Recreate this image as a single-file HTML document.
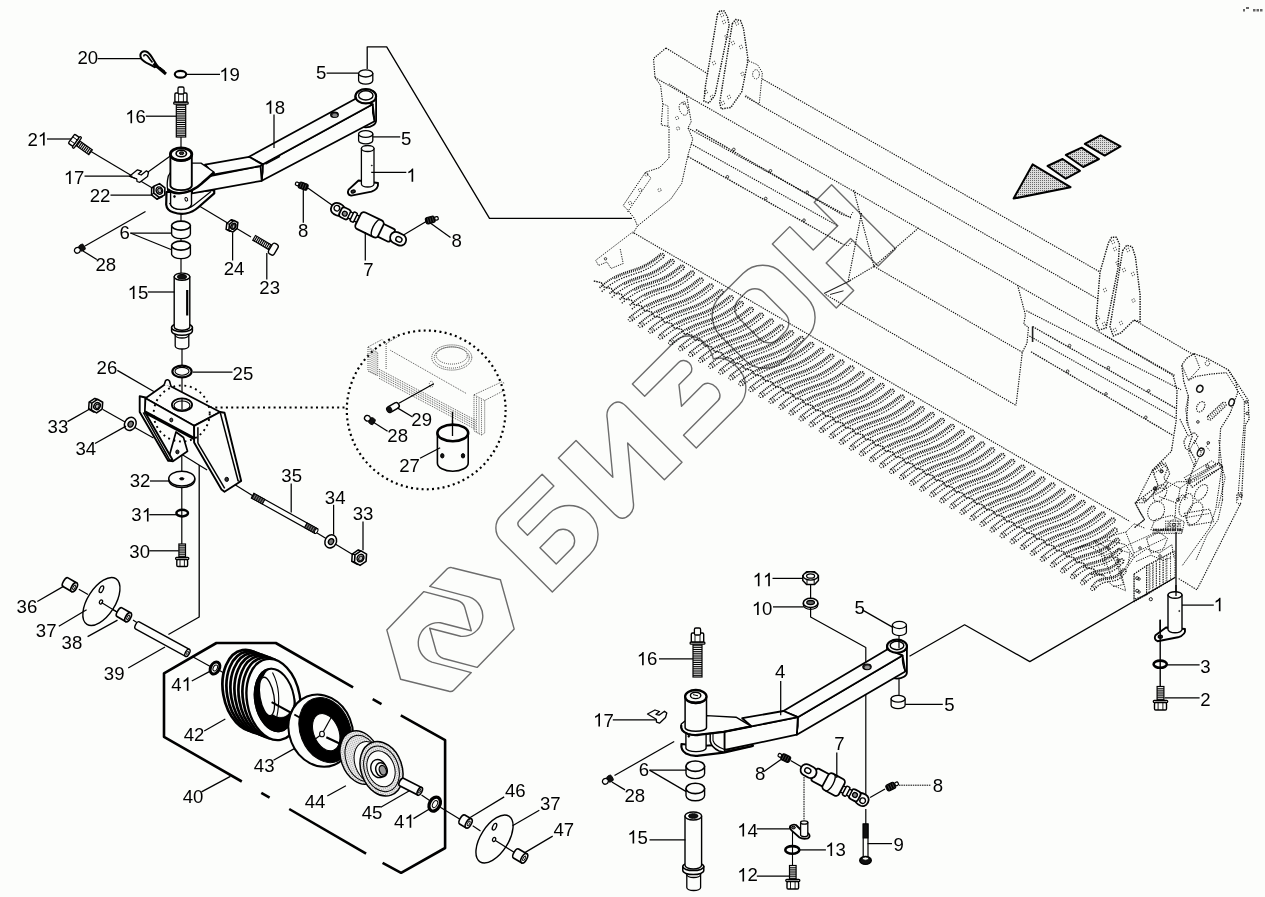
<!DOCTYPE html>
<html><head><meta charset="utf-8"><title>Parts diagram</title>
<style>html,body{margin:0;padding:0;background:#fcfdfb;}
svg{display:block;will-change:transform;}
text{font-family:"Liberation Sans",sans-serif;fill:#000;}</style></head>
<body><svg width="1265" height="897" viewBox="0 0 1265 897">
<rect width="1265" height="897" fill="#fcfdfb"/>
<g id="watermark"><path transform="rotate(-45) translate(-28.0 718.7)" d="M18,0 L76,0 L76,16.6 L27.5,16.6 Q22.5,16.6 22.5,21.6 L22.5,32.8 L53,32.8 A28.4,28.8 0 0 1 81.4,61.6 A28.4,28.8 0 0 1 53,90.4 L0,90.4 L0,18 A18,18 0 0 1 18,0 Z M22.5,50.4 L44,50.4 A11.2,11.5 0 0 1 44,73.4 L22.5,73.4 Z" fill="none" stroke="#6c6c6c" stroke-width="1.4" stroke-linejoin="round"/>
<path transform="rotate(-45) translate(71.0 718.7)" d="M0,0 L24.9,0 L24.9,52.1 L62.3,6.8 Q67,0 74,0 Q84.4,0 84.4,11 L84.4,90.4 L59.5,90.4 L59.5,38.4 L22.1,83.7 Q17.5,90.4 10.5,90.4 Q0,90.4 0,79.5 Z" fill="none" stroke="#6c6c6c" stroke-width="1.4" stroke-linejoin="round"/>
<path transform="rotate(-45) translate(175.6 718.7)" d="M0,0 L60,0 A20,21 0 0 1 80,21 C80,30 78,35 75,39.5 C82,43 86,50 86,62 A26,28.4 0 0 1 60,90.4 L0,90.4 L0,72.3 L49,72.3 A8,10.9 0 0 0 49,50.5 L19,50.5 L32.4,33.5 L48,33.5 A7,8 0 0 0 48,17.4 L0,17.4 Z" fill="none" stroke="#6c6c6c" stroke-width="1.4" stroke-linejoin="round"/>
<path transform="rotate(-45) translate(272.0 718.7)" d="M28,0 L60,0 A28,28 0 0 1 88,28 L88,62.4 A28,28 0 0 1 60,90.4 L28,90.4 A28,28 0 0 1 0,62.4 L0,28 A28,28 0 0 1 28,0 Z M38.5,15.5 L48.4,15.5 A13,13 0 0 1 61.4,28.5 L61.4,58.1 A13,13 0 0 1 48.4,71.1 L38.5,71.1 A13,13 0 0 1 25.5,58.1 L25.5,28.5 A13,13 0 0 1 38.5,15.5 Z" fill="none" stroke="#6c6c6c" stroke-width="1.4" stroke-linejoin="round"/>
<path transform="rotate(-45) translate(373.6 718.7)" d="M0,0 L24.6,0 L24.6,33.2 L59.2,33.2 L59.2,0 L83.8,0 L83.8,90.4 L59.2,90.4 L59.2,51.5 L24.6,51.5 L24.6,90.4 L0,90.4 Z" fill="none" stroke="#6c6c6c" stroke-width="1.4" stroke-linejoin="round"/>
<path d="M429.7,586.4 L447.3,568.8 Q449.2,566.9 452,567.7 L500.4,579.8 L514.2,629.1 L477.1,667.4 L443.5,658.5 Q437.8,656.6 436.3,651.8 L429.7,628.2 L460.6,636.3 A20.3,20.3 0 0 0 469.1,596.9 Z" fill="none" stroke="#6c6c6c" stroke-width="1.4" stroke-linejoin="round"/>
<path d="M429.7,586.4 L447.3,568.8 Q449.2,566.9 452,567.7 L500.4,579.8 L514.2,629.1 L477.1,667.4 L443.5,658.5 Q437.8,656.6 436.3,651.8 L429.7,628.2 L460.6,636.3 A20.3,20.3 0 0 0 469.1,596.9 Z" transform="rotate(180 450.5 629.5)" fill="none" stroke="#6c6c6c" stroke-width="1.4" stroke-linejoin="round"/></g>
<g id="machine"><path d="M762.4,79.0 L1100.0,272.0" fill="none" stroke="#111" stroke-width="1.15" stroke-linejoin="round" stroke-dasharray="1.3 1.1"/>
<path d="M745.0,96.4 L1099.0,299.6" fill="none" stroke="#111" stroke-width="1.15" stroke-linejoin="round" stroke-dasharray="1.3 1.1"/>
<path d="M1134.0,320.0 L1194.0,355.0" fill="none" stroke="#111" stroke-width="1.15" stroke-linejoin="round" stroke-dasharray="1.3 1.1"/>
<path d="M666.0,48.0 L708.6,74.3" fill="none" stroke="#111" stroke-width="1.15" stroke-linejoin="round" stroke-dasharray="1.3 1.1"/>
<path d="M655.0,77.5 L1175.0,375.5" fill="none" stroke="#111" stroke-width="1.15" stroke-linejoin="round" stroke-dasharray="1.3 1.1"/>
<path d="M666.0,48.0 L653.5,58.5 L655.0,77.5" fill="none" stroke="#111" stroke-width="1.15" stroke-linejoin="round" stroke-dasharray="1.3 1.1"/>
<path d="M634.0,233.0 L1130.0,521.5" fill="none" stroke="#111" stroke-width="1.15" stroke-linejoin="round" stroke-dasharray="1.3 1.1"/>
<path d="M655.0,77.5 L660.6,85.4 L662.8,104.3 L661.2,125.0 L669.0,126.5 L669.0,158.0 L659.6,167.6 L645.4,172.3 L623.2,205.5 L628.0,210.3 L634.3,218.2 L637.5,226.0 L632.7,234.0" fill="none" stroke="#111" stroke-width="1.0" stroke-linejoin="round" stroke-dasharray="1.4 1.1"/>
<path d="M669.0,83.8 L686.5,94.9 L691.2,121.7 L688.0,128.0 L692.8,139.0 L688.0,155.0 L681.7,183.4 L670.7,199.2 L637.5,226.0" fill="none" stroke="#111" stroke-width="1.0" stroke-linejoin="round" stroke-dasharray="1.4 1.1"/>
<path d="M663.0,104.0 L668.0,106.0 L668.0,126.0" fill="none" stroke="#111" stroke-width="0.8" stroke-linejoin="round" stroke-dasharray="1.3 1.1"/>
<ellipse cx="646.5" cy="174.5" rx="1.6" ry="1.6" fill="none" stroke="#111" stroke-width="0.8" stroke-dasharray="1.3 1.1"/>
<ellipse cx="640.0" cy="190.0" rx="1.6" ry="1.6" fill="none" stroke="#111" stroke-width="0.8" stroke-dasharray="1.3 1.1"/>
<ellipse cx="630.0" cy="203.0" rx="1.6" ry="1.6" fill="none" stroke="#111" stroke-width="0.8" stroke-dasharray="1.3 1.1"/>
<ellipse cx="659.5" cy="190.0" rx="1.6" ry="1.6" fill="none" stroke="#111" stroke-width="0.8" stroke-dasharray="1.3 1.1"/>
<ellipse cx="678.0" cy="128.5" rx="1.6" ry="1.6" fill="none" stroke="#111" stroke-width="0.8" stroke-dasharray="1.3 1.1"/>
<ellipse cx="684.0" cy="103.0" rx="1.6" ry="1.6" fill="none" stroke="#111" stroke-width="0.8" stroke-dasharray="1.3 1.1"/>
<ellipse cx="677.0" cy="118.0" rx="1.6" ry="1.6" fill="none" stroke="#111" stroke-width="0.8" stroke-dasharray="1.3 1.1"/>
<ellipse cx="683.5" cy="109.0" rx="4.0" ry="6.5" fill="none" stroke="#111" stroke-width="0.9" transform="rotate(-20 683.5 109.0)" stroke-dasharray="1.3 1.1"/>
<path d="M645.4,172.3 L651.0,178.0 L627.5,212.0" fill="none" stroke="#111" stroke-width="0.9" stroke-linejoin="round" stroke-dasharray="1.3 1.1"/>
<path d="M688.0,128.0 L851.0,218.0" fill="none" stroke="#111" stroke-width="1.15" stroke-linejoin="round" stroke-dasharray="1.3 1.1"/>
<path d="M696.0,129.6 L843.0,215.0" fill="none" stroke="#111" stroke-width="1.3" stroke-linejoin="round" stroke-dasharray="1.5 1"/>
<path d="M691.0,143.9 L838.0,226.0" fill="none" stroke="#111" stroke-width="1.15" stroke-linejoin="round" stroke-dasharray="1.3 1.1"/>
<path d="M688.0,156.5 L841.4,243.5" fill="none" stroke="#111" stroke-width="1.3" stroke-linejoin="round" stroke-dasharray="1.5 1"/>
<path d="M843.0,215.0 L850.0,217.0 L853.0,212.0" fill="none" stroke="#111" stroke-width="0.9" stroke-linejoin="round" stroke-dasharray="1.3 1.1"/>
<path d="M841.4,243.5 L848.0,246.0 L852.0,241.0" fill="none" stroke="#111" stroke-width="0.9" stroke-linejoin="round" stroke-dasharray="1.3 1.1"/>
<ellipse cx="733.8" cy="149.4" rx="1.3" ry="1.3" fill="none" stroke="#111" stroke-width="0.8" />
<ellipse cx="727.4" cy="176.8" rx="1.3" ry="1.3" fill="none" stroke="#111" stroke-width="0.8" />
<ellipse cx="770.5" cy="170.8" rx="1.3" ry="1.3" fill="none" stroke="#111" stroke-width="0.8" />
<ellipse cx="765.7" cy="198.5" rx="1.3" ry="1.3" fill="none" stroke="#111" stroke-width="0.8" />
<ellipse cx="807.2" cy="192.2" rx="1.3" ry="1.3" fill="none" stroke="#111" stroke-width="0.8" />
<ellipse cx="804.0" cy="220.2" rx="1.3" ry="1.3" fill="none" stroke="#111" stroke-width="0.8" />
<path d="M717.5,14.2 L719.7,11.0 L724.4,11.0 L727.6,17.4 L729.2,25.3 L715.0,95.0 L709.0,103.0 L703.9,101.2 L705.5,85.4 Z" fill="none" stroke="#111" stroke-width="1.4" stroke-linejoin="round" stroke-dasharray="1.4 1.1"/>
<path d="M732.3,23.7 L735.5,19.5 L740.5,20.5 L743.5,28.5 L748.1,60.0 L741.8,91.7 L730.8,107.5 L721.3,109.0 L719.7,102.8 Z" fill="none" stroke="#111" stroke-width="1.4" stroke-linejoin="round" stroke-dasharray="1.4 1.1"/>
<path d="M746.6,60.0 L757.6,64.8 L762.4,72.7 L759.2,104.3 L745.0,94.9" fill="none" stroke="#111" stroke-width="0.9" stroke-linejoin="round" stroke-dasharray="1.3 1.1"/>
<ellipse cx="756.0" cy="74.3" rx="3.4" ry="4.6" fill="none" stroke="#111" stroke-width="0.9" stroke-dasharray="1.3 1.1"/>
<ellipse cx="722.0" cy="15.0" rx="1.6" ry="1.8" fill="none" stroke="#111" stroke-width="0.8" stroke-dasharray="1.3 1.1"/>
<ellipse cx="724.0" cy="22.0" rx="1.6" ry="1.8" fill="none" stroke="#111" stroke-width="0.8" stroke-dasharray="1.3 1.1"/>
<ellipse cx="737.0" cy="23.5" rx="1.6" ry="1.8" fill="none" stroke="#111" stroke-width="0.8" stroke-dasharray="1.3 1.1"/>
<ellipse cx="726.5" cy="36.5" rx="1.6" ry="1.8" fill="none" stroke="#111" stroke-width="0.8" stroke-dasharray="1.3 1.1"/>
<ellipse cx="733.0" cy="43.0" rx="1.6" ry="1.8" fill="none" stroke="#111" stroke-width="0.8" stroke-dasharray="1.3 1.1"/>
<ellipse cx="741.0" cy="47.0" rx="1.6" ry="1.8" fill="none" stroke="#111" stroke-width="0.8" stroke-dasharray="1.3 1.1"/>
<ellipse cx="714.0" cy="63.0" rx="1.6" ry="1.8" fill="none" stroke="#111" stroke-width="0.8" stroke-dasharray="1.3 1.1"/>
<ellipse cx="742.5" cy="74.0" rx="1.6" ry="1.8" fill="none" stroke="#111" stroke-width="0.8" stroke-dasharray="1.3 1.1"/>
<ellipse cx="706.0" cy="92.0" rx="1.6" ry="1.8" fill="none" stroke="#111" stroke-width="0.8" stroke-dasharray="1.3 1.1"/>
<ellipse cx="712.0" cy="97.0" rx="1.6" ry="1.8" fill="none" stroke="#111" stroke-width="0.8" stroke-dasharray="1.3 1.1"/>
<ellipse cx="723.0" cy="103.0" rx="1.6" ry="1.8" fill="none" stroke="#111" stroke-width="0.8" stroke-dasharray="1.3 1.1"/>
<ellipse cx="729.0" cy="97.0" rx="1.6" ry="1.8" fill="none" stroke="#111" stroke-width="0.8" stroke-dasharray="1.3 1.1"/>
<path d="M853.7,190.0 L874.0,266.4 L847.4,282.0" fill="none" stroke="#111" stroke-width="1.15" stroke-linejoin="round" stroke-dasharray="1.3 1.1"/>
<path d="M861.5,213.0 L848.2,281.0" fill="none" stroke="#111" stroke-width="1.15" stroke-linejoin="round" stroke-dasharray="1.3 1.1"/>
<line x1="824.0" y1="293.6" x2="850.5" y2="280.5" stroke="#222" stroke-width="1.1" />
<line x1="830.0" y1="294.5" x2="843.5" y2="290.8" stroke="#222" stroke-width="1" />
<path d="M874.0,266.4 L919.2,227.4" fill="none" stroke="#111" stroke-width="1.15" stroke-linejoin="round" stroke-dasharray="1.3 1.1"/>
<path d="M874.0,266.4 L1022.3,352.3" fill="none" stroke="#111" stroke-width="1.15" stroke-linejoin="round" stroke-dasharray="1.3 1.1"/>
<path d="M825.6,294.5 L1016.0,405.4" fill="none" stroke="#111" stroke-width="1.15" stroke-linejoin="round" stroke-dasharray="1.3 1.1"/>
<path d="M1017.6,285.2 L1025.4,314.8 L1023.8,324.0 L1028.5,327.3 L1027.0,343.0 L1022.3,352.3 L1016.0,405.4" fill="none" stroke="#111" stroke-width="1.15" stroke-linejoin="round" stroke-dasharray="1.3 1.1"/>
<line x1="1032.6" y1="326.5" x2="1032.6" y2="342.0" stroke="#222" stroke-width="1.6" />
<path d="M1026.3,310.7 L1181.0,389.7" fill="none" stroke="#111" stroke-width="1.15" stroke-linejoin="round" stroke-dasharray="1.3 1.1"/>
<path d="M1032.6,326.5 L1176.5,408.7" fill="none" stroke="#111" stroke-width="1.3" stroke-linejoin="round" stroke-dasharray="1.5 1"/>
<path d="M1029.4,336.0 L1175.0,418.0" fill="none" stroke="#111" stroke-width="1.15" stroke-linejoin="round" stroke-dasharray="1.3 1.1"/>
<path d="M1031.0,351.8 L1173.3,435.6" fill="none" stroke="#111" stroke-width="1.3" stroke-linejoin="round" stroke-dasharray="1.5 1"/>
<ellipse cx="1069.6" cy="345.6" rx="1.3" ry="1.3" fill="none" stroke="#111" stroke-width="0.8" />
<ellipse cx="1067.6" cy="371.2" rx="1.3" ry="1.3" fill="none" stroke="#111" stroke-width="0.8" />
<ellipse cx="1108.4" cy="367.7" rx="1.3" ry="1.3" fill="none" stroke="#111" stroke-width="0.8" />
<ellipse cx="1106.0" cy="393.9" rx="1.3" ry="1.3" fill="none" stroke="#111" stroke-width="0.8" />
<ellipse cx="1148.7" cy="390.8" rx="1.3" ry="1.3" fill="none" stroke="#111" stroke-width="0.8" />
<ellipse cx="1145.8" cy="417.3" rx="1.3" ry="1.3" fill="none" stroke="#111" stroke-width="0.8" />
<path d="M1108.5,242.7 L1111.6,237.3 L1116.4,237.3 L1119.5,244.3 L1118.0,268.0 L1106.0,328.0 L1099.0,330.0 L1096.0,322.0 L1100.0,272.0 Z" fill="none" stroke="#111" stroke-width="1.4" stroke-linejoin="round" stroke-dasharray="1.4 1.1"/>
<path d="M1122.7,250.6 L1126.8,245.2 L1132.2,246.8 L1135.4,257.0 L1140.1,294.9 L1140.1,321.7 L1133.8,320.2 L1121.0,332.8 L1113.2,336.0 L1110.0,326.5 Z" fill="none" stroke="#111" stroke-width="1.4" stroke-linejoin="round" stroke-dasharray="1.4 1.1"/>
<ellipse cx="1113.0" cy="242.0" rx="1.6" ry="1.8" fill="none" stroke="#111" stroke-width="0.8" stroke-dasharray="1.3 1.1"/>
<ellipse cx="1115.0" cy="249.0" rx="1.6" ry="1.8" fill="none" stroke="#111" stroke-width="0.8" stroke-dasharray="1.3 1.1"/>
<ellipse cx="1128.0" cy="250.0" rx="1.6" ry="1.8" fill="none" stroke="#111" stroke-width="0.8" stroke-dasharray="1.3 1.1"/>
<ellipse cx="1117.5" cy="263.0" rx="1.6" ry="1.8" fill="none" stroke="#111" stroke-width="0.8" stroke-dasharray="1.3 1.1"/>
<ellipse cx="1124.0" cy="270.0" rx="1.6" ry="1.8" fill="none" stroke="#111" stroke-width="0.8" stroke-dasharray="1.3 1.1"/>
<ellipse cx="1133.0" cy="274.0" rx="1.6" ry="1.8" fill="none" stroke="#111" stroke-width="0.8" stroke-dasharray="1.3 1.1"/>
<ellipse cx="1105.0" cy="290.0" rx="1.6" ry="1.8" fill="none" stroke="#111" stroke-width="0.8" stroke-dasharray="1.3 1.1"/>
<ellipse cx="1133.5" cy="300.5" rx="1.6" ry="1.8" fill="none" stroke="#111" stroke-width="0.8" stroke-dasharray="1.3 1.1"/>
<ellipse cx="1098.0" cy="318.0" rx="1.6" ry="1.8" fill="none" stroke="#111" stroke-width="0.8" stroke-dasharray="1.3 1.1"/>
<ellipse cx="1104.0" cy="324.0" rx="1.6" ry="1.8" fill="none" stroke="#111" stroke-width="0.8" stroke-dasharray="1.3 1.1"/>
<ellipse cx="1115.0" cy="330.0" rx="1.6" ry="1.8" fill="none" stroke="#111" stroke-width="0.8" stroke-dasharray="1.3 1.1"/>
<ellipse cx="1121.0" cy="323.0" rx="1.6" ry="1.8" fill="none" stroke="#111" stroke-width="0.8" stroke-dasharray="1.3 1.1"/>
<path d="M1194.1,353.7 L1186.5,358.4 L1181.8,365.1 L1183.7,381.2 L1188.4,396.4 L1186.5,421.0 L1192.2,436.2 L1188.4,447.5 L1196.0,460.8 L1188.4,481.7 L1184.6,500.0" fill="none" stroke="#111" stroke-width="1.25" stroke-linejoin="round" stroke-dasharray="1.4 1.1"/>
<path d="M1194.1,353.7 L1207.4,358.4 L1228.2,369.8" fill="none" stroke="#111" stroke-width="1.25" stroke-linejoin="round" stroke-dasharray="1.4 1.1"/>
<path d="M1173.2,375.5 L1177.0,390.7 L1176.1,421.0 L1171.4,451.3 L1152.4,470.3 L1158.1,485.5 L1139.1,500.0" fill="none" stroke="#111" stroke-width="1.25" stroke-linejoin="round" stroke-dasharray="1.4 1.1"/>
<path d="M1105.0,335.7 L1173.2,375.5" fill="none" stroke="#111" stroke-width="1.15" stroke-linejoin="round" stroke-dasharray="1.3 1.1"/>
<path d="M1228.2,369.8 L1235.8,381.2 L1237.7,392.6 L1230.1,413.4 L1220.6,428.6 L1218.7,462.7 L1222.5,466.5 L1222.5,500.0" fill="none" stroke="#111" stroke-width="1.2" stroke-linejoin="round" stroke-dasharray="1.3 1.1"/>
<path d="M1228.2,369.8 L1248.1,400.1 L1249.1,419.1 L1245.3,424.8 L1241.5,500.0" fill="none" stroke="#111" stroke-width="1.2" stroke-linejoin="round" stroke-dasharray="1.3 1.1"/>
<path d="M1226.3,372.7 L1244.3,401.1 L1244.3,421.0 L1237.7,500.0" fill="none" stroke="#111" stroke-width="1.0" stroke-linejoin="round" stroke-dasharray="1.3 1.1"/>
<path d="M1188.4,380.2 L1196.0,376.4 L1211.2,374.0 L1226.3,372.7" fill="none" stroke="#111" stroke-width="1.2" stroke-linejoin="round" stroke-dasharray="1.3 1.1"/>
<path d="M1181.8,365.1 L1188.4,380.2" fill="none" stroke="#111" stroke-width="1.0" stroke-linejoin="round" stroke-dasharray="1.3 1.1"/>
<path d="M1194.1,353.7 L1199.8,367.9 L1188.4,380.2" fill="none" stroke="#111" stroke-width="1.0" stroke-linejoin="round" stroke-dasharray="1.3 1.1"/>
<path d="M1188.4,481.7 L1218.7,462.7 L1222.5,466.5 L1192.2,487.3 Z" fill="none" stroke="#111" stroke-width="1.2" stroke-linejoin="round" stroke-dasharray="1.3 1.1"/>
<path d="M1194.1,479.8 L1216.8,465.5" fill="none" stroke="#111" stroke-width="0.9" stroke-linejoin="round" stroke-dasharray="1.3 1.1"/>
<path d="M1196.0,483.6 L1218.7,469.3" fill="none" stroke="#111" stroke-width="0.9" stroke-linejoin="round" stroke-dasharray="1.3 1.1"/>
<path d="M1186.5,436.2 L1183.7,441.8 L1185.6,448.5 L1191.3,452.3" fill="none" stroke="#111" stroke-width="1.2" stroke-linejoin="round" stroke-dasharray="1.3 1.1"/>
<path d="M1179.9,419.1 L1188.4,436.2 L1194.1,432.4 L1197.9,436.2 L1194.1,443.7" fill="none" stroke="#111" stroke-width="1.1" stroke-linejoin="round" stroke-dasharray="1.3 1.1"/>
<path d="M1152.4,470.3 L1161.9,462.7 L1167.6,468.4 L1163.8,477.9 L1167.6,483.6 L1161.9,491.1 L1154.3,494.9" fill="none" stroke="#111" stroke-width="1.1" stroke-linejoin="round" stroke-dasharray="1.3 1.1"/>
<path d="M1161.9,491.1 L1177.0,481.7 L1188.4,481.7" fill="none" stroke="#111" stroke-width="1.0" stroke-linejoin="round" stroke-dasharray="1.3 1.1"/>
<path d="M1188.4,396.4 L1185.6,409.6 L1188.4,424.8" fill="none" stroke="#111" stroke-width="0.9" stroke-linejoin="round" stroke-dasharray="1.3 1.1"/>
<ellipse cx="1199.8" cy="388.8" rx="3.0" ry="3.6" fill="none" stroke="#111" stroke-width="1.6" transform="rotate(30 1199.8 388.8)" />
<ellipse cx="1200.7" cy="406.8" rx="3.6" ry="5.6" fill="none" stroke="#111" stroke-width="1.1" transform="rotate(30 1200.7 406.8)" stroke-dasharray="1.3 1.1"/>
<ellipse cx="1231.6" cy="402.4" rx="2.6" ry="3.6" fill="none" stroke="#111" stroke-width="1.4" transform="rotate(20 1231.6 402.4)" />
<ellipse cx="1200.7" cy="452.3" rx="3.0" ry="4.5" fill="none" stroke="#111" stroke-width="1.4" transform="rotate(30 1200.7 452.3)" />
<ellipse cx="1207.4" cy="363.2" rx="2.2" ry="2.6" fill="none" stroke="#111" stroke-width="1" stroke-dasharray="1.3 1.1"/>
<rect x="1204.8" y="408.7" width="24" height="4.8" rx="2.4" fill="none" stroke="#111" stroke-width="1.1" stroke-dasharray="1.3 1.1" transform="rotate(-43 1216.8 411.1)"/>
<line x1="1208.3" y1="416.3" x2="1210.9" y2="418.9" stroke="#111" stroke-width="0.7" />
<line x1="1210.1" y1="414.7" x2="1212.7" y2="417.3" stroke="#111" stroke-width="0.7" />
<line x1="1211.8" y1="413.0" x2="1214.4" y2="415.6" stroke="#111" stroke-width="0.7" />
<line x1="1213.5" y1="411.4" x2="1216.1" y2="414.0" stroke="#111" stroke-width="0.7" />
<line x1="1215.2" y1="409.8" x2="1217.8" y2="412.4" stroke="#111" stroke-width="0.7" />
<line x1="1216.9" y1="408.1" x2="1219.5" y2="410.7" stroke="#111" stroke-width="0.7" />
<line x1="1218.6" y1="406.5" x2="1221.2" y2="409.1" stroke="#111" stroke-width="0.7" />
<line x1="1220.3" y1="404.9" x2="1222.9" y2="407.5" stroke="#111" stroke-width="0.7" />
<line x1="1222.0" y1="403.2" x2="1224.6" y2="405.8" stroke="#111" stroke-width="0.7" />
<ellipse cx="1197.9" cy="421.9" rx="1.3" ry="1.3" fill="none" stroke="#111" stroke-width="0.9" />
<ellipse cx="1208.3" cy="442.8" rx="1.3" ry="1.3" fill="none" stroke="#111" stroke-width="0.9" />
<ellipse cx="1161.9" cy="471.2" rx="1.3" ry="1.3" fill="none" stroke="#111" stroke-width="0.9" />
<ellipse cx="1155.2" cy="489.2" rx="1.3" ry="1.3" fill="none" stroke="#111" stroke-width="0.9" />
<ellipse cx="1246.2" cy="402.0" rx="1.3" ry="1.3" fill="none" stroke="#111" stroke-width="0.9" />
<ellipse cx="1247.2" cy="413.4" rx="1.3" ry="1.3" fill="none" stroke="#111" stroke-width="0.9" />
<path d="M1240.9,502.8 L1196.9,589.8 L1178.0,578.2" fill="none" stroke="#111" stroke-width="1.1" stroke-linejoin="round" stroke-dasharray="1.4 1.1"/>
<path d="M1222.5,500.0 L1218.0,520.0 L1207.0,535.0 L1196.0,560.0" fill="none" stroke="#111" stroke-width="1.0" stroke-linejoin="round" stroke-dasharray="1.3 1.1"/>
<path d="M1139.0,500.0 L1135.1,502.8 L1144.5,519.6 L1134.0,528.0" fill="none" stroke="#111" stroke-width="1.1" stroke-linejoin="round" stroke-dasharray="1.4 1.1"/>
<ellipse cx="1160.0" cy="493.0" rx="6.0" ry="9.0" fill="none" stroke="#111" stroke-width="1.0" transform="rotate(30 1160.0 493.0)" stroke-dasharray="1.3 1.1"/>
<ellipse cx="1186.0" cy="505.0" rx="6.0" ry="12.0" fill="none" stroke="#111" stroke-width="1.0" transform="rotate(20 1186.0 505.0)" stroke-dasharray="1.3 1.1"/>
<ellipse cx="1174.0" cy="523.8" rx="5.0" ry="4.0" fill="none" stroke="#111" stroke-width="0.9" stroke-dasharray="1.3 1.1"/>
<line x1="1153.0" y1="530.0" x2="1182.0" y2="530.0" stroke="#111" stroke-width="0.8" stroke-dasharray="1.3 1.1"/>
<line x1="1153.0" y1="530.0" x2="1182.0" y2="530.0" stroke="#111" stroke-width="0.8" stroke-dasharray="1.3 1.1"/>
<line x1="1153.0" y1="530.0" x2="1182.0" y2="530.0" stroke="#111" stroke-width="0.8" stroke-dasharray="1.3 1.1"/>
<line x1="1153.0" y1="530.0" x2="1182.0" y2="530.0" stroke="#111" stroke-width="0.8" stroke-dasharray="1.3 1.1"/>
<line x1="1153.0" y1="530.0" x2="1182.0" y2="530.0" stroke="#111" stroke-width="0.8" stroke-dasharray="1.3 1.1"/>
<line x1="1153.0" y1="530.0" x2="1182.0" y2="530.0" stroke="#111" stroke-width="0.8" stroke-dasharray="1.3 1.1"/>
<line x1="1153.0" y1="530.0" x2="1182.0" y2="530.0" stroke="#111" stroke-width="0.8" stroke-dasharray="1.3 1.1"/>
<line x1="1153.0" y1="530.0" x2="1182.0" y2="530.0" stroke="#111" stroke-width="0.8" stroke-dasharray="1.3 1.1"/>
<rect x="1153" y="529" width="29" height="4.5" fill="none" stroke="#111" stroke-width="0.8" stroke-dasharray="1.3 1.1"/>
<line x1="1154.0" y1="529.0" x2="1154.0" y2="533.5" stroke="#666" stroke-width="0.5" />
<line x1="1156.1" y1="529.0" x2="1156.1" y2="533.5" stroke="#666" stroke-width="0.5" />
<line x1="1158.2" y1="529.0" x2="1158.2" y2="533.5" stroke="#666" stroke-width="0.5" />
<line x1="1160.3" y1="529.0" x2="1160.3" y2="533.5" stroke="#666" stroke-width="0.5" />
<line x1="1162.4" y1="529.0" x2="1162.4" y2="533.5" stroke="#666" stroke-width="0.5" />
<line x1="1164.5" y1="529.0" x2="1164.5" y2="533.5" stroke="#666" stroke-width="0.5" />
<line x1="1166.6" y1="529.0" x2="1166.6" y2="533.5" stroke="#666" stroke-width="0.5" />
<line x1="1168.7" y1="529.0" x2="1168.7" y2="533.5" stroke="#666" stroke-width="0.5" />
<line x1="1170.8" y1="529.0" x2="1170.8" y2="533.5" stroke="#666" stroke-width="0.5" />
<line x1="1172.9" y1="529.0" x2="1172.9" y2="533.5" stroke="#666" stroke-width="0.5" />
<line x1="1175.0" y1="529.0" x2="1175.0" y2="533.5" stroke="#666" stroke-width="0.5" />
<line x1="1177.1" y1="529.0" x2="1177.1" y2="533.5" stroke="#666" stroke-width="0.5" />
<line x1="1179.2" y1="529.0" x2="1179.2" y2="533.5" stroke="#666" stroke-width="0.5" />
<line x1="1181.3" y1="529.0" x2="1181.3" y2="533.5" stroke="#666" stroke-width="0.5" />
<path d="M1075.4,549.0 L1094.3,540.5 L1125.7,532.0 L1134.0,553.0 L1121.5,574.0 L1125.7,590.8 L1111.0,584.5 L1104.7,576.0 L1090.0,574.0" fill="none" stroke="#111" stroke-width="0.9" stroke-linejoin="round" stroke-dasharray="1.3 1.1"/>
<path d="M1094.3,540.5 L1104.0,556.0 L1112.0,580.0" fill="none" stroke="#111" stroke-width="0.9" stroke-linejoin="round" stroke-dasharray="1.3 1.1"/>
<path d="M1104.0,556.0 L1128.0,545.0" fill="none" stroke="#111" stroke-width="0.9" stroke-linejoin="round" stroke-dasharray="1.3 1.1"/>
<path d="M1134.0,574.0 L1146.6,565.7 L1146.6,595.0 L1134.0,602.0 Z" fill="none" stroke="#111" stroke-width="0.9" stroke-linejoin="round" stroke-dasharray="1.3 1.1"/>
<path d="M1146.6,565.7 L1175.0,551.0 L1175.0,578.0" fill="none" stroke="#111" stroke-width="0.9" stroke-linejoin="round" stroke-dasharray="1.3 1.1"/>
<path d="M1128.0,545.0 L1170.0,526.0" fill="none" stroke="#111" stroke-width="0.9" stroke-linejoin="round" stroke-dasharray="1.3 1.1"/>
<path d="M1134.0,553.0 L1166.0,538.0" fill="none" stroke="#111" stroke-width="0.9" stroke-linejoin="round" stroke-dasharray="1.3 1.1"/>
<line x1="1150.0" y1="566.0" x2="1150.0" y2="590.0" stroke="#111" stroke-width="0.7" stroke-dasharray="1.3 1.1"/>
<line x1="1153.2" y1="564.5" x2="1153.2" y2="588.5" stroke="#111" stroke-width="0.7" stroke-dasharray="1.3 1.1"/>
<line x1="1156.4" y1="563.0" x2="1156.4" y2="587.0" stroke="#111" stroke-width="0.7" stroke-dasharray="1.3 1.1"/>
<line x1="1159.6" y1="561.5" x2="1159.6" y2="585.5" stroke="#111" stroke-width="0.7" stroke-dasharray="1.3 1.1"/>
<line x1="1162.8" y1="560.0" x2="1162.8" y2="584.0" stroke="#111" stroke-width="0.7" stroke-dasharray="1.3 1.1"/>
<line x1="1166.0" y1="558.5" x2="1166.0" y2="582.5" stroke="#111" stroke-width="0.7" stroke-dasharray="1.3 1.1"/>
<ellipse cx="1150.8" cy="599.2" rx="1.6" ry="1.6" fill="none" stroke="#111" stroke-width="0.9" />
<ellipse cx="1139.0" cy="579.0" rx="1.3" ry="1.3" fill="none" stroke="#111" stroke-width="0.8" />
<ellipse cx="1139.0" cy="592.0" rx="1.3" ry="1.3" fill="none" stroke="#111" stroke-width="0.8" />
<ellipse cx="1118.0" cy="560.0" rx="1.3" ry="1.3" fill="none" stroke="#111" stroke-width="0.8" />
<ellipse cx="1108.0" cy="548.0" rx="1.3" ry="1.3" fill="none" stroke="#111" stroke-width="0.8" />
<ellipse cx="1140.0" cy="548.0" rx="1.3" ry="1.3" fill="none" stroke="#111" stroke-width="0.8" />
<ellipse cx="1160.0" cy="556.0" rx="1.3" ry="1.3" fill="none" stroke="#111" stroke-width="0.8" />
<path d="M1218.9,440.0 L1222.0,467.2 L1215.8,509.1 L1209.5,528.0 L1182.2,565.7" fill="none" stroke="#111" stroke-width="1.0" stroke-linejoin="round" stroke-dasharray="1.3 1.1"/>
<path d="M1184.3,477.7 L1211.6,460.9 L1222.0,467.2 L1188.5,484.0 Z" fill="none" stroke="#111" stroke-width="1.0" stroke-linejoin="round" stroke-dasharray="1.3 1.1"/>
<path d="M1186.4,479.8 L1215.8,464.1" fill="none" stroke="#111" stroke-width="0.9" stroke-linejoin="round" stroke-dasharray="1.3 1.1"/>
<path d="M1184.3,513.3 L1209.5,509.1 L1213.7,521.7 L1188.5,525.9 Z" fill="none" stroke="#111" stroke-width="1.0" stroke-linejoin="round" stroke-dasharray="1.3 1.1"/>
<path d="M1186.4,517.5 L1210.5,513.3" fill="none" stroke="#111" stroke-width="0.9" stroke-linejoin="round" stroke-dasharray="1.3 1.1"/>
<path d="M1136.2,502.8 L1151.9,471.4 L1165.5,463.0 L1169.7,473.5 L1165.5,481.9 L1155.0,492.4 L1144.5,502.8 L1135.1,502.8 L1139.3,511.2 L1144.5,519.6 L1134.1,528.0" fill="none" stroke="#111" stroke-width="1.1" stroke-linejoin="round" stroke-dasharray="1.3 1.1"/>
<path d="M1154.0,473.5 L1164.4,466.2" fill="none" stroke="#111" stroke-width="0.9" stroke-linejoin="round" stroke-dasharray="1.3 1.1"/>
<path d="M1146.6,500.7 L1157.1,488.2 L1165.5,488.2" fill="none" stroke="#111" stroke-width="0.9" stroke-linejoin="round" stroke-dasharray="1.3 1.1"/>
<path d="M1159.2,496.6 L1176.0,502.8 L1182.2,494.5 L1188.5,498.7" fill="none" stroke="#111" stroke-width="1.0" stroke-linejoin="round" stroke-dasharray="1.3 1.1"/>
<path d="M1167.6,481.9 L1180.1,488.2 L1188.5,481.9" fill="none" stroke="#111" stroke-width="1.0" stroke-linejoin="round" stroke-dasharray="1.3 1.1"/>
<path d="M1176.0,502.8 L1174.9,519.6" fill="none" stroke="#111" stroke-width="1.0" stroke-linejoin="round" stroke-dasharray="1.3 1.1"/>
<path d="M1180.1,488.2 L1178.0,500.7" fill="none" stroke="#111" stroke-width="1.0" stroke-linejoin="round" stroke-dasharray="1.3 1.1"/>
<path d="M1150.8,530.1 L1155.0,519.6 L1171.8,515.4 L1184.3,521.7 L1182.2,532.2" fill="none" stroke="#111" stroke-width="1.0" stroke-linejoin="round" stroke-dasharray="1.3 1.1"/>
<path d="M1165.5,520.6 L1165.5,529.0" fill="none" stroke="#111" stroke-width="0.7" stroke-linejoin="round" stroke-dasharray="1.3 1.1"/>
<path d="M1167.2,520.6 L1167.2,529.0" fill="none" stroke="#111" stroke-width="0.7" stroke-linejoin="round" stroke-dasharray="1.3 1.1"/>
<path d="M1168.8,520.6 L1168.8,529.0" fill="none" stroke="#111" stroke-width="0.7" stroke-linejoin="round" stroke-dasharray="1.3 1.1"/>
<path d="M1170.5,520.6 L1170.5,529.0" fill="none" stroke="#111" stroke-width="0.7" stroke-linejoin="round" stroke-dasharray="1.3 1.1"/>
<path d="M1172.2,520.6 L1172.2,529.0" fill="none" stroke="#111" stroke-width="0.7" stroke-linejoin="round" stroke-dasharray="1.3 1.1"/>
<path d="M1173.9,520.6 L1173.9,529.0" fill="none" stroke="#111" stroke-width="0.7" stroke-linejoin="round" stroke-dasharray="1.3 1.1"/>
<path d="M1175.5,520.6 L1175.5,529.0" fill="none" stroke="#111" stroke-width="0.7" stroke-linejoin="round" stroke-dasharray="1.3 1.1"/>
<path d="M1177.2,520.6 L1177.2,529.0" fill="none" stroke="#111" stroke-width="0.7" stroke-linejoin="round" stroke-dasharray="1.3 1.1"/>
<path d="M1178.9,520.6 L1178.9,529.0" fill="none" stroke="#111" stroke-width="0.7" stroke-linejoin="round" stroke-dasharray="1.3 1.1"/>
<path d="M1180.6,520.6 L1180.6,529.0" fill="none" stroke="#111" stroke-width="0.7" stroke-linejoin="round" stroke-dasharray="1.3 1.1"/>
<path d="M1146.6,538.4 L1159.2,532.2 L1167.6,538.4 L1163.4,548.9 L1150.8,553.1 L1146.6,538.4" fill="none" stroke="#111" stroke-width="1.0" stroke-linejoin="round" stroke-dasharray="1.3 1.1"/>
<path d="M1134.1,557.3 L1146.6,548.9 L1159.2,553.1 L1171.8,544.7 L1173.9,557.3" fill="none" stroke="#111" stroke-width="1.0" stroke-linejoin="round" stroke-dasharray="1.3 1.1"/>
<path d="M1136.2,561.5 L1150.8,555.2 L1163.4,560.4 L1171.8,557.3" fill="none" stroke="#111" stroke-width="1.0" stroke-linejoin="round" stroke-dasharray="1.3 1.1"/>
<path d="M1125.7,532.2 L1134.1,523.8 L1144.5,528.0" fill="none" stroke="#111" stroke-width="1.0" stroke-linejoin="round" stroke-dasharray="1.3 1.1"/>
<path d="M1094.3,540.5 L1108.9,548.9 L1117.3,565.7 L1123.6,584.5 L1113.1,586.6" fill="none" stroke="#111" stroke-width="1.0" stroke-linejoin="round" stroke-dasharray="1.3 1.1"/>
<path d="M1098.4,544.7 L1108.9,540.5 L1125.7,544.7 L1134.1,557.3 L1125.7,569.9" fill="none" stroke="#111" stroke-width="1.0" stroke-linejoin="round" stroke-dasharray="1.3 1.1"/>
<path d="M1117.3,548.9 L1129.9,553.1 L1127.8,565.7" fill="none" stroke="#111" stroke-width="0.9" stroke-linejoin="round" stroke-dasharray="1.3 1.1"/>
<path d="M1104.7,557.3 L1117.3,557.3 L1121.5,574.1" fill="none" stroke="#111" stroke-width="0.9" stroke-linejoin="round" stroke-dasharray="1.3 1.1"/>
<path d="M1075.4,548.9 L1088.0,544.7 L1100.5,553.1 L1104.7,565.7" fill="none" stroke="#111" stroke-width="1.0" stroke-linejoin="round" stroke-dasharray="1.3 1.1"/>
<path d="M1134.1,574.1 L1146.6,565.7 L1146.6,595.0 L1134.1,599.2 Z" fill="none" stroke="#111" stroke-width="1.1" stroke-linejoin="round" stroke-dasharray="1.3 1.1"/>
<path d="M1146.6,565.7 L1173.9,551.0" fill="none" stroke="#111" stroke-width="1.0" stroke-linejoin="round" stroke-dasharray="1.3 1.1"/>
<path d="M1146.6,595.0 L1173.9,578.2" fill="none" stroke="#111" stroke-width="1.0" stroke-linejoin="round" stroke-dasharray="1.3 1.1"/>
<path d="M1149.1,564.8 L1149.1,594.0" fill="none" stroke="#111" stroke-width="0.8" stroke-linejoin="round" stroke-dasharray="1.3 1.1"/>
<path d="M1152.7,563.0 L1152.7,591.7" fill="none" stroke="#111" stroke-width="0.8" stroke-linejoin="round" stroke-dasharray="1.3 1.1"/>
<path d="M1156.3,561.1 L1156.3,589.4" fill="none" stroke="#111" stroke-width="0.8" stroke-linejoin="round" stroke-dasharray="1.3 1.1"/>
<path d="M1159.8,559.2 L1159.8,587.0" fill="none" stroke="#111" stroke-width="0.8" stroke-linejoin="round" stroke-dasharray="1.3 1.1"/>
<path d="M1163.4,557.3 L1163.4,584.7" fill="none" stroke="#111" stroke-width="0.8" stroke-linejoin="round" stroke-dasharray="1.3 1.1"/>
<path d="M1166.9,555.4 L1166.9,582.4" fill="none" stroke="#111" stroke-width="0.8" stroke-linejoin="round" stroke-dasharray="1.3 1.1"/>
<path d="M1170.5,553.5 L1170.5,580.1" fill="none" stroke="#111" stroke-width="0.8" stroke-linejoin="round" stroke-dasharray="1.3 1.1"/>
<path d="M1194.8,440.0 L1188.5,452.6 L1194.8,467.2 L1201.1,452.6 L1194.8,440.0" fill="none" stroke="#111" stroke-width="0.9" stroke-linejoin="round" stroke-dasharray="1.3 1.1"/>
<path d="M1209.5,442.1 L1206.3,446.3 L1209.5,450.5" fill="none" stroke="#111" stroke-width="0.9" stroke-linejoin="round" stroke-dasharray="1.3 1.1"/>
<path d="M1240.9,492.4 L1236.7,494.5 L1236.7,502.8 L1240.9,504.9" fill="none" stroke="#111" stroke-width="0.9" stroke-linejoin="round" stroke-dasharray="1.3 1.1"/>
<path d="M1222.0,467.2 L1225.2,477.7 L1217.8,509.1" fill="none" stroke="#111" stroke-width="0.9" stroke-linejoin="round" stroke-dasharray="1.3 1.1"/>
<ellipse cx="1161.3" cy="471.4" rx="1.5" ry="1.5" fill="none" stroke="#111" stroke-width="0.9" />
<ellipse cx="1155.0" cy="488.2" rx="1.5" ry="1.5" fill="none" stroke="#111" stroke-width="0.9" />
<ellipse cx="1144.5" cy="499.7" rx="1.5" ry="1.5" fill="none" stroke="#111" stroke-width="0.9" />
<ellipse cx="1201.1" cy="449.4" rx="1.5" ry="1.5" fill="none" stroke="#111" stroke-width="0.9" />
<ellipse cx="1240.9" cy="495.5" rx="1.5" ry="1.5" fill="none" stroke="#111" stroke-width="0.9" />
<ellipse cx="1137.2" cy="578.2" rx="1.5" ry="1.5" fill="none" stroke="#111" stroke-width="0.9" />
<ellipse cx="1137.2" cy="590.8" rx="1.5" ry="1.5" fill="none" stroke="#111" stroke-width="0.9" />
<ellipse cx="1178.0" cy="499.7" rx="1.5" ry="1.5" fill="none" stroke="#111" stroke-width="0.9" />
<ellipse cx="1173.9" cy="524.8" rx="1.5" ry="1.5" fill="none" stroke="#111" stroke-width="0.9" />
<ellipse cx="1207.4" cy="466.2" rx="1.5" ry="1.5" fill="none" stroke="#111" stroke-width="0.9" />
<ellipse cx="1189.6" cy="480.8" rx="1.5" ry="1.5" fill="none" stroke="#111" stroke-width="0.9" />
<ellipse cx="1156.1" cy="511.2" rx="8.0" ry="10.0" fill="none" stroke="#111" stroke-width="1.0" transform="rotate(25 1156.1 511.2)" stroke-dasharray="1.3 1.1"/>
<ellipse cx="1194.8" cy="513.3" rx="7.0" ry="12.0" fill="none" stroke="#111" stroke-width="1.0" transform="rotate(25 1194.8 513.3)" stroke-dasharray="1.3 1.1"/>
<ellipse cx="1201.1" cy="492.4" rx="5.0" ry="9.0" fill="none" stroke="#111" stroke-width="1.0" transform="rotate(35 1201.1 492.4)" stroke-dasharray="1.3 1.1"/>
<path d="M632.7,232.0 L595.7,260.3 L598.5,265.5 L607.0,262.0 L611.0,268.5 L623.2,263.5 L620.0,248.0" fill="none" stroke="#111" stroke-width="0.9" stroke-linejoin="round" stroke-dasharray="1.3 1.1"/>
<ellipse cx="605.5" cy="258.8" rx="1.2" ry="1.2" fill="none" stroke="#111" stroke-width="0.8" />
<path d="M593.8,281.0 L601.3,282.6 L603.8,286.9 L611.3,288.5 L613.9,292.7 L621.4,294.3 L623.9,298.6 L631.4,300.2 L634.0,304.4 L641.5,306.0 L644.0,310.2 L651.5,311.9 L654.1,316.1 L661.6,317.7 L664.1,321.9 L671.6,323.6 L674.2,327.8 L681.7,329.4 L684.2,333.6 L691.8,335.2 L694.3,339.5 L701.8,341.1 L704.3,345.4 L711.8,347.0 L714.4,351.2 L721.9,352.8 L724.4,357.1 L731.9,358.7 L734.5,362.9 L742.0,364.5 L744.5,368.8 L752.0,370.4 L754.6,374.6 L762.1,376.2 L764.6,380.4 L772.1,382.1 L774.7,386.3 L782.2,387.9 L784.8,392.1 L792.2,393.8 L794.8,398.0 L802.3,399.6 L804.8,403.9 L812.3,405.5 L814.9,409.7 L822.4,411.3 L824.9,415.5 L832.4,417.1 L835.0,421.4 L842.5,423.0 L845.0,427.2 L852.5,428.9 L855.1,433.1 L862.6,434.7 L865.1,438.9 L872.6,440.6 L875.2,444.8 L882.7,446.4 L885.2,450.6 L892.8,452.2 L895.3,456.5 L902.8,458.1 L905.3,462.4 L912.8,464.0 L915.4,468.2 L922.9,469.8 L925.5,474.0 L933.0,475.6 L935.5,479.9 L943.0,481.5 L945.5,485.8 L953.0,487.4 L955.6,491.6 L963.1,493.2 L965.6,497.4 L973.1,499.1 L975.7,503.3 L983.2,504.9 L985.8,509.1 L993.2,510.8 L995.8,515.0 L1003.3,516.6 L1005.8,520.9 L1013.3,522.5 L1015.9,526.7 L1023.4,528.3 L1026.0,532.5 L1033.5,534.1 L1036.0,538.4 L1043.5,540.0 L1046.0,544.2 L1053.5,545.9 L1056.1,550.1 L1063.6,551.7 L1066.2,556.0 L1073.7,557.6 L1076.2,561.8 L1083.7,563.4 L1086.2,567.6 L1093.8,569.2 L1096.3,573.5 L1103.8,575.1" fill="none" stroke="#111" stroke-width="1.35" stroke-linejoin="round" stroke-dasharray="1.6 0.9"/>
<g transform="translate(600.6 289.7) rotate(-29.0)"><path d="M0.0,-2.2 L4.4,-3.0 L8.8,-3.8 L13.1,-4.2 L17.5,-4.4 L21.9,-4.2 L26.2,-3.8 L30.6,-3.0 L35.0,-2.2 L39.4,-1.4 L43.8,-0.6 L48.1,-0.2 L52.5,0.0 L56.9,-0.2 L61.2,-0.6 L65.6,-1.4 L70.0,-2.2 A2.2,2.2 0 0 1 70.0,2.2" fill="none" stroke="#111" stroke-width="1.7" stroke-dasharray="1.1 0.9"/><path d="M17.5,-2.9 L21.9,-2.7 L26.2,-2.3 L30.6,-1.5 L35.0,-0.7 L39.4,0.1 L43.8,0.9 L48.1,1.3 L52.5,1.5 L56.9,1.3 L61.2,0.9 L65.6,0.1 L70.0,-0.7" fill="none" stroke="#111" stroke-width="1.5" stroke-dasharray="0.9 1.1"/><path d="M0.0,2.2 L4.4,1.4 L8.8,0.6 L13.1,0.2 L17.5,0.0 L21.9,0.2 L26.2,0.6 L30.6,1.4 L35.0,2.2 L39.4,3.0 L43.8,3.8 L48.1,4.2 L52.5,4.4 L56.9,4.2 L61.2,3.8 L65.6,3.0 L70.0,2.2" fill="none" stroke="#111" stroke-width="1.3" stroke-dasharray="1.3 1.3"/></g>
<g transform="translate(610.6 295.6) rotate(-29.0)"><path d="M0.0,-2.2 L4.4,-3.0 L8.8,-3.8 L13.1,-4.2 L17.5,-4.4 L21.9,-4.2 L26.2,-3.8 L30.6,-3.0 L35.0,-2.2 L39.4,-1.4 L43.8,-0.6 L48.1,-0.2 L52.5,0.0 L56.9,-0.2 L61.2,-0.6 L65.6,-1.4 L70.0,-2.2 A2.2,2.2 0 0 1 70.0,2.2" fill="none" stroke="#111" stroke-width="1.7" stroke-dasharray="1.1 0.9"/><path d="M17.5,-2.9 L21.9,-2.7 L26.2,-2.3 L30.6,-1.5 L35.0,-0.7 L39.4,0.1 L43.8,0.9 L48.1,1.3 L52.5,1.5 L56.9,1.3 L61.2,0.9 L65.6,0.1 L70.0,-0.7" fill="none" stroke="#111" stroke-width="1.5" stroke-dasharray="0.9 1.1"/><path d="M0.0,2.2 L4.4,1.4 L8.8,0.6 L13.1,0.2 L17.5,0.0 L21.9,0.2 L26.2,0.6 L30.6,1.4 L35.0,2.2 L39.4,3.0 L43.8,3.8 L48.1,4.2 L52.5,4.4 L56.9,4.2 L61.2,3.8 L65.6,3.0 L70.0,2.2" fill="none" stroke="#111" stroke-width="1.3" stroke-dasharray="1.3 1.3"/></g>
<g transform="translate(620.7 301.4) rotate(-29.0)"><path d="M0.0,-2.2 L4.4,-3.0 L8.8,-3.8 L13.1,-4.2 L17.5,-4.4 L21.9,-4.2 L26.2,-3.8 L30.6,-3.0 L35.0,-2.2 L39.4,-1.4 L43.8,-0.6 L48.1,-0.2 L52.5,0.0 L56.9,-0.2 L61.2,-0.6 L65.6,-1.4 L70.0,-2.2 A2.2,2.2 0 0 1 70.0,2.2" fill="none" stroke="#111" stroke-width="1.7" stroke-dasharray="1.1 0.9"/><path d="M17.5,-2.9 L21.9,-2.7 L26.2,-2.3 L30.6,-1.5 L35.0,-0.7 L39.4,0.1 L43.8,0.9 L48.1,1.3 L52.5,1.5 L56.9,1.3 L61.2,0.9 L65.6,0.1 L70.0,-0.7" fill="none" stroke="#111" stroke-width="1.5" stroke-dasharray="0.9 1.1"/><path d="M0.0,2.2 L4.4,1.4 L8.8,0.6 L13.1,0.2 L17.5,0.0 L21.9,0.2 L26.2,0.6 L30.6,1.4 L35.0,2.2 L39.4,3.0 L43.8,3.8 L48.1,4.2 L52.5,4.4 L56.9,4.2 L61.2,3.8 L65.6,3.0 L70.0,2.2" fill="none" stroke="#111" stroke-width="1.3" stroke-dasharray="1.3 1.3"/></g>
<g transform="translate(630.8 307.2) rotate(-29.0)"><path d="M0.0,-2.2 L4.4,-3.0 L8.8,-3.8 L13.1,-4.2 L17.5,-4.4 L21.9,-4.2 L26.2,-3.8 L30.6,-3.0 L35.0,-2.2 L39.4,-1.4 L43.8,-0.6 L48.1,-0.2 L52.5,0.0 L56.9,-0.2 L61.2,-0.6 L65.6,-1.4 L70.0,-2.2 A2.2,2.2 0 0 1 70.0,2.2" fill="none" stroke="#111" stroke-width="1.7" stroke-dasharray="1.1 0.9"/><path d="M17.5,-2.9 L21.9,-2.7 L26.2,-2.3 L30.6,-1.5 L35.0,-0.7 L39.4,0.1 L43.8,0.9 L48.1,1.3 L52.5,1.5 L56.9,1.3 L61.2,0.9 L65.6,0.1 L70.0,-0.7" fill="none" stroke="#111" stroke-width="1.5" stroke-dasharray="0.9 1.1"/><path d="M0.0,2.2 L4.4,1.4 L8.8,0.6 L13.1,0.2 L17.5,0.0 L21.9,0.2 L26.2,0.6 L30.6,1.4 L35.0,2.2 L39.4,3.0 L43.8,3.8 L48.1,4.2 L52.5,4.4 L56.9,4.2 L61.2,3.8 L65.6,3.0 L70.0,2.2" fill="none" stroke="#111" stroke-width="1.3" stroke-dasharray="1.3 1.3"/></g>
<g transform="translate(630.8 319.1) rotate(-29.0)"><path d="M0.0,-2.2 L5.0,-3.0 L10.0,-3.8 L15.0,-4.2 L20.0,-4.4 L25.0,-4.2 L30.0,-3.8 L35.0,-3.0 L40.0,-2.2 L45.0,-1.4 L50.0,-0.6 L55.0,-0.2 L60.0,0.0 L65.0,-0.2 L70.0,-0.6 L75.0,-1.4 L80.0,-2.2 A2.2,2.2 0 0 1 80.0,2.2" fill="none" stroke="#111" stroke-width="1.7" stroke-dasharray="1.1 0.9"/><path d="M20.0,-2.9 L25.0,-2.7 L30.0,-2.3 L35.0,-1.5 L40.0,-0.7 L45.0,0.1 L50.0,0.9 L55.0,1.3 L60.0,1.5 L65.0,1.3 L70.0,0.9 L75.0,0.1 L80.0,-0.7" fill="none" stroke="#111" stroke-width="1.5" stroke-dasharray="0.9 1.1"/><path d="M0.0,2.2 L5.0,1.4 L10.0,0.6 L15.0,0.2 L20.0,0.0 L25.0,0.2 L30.0,0.6 L35.0,1.4 L40.0,2.2 L45.0,3.0 L50.0,3.8 L55.0,4.2 L60.0,4.4 L65.0,4.2 L70.0,3.8 L75.0,3.0 L80.0,2.2" fill="none" stroke="#111" stroke-width="1.3" stroke-dasharray="1.3 1.3"/><path d="M0,-2.2 A2.6,2.2 0 0 0 0,2.2" fill="none" stroke="#111" stroke-width="1.1" stroke-dasharray="1.2 1.2"/><ellipse cx="1.8" cy="0" rx="1.5" ry="1.1" fill="none" stroke="#111" stroke-width="0.9" stroke-dasharray="1 1"/></g>
<g transform="translate(640.8 325.0) rotate(-29.0)"><path d="M0.0,-2.2 L5.0,-3.0 L10.0,-3.8 L15.0,-4.2 L20.0,-4.4 L25.0,-4.2 L30.0,-3.8 L35.0,-3.0 L40.0,-2.2 L45.0,-1.4 L50.0,-0.6 L55.0,-0.2 L60.0,0.0 L65.0,-0.2 L70.0,-0.6 L75.0,-1.4 L80.0,-2.2 A2.2,2.2 0 0 1 80.0,2.2" fill="none" stroke="#111" stroke-width="1.7" stroke-dasharray="1.1 0.9"/><path d="M20.0,-2.9 L25.0,-2.7 L30.0,-2.3 L35.0,-1.5 L40.0,-0.7 L45.0,0.1 L50.0,0.9 L55.0,1.3 L60.0,1.5 L65.0,1.3 L70.0,0.9 L75.0,0.1 L80.0,-0.7" fill="none" stroke="#111" stroke-width="1.5" stroke-dasharray="0.9 1.1"/><path d="M0.0,2.2 L5.0,1.4 L10.0,0.6 L15.0,0.2 L20.0,0.0 L25.0,0.2 L30.0,0.6 L35.0,1.4 L40.0,2.2 L45.0,3.0 L50.0,3.8 L55.0,4.2 L60.0,4.4 L65.0,4.2 L70.0,3.8 L75.0,3.0 L80.0,2.2" fill="none" stroke="#111" stroke-width="1.3" stroke-dasharray="1.3 1.3"/><path d="M0,-2.2 A2.6,2.2 0 0 0 0,2.2" fill="none" stroke="#111" stroke-width="1.1" stroke-dasharray="1.2 1.2"/><ellipse cx="1.8" cy="0" rx="1.5" ry="1.1" fill="none" stroke="#111" stroke-width="0.9" stroke-dasharray="1 1"/></g>
<g transform="translate(650.9 330.8) rotate(-29.0)"><path d="M0.0,-2.2 L5.0,-3.0 L10.0,-3.8 L15.0,-4.2 L20.0,-4.4 L25.0,-4.2 L30.0,-3.8 L35.0,-3.0 L40.0,-2.2 L45.0,-1.4 L50.0,-0.6 L55.0,-0.2 L60.0,0.0 L65.0,-0.2 L70.0,-0.6 L75.0,-1.4 L80.0,-2.2 A2.2,2.2 0 0 1 80.0,2.2" fill="none" stroke="#111" stroke-width="1.7" stroke-dasharray="1.1 0.9"/><path d="M20.0,-2.9 L25.0,-2.7 L30.0,-2.3 L35.0,-1.5 L40.0,-0.7 L45.0,0.1 L50.0,0.9 L55.0,1.3 L60.0,1.5 L65.0,1.3 L70.0,0.9 L75.0,0.1 L80.0,-0.7" fill="none" stroke="#111" stroke-width="1.5" stroke-dasharray="0.9 1.1"/><path d="M0.0,2.2 L5.0,1.4 L10.0,0.6 L15.0,0.2 L20.0,0.0 L25.0,0.2 L30.0,0.6 L35.0,1.4 L40.0,2.2 L45.0,3.0 L50.0,3.8 L55.0,4.2 L60.0,4.4 L65.0,4.2 L70.0,3.8 L75.0,3.0 L80.0,2.2" fill="none" stroke="#111" stroke-width="1.3" stroke-dasharray="1.3 1.3"/><path d="M0,-2.2 A2.6,2.2 0 0 0 0,2.2" fill="none" stroke="#111" stroke-width="1.1" stroke-dasharray="1.2 1.2"/><ellipse cx="1.8" cy="0" rx="1.5" ry="1.1" fill="none" stroke="#111" stroke-width="0.9" stroke-dasharray="1 1"/></g>
<g transform="translate(660.9 336.7) rotate(-29.0)"><path d="M0.0,-2.2 L5.0,-3.0 L10.0,-3.8 L15.0,-4.2 L20.0,-4.4 L25.0,-4.2 L30.0,-3.8 L35.0,-3.0 L40.0,-2.2 L45.0,-1.4 L50.0,-0.6 L55.0,-0.2 L60.0,0.0 L65.0,-0.2 L70.0,-0.6 L75.0,-1.4 L80.0,-2.2 A2.2,2.2 0 0 1 80.0,2.2" fill="none" stroke="#111" stroke-width="1.7" stroke-dasharray="1.1 0.9"/><path d="M20.0,-2.9 L25.0,-2.7 L30.0,-2.3 L35.0,-1.5 L40.0,-0.7 L45.0,0.1 L50.0,0.9 L55.0,1.3 L60.0,1.5 L65.0,1.3 L70.0,0.9 L75.0,0.1 L80.0,-0.7" fill="none" stroke="#111" stroke-width="1.5" stroke-dasharray="0.9 1.1"/><path d="M0.0,2.2 L5.0,1.4 L10.0,0.6 L15.0,0.2 L20.0,0.0 L25.0,0.2 L30.0,0.6 L35.0,1.4 L40.0,2.2 L45.0,3.0 L50.0,3.8 L55.0,4.2 L60.0,4.4 L65.0,4.2 L70.0,3.8 L75.0,3.0 L80.0,2.2" fill="none" stroke="#111" stroke-width="1.3" stroke-dasharray="1.3 1.3"/><path d="M0,-2.2 A2.6,2.2 0 0 0 0,2.2" fill="none" stroke="#111" stroke-width="1.1" stroke-dasharray="1.2 1.2"/><ellipse cx="1.8" cy="0" rx="1.5" ry="1.1" fill="none" stroke="#111" stroke-width="0.9" stroke-dasharray="1 1"/></g>
<g transform="translate(671.0 342.5) rotate(-29.0)"><path d="M0.0,-2.2 L5.0,-3.0 L10.0,-3.8 L15.0,-4.2 L20.0,-4.4 L25.0,-4.2 L30.0,-3.8 L35.0,-3.0 L40.0,-2.2 L45.0,-1.4 L50.0,-0.6 L55.0,-0.2 L60.0,0.0 L65.0,-0.2 L70.0,-0.6 L75.0,-1.4 L80.0,-2.2 A2.2,2.2 0 0 1 80.0,2.2" fill="none" stroke="#111" stroke-width="1.7" stroke-dasharray="1.1 0.9"/><path d="M20.0,-2.9 L25.0,-2.7 L30.0,-2.3 L35.0,-1.5 L40.0,-0.7 L45.0,0.1 L50.0,0.9 L55.0,1.3 L60.0,1.5 L65.0,1.3 L70.0,0.9 L75.0,0.1 L80.0,-0.7" fill="none" stroke="#111" stroke-width="1.5" stroke-dasharray="0.9 1.1"/><path d="M0.0,2.2 L5.0,1.4 L10.0,0.6 L15.0,0.2 L20.0,0.0 L25.0,0.2 L30.0,0.6 L35.0,1.4 L40.0,2.2 L45.0,3.0 L50.0,3.8 L55.0,4.2 L60.0,4.4 L65.0,4.2 L70.0,3.8 L75.0,3.0 L80.0,2.2" fill="none" stroke="#111" stroke-width="1.3" stroke-dasharray="1.3 1.3"/><path d="M0,-2.2 A2.6,2.2 0 0 0 0,2.2" fill="none" stroke="#111" stroke-width="1.1" stroke-dasharray="1.2 1.2"/><ellipse cx="1.8" cy="0" rx="1.5" ry="1.1" fill="none" stroke="#111" stroke-width="0.9" stroke-dasharray="1 1"/></g>
<g transform="translate(681.0 348.4) rotate(-29.0)"><path d="M0.0,-2.2 L5.0,-3.0 L10.0,-3.8 L15.0,-4.2 L20.0,-4.4 L25.0,-4.2 L30.0,-3.8 L35.0,-3.0 L40.0,-2.2 L45.0,-1.4 L50.0,-0.6 L55.0,-0.2 L60.0,0.0 L65.0,-0.2 L70.0,-0.6 L75.0,-1.4 L80.0,-2.2 A2.2,2.2 0 0 1 80.0,2.2" fill="none" stroke="#111" stroke-width="1.7" stroke-dasharray="1.1 0.9"/><path d="M20.0,-2.9 L25.0,-2.7 L30.0,-2.3 L35.0,-1.5 L40.0,-0.7 L45.0,0.1 L50.0,0.9 L55.0,1.3 L60.0,1.5 L65.0,1.3 L70.0,0.9 L75.0,0.1 L80.0,-0.7" fill="none" stroke="#111" stroke-width="1.5" stroke-dasharray="0.9 1.1"/><path d="M0.0,2.2 L5.0,1.4 L10.0,0.6 L15.0,0.2 L20.0,0.0 L25.0,0.2 L30.0,0.6 L35.0,1.4 L40.0,2.2 L45.0,3.0 L50.0,3.8 L55.0,4.2 L60.0,4.4 L65.0,4.2 L70.0,3.8 L75.0,3.0 L80.0,2.2" fill="none" stroke="#111" stroke-width="1.3" stroke-dasharray="1.3 1.3"/><path d="M0,-2.2 A2.6,2.2 0 0 0 0,2.2" fill="none" stroke="#111" stroke-width="1.1" stroke-dasharray="1.2 1.2"/><ellipse cx="1.8" cy="0" rx="1.5" ry="1.1" fill="none" stroke="#111" stroke-width="0.9" stroke-dasharray="1 1"/></g>
<g transform="translate(691.1 354.2) rotate(-29.0)"><path d="M0.0,-2.2 L5.0,-3.0 L10.0,-3.8 L15.0,-4.2 L20.0,-4.4 L25.0,-4.2 L30.0,-3.8 L35.0,-3.0 L40.0,-2.2 L45.0,-1.4 L50.0,-0.6 L55.0,-0.2 L60.0,0.0 L65.0,-0.2 L70.0,-0.6 L75.0,-1.4 L80.0,-2.2 A2.2,2.2 0 0 1 80.0,2.2" fill="none" stroke="#111" stroke-width="1.7" stroke-dasharray="1.1 0.9"/><path d="M20.0,-2.9 L25.0,-2.7 L30.0,-2.3 L35.0,-1.5 L40.0,-0.7 L45.0,0.1 L50.0,0.9 L55.0,1.3 L60.0,1.5 L65.0,1.3 L70.0,0.9 L75.0,0.1 L80.0,-0.7" fill="none" stroke="#111" stroke-width="1.5" stroke-dasharray="0.9 1.1"/><path d="M0.0,2.2 L5.0,1.4 L10.0,0.6 L15.0,0.2 L20.0,0.0 L25.0,0.2 L30.0,0.6 L35.0,1.4 L40.0,2.2 L45.0,3.0 L50.0,3.8 L55.0,4.2 L60.0,4.4 L65.0,4.2 L70.0,3.8 L75.0,3.0 L80.0,2.2" fill="none" stroke="#111" stroke-width="1.3" stroke-dasharray="1.3 1.3"/><path d="M0,-2.2 A2.6,2.2 0 0 0 0,2.2" fill="none" stroke="#111" stroke-width="1.1" stroke-dasharray="1.2 1.2"/><ellipse cx="1.8" cy="0" rx="1.5" ry="1.1" fill="none" stroke="#111" stroke-width="0.9" stroke-dasharray="1 1"/></g>
<g transform="translate(701.1 360.1) rotate(-29.0)"><path d="M0.0,-2.2 L5.0,-3.0 L10.0,-3.8 L15.0,-4.2 L20.0,-4.4 L25.0,-4.2 L30.0,-3.8 L35.0,-3.0 L40.0,-2.2 L45.0,-1.4 L50.0,-0.6 L55.0,-0.2 L60.0,0.0 L65.0,-0.2 L70.0,-0.6 L75.0,-1.4 L80.0,-2.2 A2.2,2.2 0 0 1 80.0,2.2" fill="none" stroke="#111" stroke-width="1.7" stroke-dasharray="1.1 0.9"/><path d="M20.0,-2.9 L25.0,-2.7 L30.0,-2.3 L35.0,-1.5 L40.0,-0.7 L45.0,0.1 L50.0,0.9 L55.0,1.3 L60.0,1.5 L65.0,1.3 L70.0,0.9 L75.0,0.1 L80.0,-0.7" fill="none" stroke="#111" stroke-width="1.5" stroke-dasharray="0.9 1.1"/><path d="M0.0,2.2 L5.0,1.4 L10.0,0.6 L15.0,0.2 L20.0,0.0 L25.0,0.2 L30.0,0.6 L35.0,1.4 L40.0,2.2 L45.0,3.0 L50.0,3.8 L55.0,4.2 L60.0,4.4 L65.0,4.2 L70.0,3.8 L75.0,3.0 L80.0,2.2" fill="none" stroke="#111" stroke-width="1.3" stroke-dasharray="1.3 1.3"/><path d="M0,-2.2 A2.6,2.2 0 0 0 0,2.2" fill="none" stroke="#111" stroke-width="1.1" stroke-dasharray="1.2 1.2"/><ellipse cx="1.8" cy="0" rx="1.5" ry="1.1" fill="none" stroke="#111" stroke-width="0.9" stroke-dasharray="1 1"/></g>
<g transform="translate(711.2 365.9) rotate(-29.0)"><path d="M0.0,-2.2 L5.0,-3.0 L10.0,-3.8 L15.0,-4.2 L20.0,-4.4 L25.0,-4.2 L30.0,-3.8 L35.0,-3.0 L40.0,-2.2 L45.0,-1.4 L50.0,-0.6 L55.0,-0.2 L60.0,0.0 L65.0,-0.2 L70.0,-0.6 L75.0,-1.4 L80.0,-2.2 A2.2,2.2 0 0 1 80.0,2.2" fill="none" stroke="#111" stroke-width="1.7" stroke-dasharray="1.1 0.9"/><path d="M20.0,-2.9 L25.0,-2.7 L30.0,-2.3 L35.0,-1.5 L40.0,-0.7 L45.0,0.1 L50.0,0.9 L55.0,1.3 L60.0,1.5 L65.0,1.3 L70.0,0.9 L75.0,0.1 L80.0,-0.7" fill="none" stroke="#111" stroke-width="1.5" stroke-dasharray="0.9 1.1"/><path d="M0.0,2.2 L5.0,1.4 L10.0,0.6 L15.0,0.2 L20.0,0.0 L25.0,0.2 L30.0,0.6 L35.0,1.4 L40.0,2.2 L45.0,3.0 L50.0,3.8 L55.0,4.2 L60.0,4.4 L65.0,4.2 L70.0,3.8 L75.0,3.0 L80.0,2.2" fill="none" stroke="#111" stroke-width="1.3" stroke-dasharray="1.3 1.3"/><path d="M0,-2.2 A2.6,2.2 0 0 0 0,2.2" fill="none" stroke="#111" stroke-width="1.1" stroke-dasharray="1.2 1.2"/><ellipse cx="1.8" cy="0" rx="1.5" ry="1.1" fill="none" stroke="#111" stroke-width="0.9" stroke-dasharray="1 1"/></g>
<g transform="translate(721.2 371.8) rotate(-29.0)"><path d="M0.0,-2.2 L5.0,-3.0 L10.0,-3.8 L15.0,-4.2 L20.0,-4.4 L25.0,-4.2 L30.0,-3.8 L35.0,-3.0 L40.0,-2.2 L45.0,-1.4 L50.0,-0.6 L55.0,-0.2 L60.0,0.0 L65.0,-0.2 L70.0,-0.6 L75.0,-1.4 L80.0,-2.2 A2.2,2.2 0 0 1 80.0,2.2" fill="none" stroke="#111" stroke-width="1.7" stroke-dasharray="1.1 0.9"/><path d="M20.0,-2.9 L25.0,-2.7 L30.0,-2.3 L35.0,-1.5 L40.0,-0.7 L45.0,0.1 L50.0,0.9 L55.0,1.3 L60.0,1.5 L65.0,1.3 L70.0,0.9 L75.0,0.1 L80.0,-0.7" fill="none" stroke="#111" stroke-width="1.5" stroke-dasharray="0.9 1.1"/><path d="M0.0,2.2 L5.0,1.4 L10.0,0.6 L15.0,0.2 L20.0,0.0 L25.0,0.2 L30.0,0.6 L35.0,1.4 L40.0,2.2 L45.0,3.0 L50.0,3.8 L55.0,4.2 L60.0,4.4 L65.0,4.2 L70.0,3.8 L75.0,3.0 L80.0,2.2" fill="none" stroke="#111" stroke-width="1.3" stroke-dasharray="1.3 1.3"/><path d="M0,-2.2 A2.6,2.2 0 0 0 0,2.2" fill="none" stroke="#111" stroke-width="1.1" stroke-dasharray="1.2 1.2"/><ellipse cx="1.8" cy="0" rx="1.5" ry="1.1" fill="none" stroke="#111" stroke-width="0.9" stroke-dasharray="1 1"/></g>
<g transform="translate(731.3 377.6) rotate(-29.0)"><path d="M0.0,-2.2 L5.0,-3.0 L10.0,-3.8 L15.0,-4.2 L20.0,-4.4 L25.0,-4.2 L30.0,-3.8 L35.0,-3.0 L40.0,-2.2 L45.0,-1.4 L50.0,-0.6 L55.0,-0.2 L60.0,0.0 L65.0,-0.2 L70.0,-0.6 L75.0,-1.4 L80.0,-2.2 A2.2,2.2 0 0 1 80.0,2.2" fill="none" stroke="#111" stroke-width="1.7" stroke-dasharray="1.1 0.9"/><path d="M20.0,-2.9 L25.0,-2.7 L30.0,-2.3 L35.0,-1.5 L40.0,-0.7 L45.0,0.1 L50.0,0.9 L55.0,1.3 L60.0,1.5 L65.0,1.3 L70.0,0.9 L75.0,0.1 L80.0,-0.7" fill="none" stroke="#111" stroke-width="1.5" stroke-dasharray="0.9 1.1"/><path d="M0.0,2.2 L5.0,1.4 L10.0,0.6 L15.0,0.2 L20.0,0.0 L25.0,0.2 L30.0,0.6 L35.0,1.4 L40.0,2.2 L45.0,3.0 L50.0,3.8 L55.0,4.2 L60.0,4.4 L65.0,4.2 L70.0,3.8 L75.0,3.0 L80.0,2.2" fill="none" stroke="#111" stroke-width="1.3" stroke-dasharray="1.3 1.3"/><path d="M0,-2.2 A2.6,2.2 0 0 0 0,2.2" fill="none" stroke="#111" stroke-width="1.1" stroke-dasharray="1.2 1.2"/><ellipse cx="1.8" cy="0" rx="1.5" ry="1.1" fill="none" stroke="#111" stroke-width="0.9" stroke-dasharray="1 1"/></g>
<g transform="translate(741.3 383.5) rotate(-29.0)"><path d="M0.0,-2.2 L5.0,-3.0 L10.0,-3.8 L15.0,-4.2 L20.0,-4.4 L25.0,-4.2 L30.0,-3.8 L35.0,-3.0 L40.0,-2.2 L45.0,-1.4 L50.0,-0.6 L55.0,-0.2 L60.0,0.0 L65.0,-0.2 L70.0,-0.6 L75.0,-1.4 L80.0,-2.2 A2.2,2.2 0 0 1 80.0,2.2" fill="none" stroke="#111" stroke-width="1.7" stroke-dasharray="1.1 0.9"/><path d="M20.0,-2.9 L25.0,-2.7 L30.0,-2.3 L35.0,-1.5 L40.0,-0.7 L45.0,0.1 L50.0,0.9 L55.0,1.3 L60.0,1.5 L65.0,1.3 L70.0,0.9 L75.0,0.1 L80.0,-0.7" fill="none" stroke="#111" stroke-width="1.5" stroke-dasharray="0.9 1.1"/><path d="M0.0,2.2 L5.0,1.4 L10.0,0.6 L15.0,0.2 L20.0,0.0 L25.0,0.2 L30.0,0.6 L35.0,1.4 L40.0,2.2 L45.0,3.0 L50.0,3.8 L55.0,4.2 L60.0,4.4 L65.0,4.2 L70.0,3.8 L75.0,3.0 L80.0,2.2" fill="none" stroke="#111" stroke-width="1.3" stroke-dasharray="1.3 1.3"/><path d="M0,-2.2 A2.6,2.2 0 0 0 0,2.2" fill="none" stroke="#111" stroke-width="1.1" stroke-dasharray="1.2 1.2"/><ellipse cx="1.8" cy="0" rx="1.5" ry="1.1" fill="none" stroke="#111" stroke-width="0.9" stroke-dasharray="1 1"/></g>
<g transform="translate(751.4 389.3) rotate(-29.0)"><path d="M0.0,-2.2 L5.0,-3.0 L10.0,-3.8 L15.0,-4.2 L20.0,-4.4 L25.0,-4.2 L30.0,-3.8 L35.0,-3.0 L40.0,-2.2 L45.0,-1.4 L50.0,-0.6 L55.0,-0.2 L60.0,0.0 L65.0,-0.2 L70.0,-0.6 L75.0,-1.4 L80.0,-2.2 A2.2,2.2 0 0 1 80.0,2.2" fill="none" stroke="#111" stroke-width="1.7" stroke-dasharray="1.1 0.9"/><path d="M20.0,-2.9 L25.0,-2.7 L30.0,-2.3 L35.0,-1.5 L40.0,-0.7 L45.0,0.1 L50.0,0.9 L55.0,1.3 L60.0,1.5 L65.0,1.3 L70.0,0.9 L75.0,0.1 L80.0,-0.7" fill="none" stroke="#111" stroke-width="1.5" stroke-dasharray="0.9 1.1"/><path d="M0.0,2.2 L5.0,1.4 L10.0,0.6 L15.0,0.2 L20.0,0.0 L25.0,0.2 L30.0,0.6 L35.0,1.4 L40.0,2.2 L45.0,3.0 L50.0,3.8 L55.0,4.2 L60.0,4.4 L65.0,4.2 L70.0,3.8 L75.0,3.0 L80.0,2.2" fill="none" stroke="#111" stroke-width="1.3" stroke-dasharray="1.3 1.3"/><path d="M0,-2.2 A2.6,2.2 0 0 0 0,2.2" fill="none" stroke="#111" stroke-width="1.1" stroke-dasharray="1.2 1.2"/><ellipse cx="1.8" cy="0" rx="1.5" ry="1.1" fill="none" stroke="#111" stroke-width="0.9" stroke-dasharray="1 1"/></g>
<g transform="translate(761.4 395.2) rotate(-29.0)"><path d="M0.0,-2.2 L5.0,-3.0 L10.0,-3.8 L15.0,-4.2 L20.0,-4.4 L25.0,-4.2 L30.0,-3.8 L35.0,-3.0 L40.0,-2.2 L45.0,-1.4 L50.0,-0.6 L55.0,-0.2 L60.0,0.0 L65.0,-0.2 L70.0,-0.6 L75.0,-1.4 L80.0,-2.2 A2.2,2.2 0 0 1 80.0,2.2" fill="none" stroke="#111" stroke-width="1.7" stroke-dasharray="1.1 0.9"/><path d="M20.0,-2.9 L25.0,-2.7 L30.0,-2.3 L35.0,-1.5 L40.0,-0.7 L45.0,0.1 L50.0,0.9 L55.0,1.3 L60.0,1.5 L65.0,1.3 L70.0,0.9 L75.0,0.1 L80.0,-0.7" fill="none" stroke="#111" stroke-width="1.5" stroke-dasharray="0.9 1.1"/><path d="M0.0,2.2 L5.0,1.4 L10.0,0.6 L15.0,0.2 L20.0,0.0 L25.0,0.2 L30.0,0.6 L35.0,1.4 L40.0,2.2 L45.0,3.0 L50.0,3.8 L55.0,4.2 L60.0,4.4 L65.0,4.2 L70.0,3.8 L75.0,3.0 L80.0,2.2" fill="none" stroke="#111" stroke-width="1.3" stroke-dasharray="1.3 1.3"/><path d="M0,-2.2 A2.6,2.2 0 0 0 0,2.2" fill="none" stroke="#111" stroke-width="1.1" stroke-dasharray="1.2 1.2"/><ellipse cx="1.8" cy="0" rx="1.5" ry="1.1" fill="none" stroke="#111" stroke-width="0.9" stroke-dasharray="1 1"/></g>
<g transform="translate(771.5 401.0) rotate(-29.0)"><path d="M0.0,-2.2 L5.0,-3.0 L10.0,-3.8 L15.0,-4.2 L20.0,-4.4 L25.0,-4.2 L30.0,-3.8 L35.0,-3.0 L40.0,-2.2 L45.0,-1.4 L50.0,-0.6 L55.0,-0.2 L60.0,0.0 L65.0,-0.2 L70.0,-0.6 L75.0,-1.4 L80.0,-2.2 A2.2,2.2 0 0 1 80.0,2.2" fill="none" stroke="#111" stroke-width="1.7" stroke-dasharray="1.1 0.9"/><path d="M20.0,-2.9 L25.0,-2.7 L30.0,-2.3 L35.0,-1.5 L40.0,-0.7 L45.0,0.1 L50.0,0.9 L55.0,1.3 L60.0,1.5 L65.0,1.3 L70.0,0.9 L75.0,0.1 L80.0,-0.7" fill="none" stroke="#111" stroke-width="1.5" stroke-dasharray="0.9 1.1"/><path d="M0.0,2.2 L5.0,1.4 L10.0,0.6 L15.0,0.2 L20.0,0.0 L25.0,0.2 L30.0,0.6 L35.0,1.4 L40.0,2.2 L45.0,3.0 L50.0,3.8 L55.0,4.2 L60.0,4.4 L65.0,4.2 L70.0,3.8 L75.0,3.0 L80.0,2.2" fill="none" stroke="#111" stroke-width="1.3" stroke-dasharray="1.3 1.3"/><path d="M0,-2.2 A2.6,2.2 0 0 0 0,2.2" fill="none" stroke="#111" stroke-width="1.1" stroke-dasharray="1.2 1.2"/><ellipse cx="1.8" cy="0" rx="1.5" ry="1.1" fill="none" stroke="#111" stroke-width="0.9" stroke-dasharray="1 1"/></g>
<g transform="translate(781.5 406.9) rotate(-29.0)"><path d="M0.0,-2.2 L5.0,-3.0 L10.0,-3.8 L15.0,-4.2 L20.0,-4.4 L25.0,-4.2 L30.0,-3.8 L35.0,-3.0 L40.0,-2.2 L45.0,-1.4 L50.0,-0.6 L55.0,-0.2 L60.0,0.0 L65.0,-0.2 L70.0,-0.6 L75.0,-1.4 L80.0,-2.2 A2.2,2.2 0 0 1 80.0,2.2" fill="none" stroke="#111" stroke-width="1.7" stroke-dasharray="1.1 0.9"/><path d="M20.0,-2.9 L25.0,-2.7 L30.0,-2.3 L35.0,-1.5 L40.0,-0.7 L45.0,0.1 L50.0,0.9 L55.0,1.3 L60.0,1.5 L65.0,1.3 L70.0,0.9 L75.0,0.1 L80.0,-0.7" fill="none" stroke="#111" stroke-width="1.5" stroke-dasharray="0.9 1.1"/><path d="M0.0,2.2 L5.0,1.4 L10.0,0.6 L15.0,0.2 L20.0,0.0 L25.0,0.2 L30.0,0.6 L35.0,1.4 L40.0,2.2 L45.0,3.0 L50.0,3.8 L55.0,4.2 L60.0,4.4 L65.0,4.2 L70.0,3.8 L75.0,3.0 L80.0,2.2" fill="none" stroke="#111" stroke-width="1.3" stroke-dasharray="1.3 1.3"/><path d="M0,-2.2 A2.6,2.2 0 0 0 0,2.2" fill="none" stroke="#111" stroke-width="1.1" stroke-dasharray="1.2 1.2"/><ellipse cx="1.8" cy="0" rx="1.5" ry="1.1" fill="none" stroke="#111" stroke-width="0.9" stroke-dasharray="1 1"/></g>
<g transform="translate(791.6 412.7) rotate(-29.0)"><path d="M0.0,-2.2 L5.0,-3.0 L10.0,-3.8 L15.0,-4.2 L20.0,-4.4 L25.0,-4.2 L30.0,-3.8 L35.0,-3.0 L40.0,-2.2 L45.0,-1.4 L50.0,-0.6 L55.0,-0.2 L60.0,0.0 L65.0,-0.2 L70.0,-0.6 L75.0,-1.4 L80.0,-2.2 A2.2,2.2 0 0 1 80.0,2.2" fill="none" stroke="#111" stroke-width="1.7" stroke-dasharray="1.1 0.9"/><path d="M20.0,-2.9 L25.0,-2.7 L30.0,-2.3 L35.0,-1.5 L40.0,-0.7 L45.0,0.1 L50.0,0.9 L55.0,1.3 L60.0,1.5 L65.0,1.3 L70.0,0.9 L75.0,0.1 L80.0,-0.7" fill="none" stroke="#111" stroke-width="1.5" stroke-dasharray="0.9 1.1"/><path d="M0.0,2.2 L5.0,1.4 L10.0,0.6 L15.0,0.2 L20.0,0.0 L25.0,0.2 L30.0,0.6 L35.0,1.4 L40.0,2.2 L45.0,3.0 L50.0,3.8 L55.0,4.2 L60.0,4.4 L65.0,4.2 L70.0,3.8 L75.0,3.0 L80.0,2.2" fill="none" stroke="#111" stroke-width="1.3" stroke-dasharray="1.3 1.3"/><path d="M0,-2.2 A2.6,2.2 0 0 0 0,2.2" fill="none" stroke="#111" stroke-width="1.1" stroke-dasharray="1.2 1.2"/><ellipse cx="1.8" cy="0" rx="1.5" ry="1.1" fill="none" stroke="#111" stroke-width="0.9" stroke-dasharray="1 1"/></g>
<g transform="translate(801.6 418.6) rotate(-29.0)"><path d="M0.0,-2.2 L5.0,-3.0 L10.0,-3.8 L15.0,-4.2 L20.0,-4.4 L25.0,-4.2 L30.0,-3.8 L35.0,-3.0 L40.0,-2.2 L45.0,-1.4 L50.0,-0.6 L55.0,-0.2 L60.0,0.0 L65.0,-0.2 L70.0,-0.6 L75.0,-1.4 L80.0,-2.2 A2.2,2.2 0 0 1 80.0,2.2" fill="none" stroke="#111" stroke-width="1.7" stroke-dasharray="1.1 0.9"/><path d="M20.0,-2.9 L25.0,-2.7 L30.0,-2.3 L35.0,-1.5 L40.0,-0.7 L45.0,0.1 L50.0,0.9 L55.0,1.3 L60.0,1.5 L65.0,1.3 L70.0,0.9 L75.0,0.1 L80.0,-0.7" fill="none" stroke="#111" stroke-width="1.5" stroke-dasharray="0.9 1.1"/><path d="M0.0,2.2 L5.0,1.4 L10.0,0.6 L15.0,0.2 L20.0,0.0 L25.0,0.2 L30.0,0.6 L35.0,1.4 L40.0,2.2 L45.0,3.0 L50.0,3.8 L55.0,4.2 L60.0,4.4 L65.0,4.2 L70.0,3.8 L75.0,3.0 L80.0,2.2" fill="none" stroke="#111" stroke-width="1.3" stroke-dasharray="1.3 1.3"/><path d="M0,-2.2 A2.6,2.2 0 0 0 0,2.2" fill="none" stroke="#111" stroke-width="1.1" stroke-dasharray="1.2 1.2"/><ellipse cx="1.8" cy="0" rx="1.5" ry="1.1" fill="none" stroke="#111" stroke-width="0.9" stroke-dasharray="1 1"/></g>
<g transform="translate(811.7 424.4) rotate(-29.0)"><path d="M0.0,-2.2 L5.0,-3.0 L10.0,-3.8 L15.0,-4.2 L20.0,-4.4 L25.0,-4.2 L30.0,-3.8 L35.0,-3.0 L40.0,-2.2 L45.0,-1.4 L50.0,-0.6 L55.0,-0.2 L60.0,0.0 L65.0,-0.2 L70.0,-0.6 L75.0,-1.4 L80.0,-2.2 A2.2,2.2 0 0 1 80.0,2.2" fill="none" stroke="#111" stroke-width="1.7" stroke-dasharray="1.1 0.9"/><path d="M20.0,-2.9 L25.0,-2.7 L30.0,-2.3 L35.0,-1.5 L40.0,-0.7 L45.0,0.1 L50.0,0.9 L55.0,1.3 L60.0,1.5 L65.0,1.3 L70.0,0.9 L75.0,0.1 L80.0,-0.7" fill="none" stroke="#111" stroke-width="1.5" stroke-dasharray="0.9 1.1"/><path d="M0.0,2.2 L5.0,1.4 L10.0,0.6 L15.0,0.2 L20.0,0.0 L25.0,0.2 L30.0,0.6 L35.0,1.4 L40.0,2.2 L45.0,3.0 L50.0,3.8 L55.0,4.2 L60.0,4.4 L65.0,4.2 L70.0,3.8 L75.0,3.0 L80.0,2.2" fill="none" stroke="#111" stroke-width="1.3" stroke-dasharray="1.3 1.3"/><path d="M0,-2.2 A2.6,2.2 0 0 0 0,2.2" fill="none" stroke="#111" stroke-width="1.1" stroke-dasharray="1.2 1.2"/><ellipse cx="1.8" cy="0" rx="1.5" ry="1.1" fill="none" stroke="#111" stroke-width="0.9" stroke-dasharray="1 1"/></g>
<g transform="translate(821.8 430.2) rotate(-29.0)"><path d="M0.0,-2.2 L5.0,-3.0 L10.0,-3.8 L15.0,-4.2 L20.0,-4.4 L25.0,-4.2 L30.0,-3.8 L35.0,-3.0 L40.0,-2.2 L45.0,-1.4 L50.0,-0.6 L55.0,-0.2 L60.0,0.0 L65.0,-0.2 L70.0,-0.6 L75.0,-1.4 L80.0,-2.2 A2.2,2.2 0 0 1 80.0,2.2" fill="none" stroke="#111" stroke-width="1.7" stroke-dasharray="1.1 0.9"/><path d="M20.0,-2.9 L25.0,-2.7 L30.0,-2.3 L35.0,-1.5 L40.0,-0.7 L45.0,0.1 L50.0,0.9 L55.0,1.3 L60.0,1.5 L65.0,1.3 L70.0,0.9 L75.0,0.1 L80.0,-0.7" fill="none" stroke="#111" stroke-width="1.5" stroke-dasharray="0.9 1.1"/><path d="M0.0,2.2 L5.0,1.4 L10.0,0.6 L15.0,0.2 L20.0,0.0 L25.0,0.2 L30.0,0.6 L35.0,1.4 L40.0,2.2 L45.0,3.0 L50.0,3.8 L55.0,4.2 L60.0,4.4 L65.0,4.2 L70.0,3.8 L75.0,3.0 L80.0,2.2" fill="none" stroke="#111" stroke-width="1.3" stroke-dasharray="1.3 1.3"/><path d="M0,-2.2 A2.6,2.2 0 0 0 0,2.2" fill="none" stroke="#111" stroke-width="1.1" stroke-dasharray="1.2 1.2"/><ellipse cx="1.8" cy="0" rx="1.5" ry="1.1" fill="none" stroke="#111" stroke-width="0.9" stroke-dasharray="1 1"/></g>
<g transform="translate(831.8 436.1) rotate(-29.0)"><path d="M0.0,-2.2 L5.0,-3.0 L10.0,-3.8 L15.0,-4.2 L20.0,-4.4 L25.0,-4.2 L30.0,-3.8 L35.0,-3.0 L40.0,-2.2 L45.0,-1.4 L50.0,-0.6 L55.0,-0.2 L60.0,0.0 L65.0,-0.2 L70.0,-0.6 L75.0,-1.4 L80.0,-2.2 A2.2,2.2 0 0 1 80.0,2.2" fill="none" stroke="#111" stroke-width="1.7" stroke-dasharray="1.1 0.9"/><path d="M20.0,-2.9 L25.0,-2.7 L30.0,-2.3 L35.0,-1.5 L40.0,-0.7 L45.0,0.1 L50.0,0.9 L55.0,1.3 L60.0,1.5 L65.0,1.3 L70.0,0.9 L75.0,0.1 L80.0,-0.7" fill="none" stroke="#111" stroke-width="1.5" stroke-dasharray="0.9 1.1"/><path d="M0.0,2.2 L5.0,1.4 L10.0,0.6 L15.0,0.2 L20.0,0.0 L25.0,0.2 L30.0,0.6 L35.0,1.4 L40.0,2.2 L45.0,3.0 L50.0,3.8 L55.0,4.2 L60.0,4.4 L65.0,4.2 L70.0,3.8 L75.0,3.0 L80.0,2.2" fill="none" stroke="#111" stroke-width="1.3" stroke-dasharray="1.3 1.3"/><path d="M0,-2.2 A2.6,2.2 0 0 0 0,2.2" fill="none" stroke="#111" stroke-width="1.1" stroke-dasharray="1.2 1.2"/><ellipse cx="1.8" cy="0" rx="1.5" ry="1.1" fill="none" stroke="#111" stroke-width="0.9" stroke-dasharray="1 1"/></g>
<g transform="translate(841.8 442.0) rotate(-29.0)"><path d="M0.0,-2.2 L5.0,-3.0 L10.0,-3.8 L15.0,-4.2 L20.0,-4.4 L25.0,-4.2 L30.0,-3.8 L35.0,-3.0 L40.0,-2.2 L45.0,-1.4 L50.0,-0.6 L55.0,-0.2 L60.0,0.0 L65.0,-0.2 L70.0,-0.6 L75.0,-1.4 L80.0,-2.2 A2.2,2.2 0 0 1 80.0,2.2" fill="none" stroke="#111" stroke-width="1.7" stroke-dasharray="1.1 0.9"/><path d="M20.0,-2.9 L25.0,-2.7 L30.0,-2.3 L35.0,-1.5 L40.0,-0.7 L45.0,0.1 L50.0,0.9 L55.0,1.3 L60.0,1.5 L65.0,1.3 L70.0,0.9 L75.0,0.1 L80.0,-0.7" fill="none" stroke="#111" stroke-width="1.5" stroke-dasharray="0.9 1.1"/><path d="M0.0,2.2 L5.0,1.4 L10.0,0.6 L15.0,0.2 L20.0,0.0 L25.0,0.2 L30.0,0.6 L35.0,1.4 L40.0,2.2 L45.0,3.0 L50.0,3.8 L55.0,4.2 L60.0,4.4 L65.0,4.2 L70.0,3.8 L75.0,3.0 L80.0,2.2" fill="none" stroke="#111" stroke-width="1.3" stroke-dasharray="1.3 1.3"/><path d="M0,-2.2 A2.6,2.2 0 0 0 0,2.2" fill="none" stroke="#111" stroke-width="1.1" stroke-dasharray="1.2 1.2"/><ellipse cx="1.8" cy="0" rx="1.5" ry="1.1" fill="none" stroke="#111" stroke-width="0.9" stroke-dasharray="1 1"/></g>
<g transform="translate(851.9 447.8) rotate(-29.0)"><path d="M0.0,-2.2 L5.0,-3.0 L10.0,-3.8 L15.0,-4.2 L20.0,-4.4 L25.0,-4.2 L30.0,-3.8 L35.0,-3.0 L40.0,-2.2 L45.0,-1.4 L50.0,-0.6 L55.0,-0.2 L60.0,0.0 L65.0,-0.2 L70.0,-0.6 L75.0,-1.4 L80.0,-2.2 A2.2,2.2 0 0 1 80.0,2.2" fill="none" stroke="#111" stroke-width="1.7" stroke-dasharray="1.1 0.9"/><path d="M20.0,-2.9 L25.0,-2.7 L30.0,-2.3 L35.0,-1.5 L40.0,-0.7 L45.0,0.1 L50.0,0.9 L55.0,1.3 L60.0,1.5 L65.0,1.3 L70.0,0.9 L75.0,0.1 L80.0,-0.7" fill="none" stroke="#111" stroke-width="1.5" stroke-dasharray="0.9 1.1"/><path d="M0.0,2.2 L5.0,1.4 L10.0,0.6 L15.0,0.2 L20.0,0.0 L25.0,0.2 L30.0,0.6 L35.0,1.4 L40.0,2.2 L45.0,3.0 L50.0,3.8 L55.0,4.2 L60.0,4.4 L65.0,4.2 L70.0,3.8 L75.0,3.0 L80.0,2.2" fill="none" stroke="#111" stroke-width="1.3" stroke-dasharray="1.3 1.3"/><path d="M0,-2.2 A2.6,2.2 0 0 0 0,2.2" fill="none" stroke="#111" stroke-width="1.1" stroke-dasharray="1.2 1.2"/><ellipse cx="1.8" cy="0" rx="1.5" ry="1.1" fill="none" stroke="#111" stroke-width="0.9" stroke-dasharray="1 1"/></g>
<g transform="translate(861.9 453.6) rotate(-29.0)"><path d="M0.0,-2.2 L5.0,-3.0 L10.0,-3.8 L15.0,-4.2 L20.0,-4.4 L25.0,-4.2 L30.0,-3.8 L35.0,-3.0 L40.0,-2.2 L45.0,-1.4 L50.0,-0.6 L55.0,-0.2 L60.0,0.0 L65.0,-0.2 L70.0,-0.6 L75.0,-1.4 L80.0,-2.2 A2.2,2.2 0 0 1 80.0,2.2" fill="none" stroke="#111" stroke-width="1.7" stroke-dasharray="1.1 0.9"/><path d="M20.0,-2.9 L25.0,-2.7 L30.0,-2.3 L35.0,-1.5 L40.0,-0.7 L45.0,0.1 L50.0,0.9 L55.0,1.3 L60.0,1.5 L65.0,1.3 L70.0,0.9 L75.0,0.1 L80.0,-0.7" fill="none" stroke="#111" stroke-width="1.5" stroke-dasharray="0.9 1.1"/><path d="M0.0,2.2 L5.0,1.4 L10.0,0.6 L15.0,0.2 L20.0,0.0 L25.0,0.2 L30.0,0.6 L35.0,1.4 L40.0,2.2 L45.0,3.0 L50.0,3.8 L55.0,4.2 L60.0,4.4 L65.0,4.2 L70.0,3.8 L75.0,3.0 L80.0,2.2" fill="none" stroke="#111" stroke-width="1.3" stroke-dasharray="1.3 1.3"/><path d="M0,-2.2 A2.6,2.2 0 0 0 0,2.2" fill="none" stroke="#111" stroke-width="1.1" stroke-dasharray="1.2 1.2"/><ellipse cx="1.8" cy="0" rx="1.5" ry="1.1" fill="none" stroke="#111" stroke-width="0.9" stroke-dasharray="1 1"/></g>
<g transform="translate(872.0 459.5) rotate(-29.0)"><path d="M0.0,-2.2 L5.0,-3.0 L10.0,-3.8 L15.0,-4.2 L20.0,-4.4 L25.0,-4.2 L30.0,-3.8 L35.0,-3.0 L40.0,-2.2 L45.0,-1.4 L50.0,-0.6 L55.0,-0.2 L60.0,0.0 L65.0,-0.2 L70.0,-0.6 L75.0,-1.4 L80.0,-2.2 A2.2,2.2 0 0 1 80.0,2.2" fill="none" stroke="#111" stroke-width="1.7" stroke-dasharray="1.1 0.9"/><path d="M20.0,-2.9 L25.0,-2.7 L30.0,-2.3 L35.0,-1.5 L40.0,-0.7 L45.0,0.1 L50.0,0.9 L55.0,1.3 L60.0,1.5 L65.0,1.3 L70.0,0.9 L75.0,0.1 L80.0,-0.7" fill="none" stroke="#111" stroke-width="1.5" stroke-dasharray="0.9 1.1"/><path d="M0.0,2.2 L5.0,1.4 L10.0,0.6 L15.0,0.2 L20.0,0.0 L25.0,0.2 L30.0,0.6 L35.0,1.4 L40.0,2.2 L45.0,3.0 L50.0,3.8 L55.0,4.2 L60.0,4.4 L65.0,4.2 L70.0,3.8 L75.0,3.0 L80.0,2.2" fill="none" stroke="#111" stroke-width="1.3" stroke-dasharray="1.3 1.3"/><path d="M0,-2.2 A2.6,2.2 0 0 0 0,2.2" fill="none" stroke="#111" stroke-width="1.1" stroke-dasharray="1.2 1.2"/><ellipse cx="1.8" cy="0" rx="1.5" ry="1.1" fill="none" stroke="#111" stroke-width="0.9" stroke-dasharray="1 1"/></g>
<g transform="translate(882.0 465.4) rotate(-29.0)"><path d="M0.0,-2.2 L5.0,-3.0 L10.0,-3.8 L15.0,-4.2 L20.0,-4.4 L25.0,-4.2 L30.0,-3.8 L35.0,-3.0 L40.0,-2.2 L45.0,-1.4 L50.0,-0.6 L55.0,-0.2 L60.0,0.0 L65.0,-0.2 L70.0,-0.6 L75.0,-1.4 L80.0,-2.2 A2.2,2.2 0 0 1 80.0,2.2" fill="none" stroke="#111" stroke-width="1.7" stroke-dasharray="1.1 0.9"/><path d="M20.0,-2.9 L25.0,-2.7 L30.0,-2.3 L35.0,-1.5 L40.0,-0.7 L45.0,0.1 L50.0,0.9 L55.0,1.3 L60.0,1.5 L65.0,1.3 L70.0,0.9 L75.0,0.1 L80.0,-0.7" fill="none" stroke="#111" stroke-width="1.5" stroke-dasharray="0.9 1.1"/><path d="M0.0,2.2 L5.0,1.4 L10.0,0.6 L15.0,0.2 L20.0,0.0 L25.0,0.2 L30.0,0.6 L35.0,1.4 L40.0,2.2 L45.0,3.0 L50.0,3.8 L55.0,4.2 L60.0,4.4 L65.0,4.2 L70.0,3.8 L75.0,3.0 L80.0,2.2" fill="none" stroke="#111" stroke-width="1.3" stroke-dasharray="1.3 1.3"/><path d="M0,-2.2 A2.6,2.2 0 0 0 0,2.2" fill="none" stroke="#111" stroke-width="1.1" stroke-dasharray="1.2 1.2"/><ellipse cx="1.8" cy="0" rx="1.5" ry="1.1" fill="none" stroke="#111" stroke-width="0.9" stroke-dasharray="1 1"/></g>
<g transform="translate(892.1 471.2) rotate(-29.0)"><path d="M0.0,-2.2 L5.0,-3.0 L10.0,-3.8 L15.0,-4.2 L20.0,-4.4 L25.0,-4.2 L30.0,-3.8 L35.0,-3.0 L40.0,-2.2 L45.0,-1.4 L50.0,-0.6 L55.0,-0.2 L60.0,0.0 L65.0,-0.2 L70.0,-0.6 L75.0,-1.4 L80.0,-2.2 A2.2,2.2 0 0 1 80.0,2.2" fill="none" stroke="#111" stroke-width="1.7" stroke-dasharray="1.1 0.9"/><path d="M20.0,-2.9 L25.0,-2.7 L30.0,-2.3 L35.0,-1.5 L40.0,-0.7 L45.0,0.1 L50.0,0.9 L55.0,1.3 L60.0,1.5 L65.0,1.3 L70.0,0.9 L75.0,0.1 L80.0,-0.7" fill="none" stroke="#111" stroke-width="1.5" stroke-dasharray="0.9 1.1"/><path d="M0.0,2.2 L5.0,1.4 L10.0,0.6 L15.0,0.2 L20.0,0.0 L25.0,0.2 L30.0,0.6 L35.0,1.4 L40.0,2.2 L45.0,3.0 L50.0,3.8 L55.0,4.2 L60.0,4.4 L65.0,4.2 L70.0,3.8 L75.0,3.0 L80.0,2.2" fill="none" stroke="#111" stroke-width="1.3" stroke-dasharray="1.3 1.3"/><path d="M0,-2.2 A2.6,2.2 0 0 0 0,2.2" fill="none" stroke="#111" stroke-width="1.1" stroke-dasharray="1.2 1.2"/><ellipse cx="1.8" cy="0" rx="1.5" ry="1.1" fill="none" stroke="#111" stroke-width="0.9" stroke-dasharray="1 1"/></g>
<g transform="translate(902.1 477.1) rotate(-29.0)"><path d="M0.0,-2.2 L5.0,-3.0 L10.0,-3.8 L15.0,-4.2 L20.0,-4.4 L25.0,-4.2 L30.0,-3.8 L35.0,-3.0 L40.0,-2.2 L45.0,-1.4 L50.0,-0.6 L55.0,-0.2 L60.0,0.0 L65.0,-0.2 L70.0,-0.6 L75.0,-1.4 L80.0,-2.2 A2.2,2.2 0 0 1 80.0,2.2" fill="none" stroke="#111" stroke-width="1.7" stroke-dasharray="1.1 0.9"/><path d="M20.0,-2.9 L25.0,-2.7 L30.0,-2.3 L35.0,-1.5 L40.0,-0.7 L45.0,0.1 L50.0,0.9 L55.0,1.3 L60.0,1.5 L65.0,1.3 L70.0,0.9 L75.0,0.1 L80.0,-0.7" fill="none" stroke="#111" stroke-width="1.5" stroke-dasharray="0.9 1.1"/><path d="M0.0,2.2 L5.0,1.4 L10.0,0.6 L15.0,0.2 L20.0,0.0 L25.0,0.2 L30.0,0.6 L35.0,1.4 L40.0,2.2 L45.0,3.0 L50.0,3.8 L55.0,4.2 L60.0,4.4 L65.0,4.2 L70.0,3.8 L75.0,3.0 L80.0,2.2" fill="none" stroke="#111" stroke-width="1.3" stroke-dasharray="1.3 1.3"/><path d="M0,-2.2 A2.6,2.2 0 0 0 0,2.2" fill="none" stroke="#111" stroke-width="1.1" stroke-dasharray="1.2 1.2"/><ellipse cx="1.8" cy="0" rx="1.5" ry="1.1" fill="none" stroke="#111" stroke-width="0.9" stroke-dasharray="1 1"/></g>
<g transform="translate(912.2 482.9) rotate(-29.0)"><path d="M0.0,-2.2 L5.0,-3.0 L10.0,-3.8 L15.0,-4.2 L20.0,-4.4 L25.0,-4.2 L30.0,-3.8 L35.0,-3.0 L40.0,-2.2 L45.0,-1.4 L50.0,-0.6 L55.0,-0.2 L60.0,0.0 L65.0,-0.2 L70.0,-0.6 L75.0,-1.4 L80.0,-2.2 A2.2,2.2 0 0 1 80.0,2.2" fill="none" stroke="#111" stroke-width="1.7" stroke-dasharray="1.1 0.9"/><path d="M20.0,-2.9 L25.0,-2.7 L30.0,-2.3 L35.0,-1.5 L40.0,-0.7 L45.0,0.1 L50.0,0.9 L55.0,1.3 L60.0,1.5 L65.0,1.3 L70.0,0.9 L75.0,0.1 L80.0,-0.7" fill="none" stroke="#111" stroke-width="1.5" stroke-dasharray="0.9 1.1"/><path d="M0.0,2.2 L5.0,1.4 L10.0,0.6 L15.0,0.2 L20.0,0.0 L25.0,0.2 L30.0,0.6 L35.0,1.4 L40.0,2.2 L45.0,3.0 L50.0,3.8 L55.0,4.2 L60.0,4.4 L65.0,4.2 L70.0,3.8 L75.0,3.0 L80.0,2.2" fill="none" stroke="#111" stroke-width="1.3" stroke-dasharray="1.3 1.3"/><path d="M0,-2.2 A2.6,2.2 0 0 0 0,2.2" fill="none" stroke="#111" stroke-width="1.1" stroke-dasharray="1.2 1.2"/><ellipse cx="1.8" cy="0" rx="1.5" ry="1.1" fill="none" stroke="#111" stroke-width="0.9" stroke-dasharray="1 1"/></g>
<g transform="translate(922.2 488.8) rotate(-29.0)"><path d="M0.0,-2.2 L5.0,-3.0 L10.0,-3.8 L15.0,-4.2 L20.0,-4.4 L25.0,-4.2 L30.0,-3.8 L35.0,-3.0 L40.0,-2.2 L45.0,-1.4 L50.0,-0.6 L55.0,-0.2 L60.0,0.0 L65.0,-0.2 L70.0,-0.6 L75.0,-1.4 L80.0,-2.2 A2.2,2.2 0 0 1 80.0,2.2" fill="none" stroke="#111" stroke-width="1.7" stroke-dasharray="1.1 0.9"/><path d="M20.0,-2.9 L25.0,-2.7 L30.0,-2.3 L35.0,-1.5 L40.0,-0.7 L45.0,0.1 L50.0,0.9 L55.0,1.3 L60.0,1.5 L65.0,1.3 L70.0,0.9 L75.0,0.1 L80.0,-0.7" fill="none" stroke="#111" stroke-width="1.5" stroke-dasharray="0.9 1.1"/><path d="M0.0,2.2 L5.0,1.4 L10.0,0.6 L15.0,0.2 L20.0,0.0 L25.0,0.2 L30.0,0.6 L35.0,1.4 L40.0,2.2 L45.0,3.0 L50.0,3.8 L55.0,4.2 L60.0,4.4 L65.0,4.2 L70.0,3.8 L75.0,3.0 L80.0,2.2" fill="none" stroke="#111" stroke-width="1.3" stroke-dasharray="1.3 1.3"/><path d="M0,-2.2 A2.6,2.2 0 0 0 0,2.2" fill="none" stroke="#111" stroke-width="1.1" stroke-dasharray="1.2 1.2"/><ellipse cx="1.8" cy="0" rx="1.5" ry="1.1" fill="none" stroke="#111" stroke-width="0.9" stroke-dasharray="1 1"/></g>
<g transform="translate(932.3 494.6) rotate(-29.0)"><path d="M0.0,-2.2 L5.0,-3.0 L10.0,-3.8 L15.0,-4.2 L20.0,-4.4 L25.0,-4.2 L30.0,-3.8 L35.0,-3.0 L40.0,-2.2 L45.0,-1.4 L50.0,-0.6 L55.0,-0.2 L60.0,0.0 L65.0,-0.2 L70.0,-0.6 L75.0,-1.4 L80.0,-2.2 A2.2,2.2 0 0 1 80.0,2.2" fill="none" stroke="#111" stroke-width="1.7" stroke-dasharray="1.1 0.9"/><path d="M20.0,-2.9 L25.0,-2.7 L30.0,-2.3 L35.0,-1.5 L40.0,-0.7 L45.0,0.1 L50.0,0.9 L55.0,1.3 L60.0,1.5 L65.0,1.3 L70.0,0.9 L75.0,0.1 L80.0,-0.7" fill="none" stroke="#111" stroke-width="1.5" stroke-dasharray="0.9 1.1"/><path d="M0.0,2.2 L5.0,1.4 L10.0,0.6 L15.0,0.2 L20.0,0.0 L25.0,0.2 L30.0,0.6 L35.0,1.4 L40.0,2.2 L45.0,3.0 L50.0,3.8 L55.0,4.2 L60.0,4.4 L65.0,4.2 L70.0,3.8 L75.0,3.0 L80.0,2.2" fill="none" stroke="#111" stroke-width="1.3" stroke-dasharray="1.3 1.3"/><path d="M0,-2.2 A2.6,2.2 0 0 0 0,2.2" fill="none" stroke="#111" stroke-width="1.1" stroke-dasharray="1.2 1.2"/><ellipse cx="1.8" cy="0" rx="1.5" ry="1.1" fill="none" stroke="#111" stroke-width="0.9" stroke-dasharray="1 1"/></g>
<g transform="translate(942.3 500.5) rotate(-29.0)"><path d="M0.0,-2.2 L5.0,-3.0 L10.0,-3.8 L15.0,-4.2 L20.0,-4.4 L25.0,-4.2 L30.0,-3.8 L35.0,-3.0 L40.0,-2.2 L45.0,-1.4 L50.0,-0.6 L55.0,-0.2 L60.0,0.0 L65.0,-0.2 L70.0,-0.6 L75.0,-1.4 L80.0,-2.2 A2.2,2.2 0 0 1 80.0,2.2" fill="none" stroke="#111" stroke-width="1.7" stroke-dasharray="1.1 0.9"/><path d="M20.0,-2.9 L25.0,-2.7 L30.0,-2.3 L35.0,-1.5 L40.0,-0.7 L45.0,0.1 L50.0,0.9 L55.0,1.3 L60.0,1.5 L65.0,1.3 L70.0,0.9 L75.0,0.1 L80.0,-0.7" fill="none" stroke="#111" stroke-width="1.5" stroke-dasharray="0.9 1.1"/><path d="M0.0,2.2 L5.0,1.4 L10.0,0.6 L15.0,0.2 L20.0,0.0 L25.0,0.2 L30.0,0.6 L35.0,1.4 L40.0,2.2 L45.0,3.0 L50.0,3.8 L55.0,4.2 L60.0,4.4 L65.0,4.2 L70.0,3.8 L75.0,3.0 L80.0,2.2" fill="none" stroke="#111" stroke-width="1.3" stroke-dasharray="1.3 1.3"/><path d="M0,-2.2 A2.6,2.2 0 0 0 0,2.2" fill="none" stroke="#111" stroke-width="1.1" stroke-dasharray="1.2 1.2"/><ellipse cx="1.8" cy="0" rx="1.5" ry="1.1" fill="none" stroke="#111" stroke-width="0.9" stroke-dasharray="1 1"/></g>
<g transform="translate(952.4 506.3) rotate(-29.0)"><path d="M0.0,-2.2 L5.0,-3.0 L10.0,-3.8 L15.0,-4.2 L20.0,-4.4 L25.0,-4.2 L30.0,-3.8 L35.0,-3.0 L40.0,-2.2 L45.0,-1.4 L50.0,-0.6 L55.0,-0.2 L60.0,0.0 L65.0,-0.2 L70.0,-0.6 L75.0,-1.4 L80.0,-2.2 A2.2,2.2 0 0 1 80.0,2.2" fill="none" stroke="#111" stroke-width="1.7" stroke-dasharray="1.1 0.9"/><path d="M20.0,-2.9 L25.0,-2.7 L30.0,-2.3 L35.0,-1.5 L40.0,-0.7 L45.0,0.1 L50.0,0.9 L55.0,1.3 L60.0,1.5 L65.0,1.3 L70.0,0.9 L75.0,0.1 L80.0,-0.7" fill="none" stroke="#111" stroke-width="1.5" stroke-dasharray="0.9 1.1"/><path d="M0.0,2.2 L5.0,1.4 L10.0,0.6 L15.0,0.2 L20.0,0.0 L25.0,0.2 L30.0,0.6 L35.0,1.4 L40.0,2.2 L45.0,3.0 L50.0,3.8 L55.0,4.2 L60.0,4.4 L65.0,4.2 L70.0,3.8 L75.0,3.0 L80.0,2.2" fill="none" stroke="#111" stroke-width="1.3" stroke-dasharray="1.3 1.3"/><path d="M0,-2.2 A2.6,2.2 0 0 0 0,2.2" fill="none" stroke="#111" stroke-width="1.1" stroke-dasharray="1.2 1.2"/><ellipse cx="1.8" cy="0" rx="1.5" ry="1.1" fill="none" stroke="#111" stroke-width="0.9" stroke-dasharray="1 1"/></g>
<g transform="translate(962.5 512.1) rotate(-29.0)"><path d="M0.0,-2.2 L5.0,-3.0 L10.0,-3.8 L15.0,-4.2 L20.0,-4.4 L25.0,-4.2 L30.0,-3.8 L35.0,-3.0 L40.0,-2.2 L45.0,-1.4 L50.0,-0.6 L55.0,-0.2 L60.0,0.0 L65.0,-0.2 L70.0,-0.6 L75.0,-1.4 L80.0,-2.2 A2.2,2.2 0 0 1 80.0,2.2" fill="none" stroke="#111" stroke-width="1.7" stroke-dasharray="1.1 0.9"/><path d="M20.0,-2.9 L25.0,-2.7 L30.0,-2.3 L35.0,-1.5 L40.0,-0.7 L45.0,0.1 L50.0,0.9 L55.0,1.3 L60.0,1.5 L65.0,1.3 L70.0,0.9 L75.0,0.1 L80.0,-0.7" fill="none" stroke="#111" stroke-width="1.5" stroke-dasharray="0.9 1.1"/><path d="M0.0,2.2 L5.0,1.4 L10.0,0.6 L15.0,0.2 L20.0,0.0 L25.0,0.2 L30.0,0.6 L35.0,1.4 L40.0,2.2 L45.0,3.0 L50.0,3.8 L55.0,4.2 L60.0,4.4 L65.0,4.2 L70.0,3.8 L75.0,3.0 L80.0,2.2" fill="none" stroke="#111" stroke-width="1.3" stroke-dasharray="1.3 1.3"/><path d="M0,-2.2 A2.6,2.2 0 0 0 0,2.2" fill="none" stroke="#111" stroke-width="1.1" stroke-dasharray="1.2 1.2"/><ellipse cx="1.8" cy="0" rx="1.5" ry="1.1" fill="none" stroke="#111" stroke-width="0.9" stroke-dasharray="1 1"/></g>
<g transform="translate(972.5 518.0) rotate(-29.0)"><path d="M0.0,-2.2 L5.0,-3.0 L10.0,-3.8 L15.0,-4.2 L20.0,-4.4 L25.0,-4.2 L30.0,-3.8 L35.0,-3.0 L40.0,-2.2 L45.0,-1.4 L50.0,-0.6 L55.0,-0.2 L60.0,0.0 L65.0,-0.2 L70.0,-0.6 L75.0,-1.4 L80.0,-2.2 A2.2,2.2 0 0 1 80.0,2.2" fill="none" stroke="#111" stroke-width="1.7" stroke-dasharray="1.1 0.9"/><path d="M20.0,-2.9 L25.0,-2.7 L30.0,-2.3 L35.0,-1.5 L40.0,-0.7 L45.0,0.1 L50.0,0.9 L55.0,1.3 L60.0,1.5 L65.0,1.3 L70.0,0.9 L75.0,0.1 L80.0,-0.7" fill="none" stroke="#111" stroke-width="1.5" stroke-dasharray="0.9 1.1"/><path d="M0.0,2.2 L5.0,1.4 L10.0,0.6 L15.0,0.2 L20.0,0.0 L25.0,0.2 L30.0,0.6 L35.0,1.4 L40.0,2.2 L45.0,3.0 L50.0,3.8 L55.0,4.2 L60.0,4.4 L65.0,4.2 L70.0,3.8 L75.0,3.0 L80.0,2.2" fill="none" stroke="#111" stroke-width="1.3" stroke-dasharray="1.3 1.3"/><path d="M0,-2.2 A2.6,2.2 0 0 0 0,2.2" fill="none" stroke="#111" stroke-width="1.1" stroke-dasharray="1.2 1.2"/><ellipse cx="1.8" cy="0" rx="1.5" ry="1.1" fill="none" stroke="#111" stroke-width="0.9" stroke-dasharray="1 1"/></g>
<g transform="translate(982.5 523.9) rotate(-29.0)"><path d="M0.0,-2.2 L5.0,-3.0 L10.0,-3.8 L15.0,-4.2 L20.0,-4.4 L25.0,-4.2 L30.0,-3.8 L35.0,-3.0 L40.0,-2.2 L45.0,-1.4 L50.0,-0.6 L55.0,-0.2 L60.0,0.0 L65.0,-0.2 L70.0,-0.6 L75.0,-1.4 L80.0,-2.2 A2.2,2.2 0 0 1 80.0,2.2" fill="none" stroke="#111" stroke-width="1.7" stroke-dasharray="1.1 0.9"/><path d="M20.0,-2.9 L25.0,-2.7 L30.0,-2.3 L35.0,-1.5 L40.0,-0.7 L45.0,0.1 L50.0,0.9 L55.0,1.3 L60.0,1.5 L65.0,1.3 L70.0,0.9 L75.0,0.1 L80.0,-0.7" fill="none" stroke="#111" stroke-width="1.5" stroke-dasharray="0.9 1.1"/><path d="M0.0,2.2 L5.0,1.4 L10.0,0.6 L15.0,0.2 L20.0,0.0 L25.0,0.2 L30.0,0.6 L35.0,1.4 L40.0,2.2 L45.0,3.0 L50.0,3.8 L55.0,4.2 L60.0,4.4 L65.0,4.2 L70.0,3.8 L75.0,3.0 L80.0,2.2" fill="none" stroke="#111" stroke-width="1.3" stroke-dasharray="1.3 1.3"/><path d="M0,-2.2 A2.6,2.2 0 0 0 0,2.2" fill="none" stroke="#111" stroke-width="1.1" stroke-dasharray="1.2 1.2"/><ellipse cx="1.8" cy="0" rx="1.5" ry="1.1" fill="none" stroke="#111" stroke-width="0.9" stroke-dasharray="1 1"/></g>
<g transform="translate(992.6 529.7) rotate(-29.0)"><path d="M0.0,-2.2 L5.0,-3.0 L10.0,-3.8 L15.0,-4.2 L20.0,-4.4 L25.0,-4.2 L30.0,-3.8 L35.0,-3.0 L40.0,-2.2 L45.0,-1.4 L50.0,-0.6 L55.0,-0.2 L60.0,0.0 L65.0,-0.2 L70.0,-0.6 L75.0,-1.4 L80.0,-2.2 A2.2,2.2 0 0 1 80.0,2.2" fill="none" stroke="#111" stroke-width="1.7" stroke-dasharray="1.1 0.9"/><path d="M20.0,-2.9 L25.0,-2.7 L30.0,-2.3 L35.0,-1.5 L40.0,-0.7 L45.0,0.1 L50.0,0.9 L55.0,1.3 L60.0,1.5 L65.0,1.3 L70.0,0.9 L75.0,0.1 L80.0,-0.7" fill="none" stroke="#111" stroke-width="1.5" stroke-dasharray="0.9 1.1"/><path d="M0.0,2.2 L5.0,1.4 L10.0,0.6 L15.0,0.2 L20.0,0.0 L25.0,0.2 L30.0,0.6 L35.0,1.4 L40.0,2.2 L45.0,3.0 L50.0,3.8 L55.0,4.2 L60.0,4.4 L65.0,4.2 L70.0,3.8 L75.0,3.0 L80.0,2.2" fill="none" stroke="#111" stroke-width="1.3" stroke-dasharray="1.3 1.3"/><path d="M0,-2.2 A2.6,2.2 0 0 0 0,2.2" fill="none" stroke="#111" stroke-width="1.1" stroke-dasharray="1.2 1.2"/><ellipse cx="1.8" cy="0" rx="1.5" ry="1.1" fill="none" stroke="#111" stroke-width="0.9" stroke-dasharray="1 1"/></g>
<g transform="translate(1002.6 535.5) rotate(-29.0)"><path d="M0.0,-2.2 L5.0,-3.0 L10.0,-3.8 L15.0,-4.2 L20.0,-4.4 L25.0,-4.2 L30.0,-3.8 L35.0,-3.0 L40.0,-2.2 L45.0,-1.4 L50.0,-0.6 L55.0,-0.2 L60.0,0.0 L65.0,-0.2 L70.0,-0.6 L75.0,-1.4 L80.0,-2.2 A2.2,2.2 0 0 1 80.0,2.2" fill="none" stroke="#111" stroke-width="1.7" stroke-dasharray="1.1 0.9"/><path d="M20.0,-2.9 L25.0,-2.7 L30.0,-2.3 L35.0,-1.5 L40.0,-0.7 L45.0,0.1 L50.0,0.9 L55.0,1.3 L60.0,1.5 L65.0,1.3 L70.0,0.9 L75.0,0.1 L80.0,-0.7" fill="none" stroke="#111" stroke-width="1.5" stroke-dasharray="0.9 1.1"/><path d="M0.0,2.2 L5.0,1.4 L10.0,0.6 L15.0,0.2 L20.0,0.0 L25.0,0.2 L30.0,0.6 L35.0,1.4 L40.0,2.2 L45.0,3.0 L50.0,3.8 L55.0,4.2 L60.0,4.4 L65.0,4.2 L70.0,3.8 L75.0,3.0 L80.0,2.2" fill="none" stroke="#111" stroke-width="1.3" stroke-dasharray="1.3 1.3"/><path d="M0,-2.2 A2.6,2.2 0 0 0 0,2.2" fill="none" stroke="#111" stroke-width="1.1" stroke-dasharray="1.2 1.2"/><ellipse cx="1.8" cy="0" rx="1.5" ry="1.1" fill="none" stroke="#111" stroke-width="0.9" stroke-dasharray="1 1"/></g>
<g transform="translate(1012.7 541.4) rotate(-29.0)"><path d="M0.0,-2.2 L5.0,-3.0 L10.0,-3.8 L15.0,-4.2 L20.0,-4.4 L25.0,-4.2 L30.0,-3.8 L35.0,-3.0 L40.0,-2.2 L45.0,-1.4 L50.0,-0.6 L55.0,-0.2 L60.0,0.0 L65.0,-0.2 L70.0,-0.6 L75.0,-1.4 L80.0,-2.2 A2.2,2.2 0 0 1 80.0,2.2" fill="none" stroke="#111" stroke-width="1.7" stroke-dasharray="1.1 0.9"/><path d="M20.0,-2.9 L25.0,-2.7 L30.0,-2.3 L35.0,-1.5 L40.0,-0.7 L45.0,0.1 L50.0,0.9 L55.0,1.3 L60.0,1.5 L65.0,1.3 L70.0,0.9 L75.0,0.1 L80.0,-0.7" fill="none" stroke="#111" stroke-width="1.5" stroke-dasharray="0.9 1.1"/><path d="M0.0,2.2 L5.0,1.4 L10.0,0.6 L15.0,0.2 L20.0,0.0 L25.0,0.2 L30.0,0.6 L35.0,1.4 L40.0,2.2 L45.0,3.0 L50.0,3.8 L55.0,4.2 L60.0,4.4 L65.0,4.2 L70.0,3.8 L75.0,3.0 L80.0,2.2" fill="none" stroke="#111" stroke-width="1.3" stroke-dasharray="1.3 1.3"/><path d="M0,-2.2 A2.6,2.2 0 0 0 0,2.2" fill="none" stroke="#111" stroke-width="1.1" stroke-dasharray="1.2 1.2"/><ellipse cx="1.8" cy="0" rx="1.5" ry="1.1" fill="none" stroke="#111" stroke-width="0.9" stroke-dasharray="1 1"/></g>
<g transform="translate(1022.8 547.2) rotate(-29.0)"><path d="M0.0,-2.2 L5.0,-3.0 L10.0,-3.8 L15.0,-4.2 L20.0,-4.4 L25.0,-4.2 L30.0,-3.8 L35.0,-3.0 L40.0,-2.2 L45.0,-1.4 L50.0,-0.6 L55.0,-0.2 L60.0,0.0 L65.0,-0.2 L70.0,-0.6 L75.0,-1.4 L80.0,-2.2 A2.2,2.2 0 0 1 80.0,2.2" fill="none" stroke="#111" stroke-width="1.7" stroke-dasharray="1.1 0.9"/><path d="M20.0,-2.9 L25.0,-2.7 L30.0,-2.3 L35.0,-1.5 L40.0,-0.7 L45.0,0.1 L50.0,0.9 L55.0,1.3 L60.0,1.5 L65.0,1.3 L70.0,0.9 L75.0,0.1 L80.0,-0.7" fill="none" stroke="#111" stroke-width="1.5" stroke-dasharray="0.9 1.1"/><path d="M0.0,2.2 L5.0,1.4 L10.0,0.6 L15.0,0.2 L20.0,0.0 L25.0,0.2 L30.0,0.6 L35.0,1.4 L40.0,2.2 L45.0,3.0 L50.0,3.8 L55.0,4.2 L60.0,4.4 L65.0,4.2 L70.0,3.8 L75.0,3.0 L80.0,2.2" fill="none" stroke="#111" stroke-width="1.3" stroke-dasharray="1.3 1.3"/><path d="M0,-2.2 A2.6,2.2 0 0 0 0,2.2" fill="none" stroke="#111" stroke-width="1.1" stroke-dasharray="1.2 1.2"/><ellipse cx="1.8" cy="0" rx="1.5" ry="1.1" fill="none" stroke="#111" stroke-width="0.9" stroke-dasharray="1 1"/></g>
<g transform="translate(1032.8 553.1) rotate(-29.0)"><path d="M0.0,-2.2 L5.0,-3.0 L10.0,-3.8 L15.0,-4.2 L20.0,-4.4 L25.0,-4.2 L30.0,-3.8 L35.0,-3.0 L40.0,-2.2 L45.0,-1.4 L50.0,-0.6 L55.0,-0.2 L60.0,0.0 L65.0,-0.2 L70.0,-0.6 L75.0,-1.4 L80.0,-2.2 A2.2,2.2 0 0 1 80.0,2.2" fill="none" stroke="#111" stroke-width="1.7" stroke-dasharray="1.1 0.9"/><path d="M20.0,-2.9 L25.0,-2.7 L30.0,-2.3 L35.0,-1.5 L40.0,-0.7 L45.0,0.1 L50.0,0.9 L55.0,1.3 L60.0,1.5 L65.0,1.3 L70.0,0.9 L75.0,0.1 L80.0,-0.7" fill="none" stroke="#111" stroke-width="1.5" stroke-dasharray="0.9 1.1"/><path d="M0.0,2.2 L5.0,1.4 L10.0,0.6 L15.0,0.2 L20.0,0.0 L25.0,0.2 L30.0,0.6 L35.0,1.4 L40.0,2.2 L45.0,3.0 L50.0,3.8 L55.0,4.2 L60.0,4.4 L65.0,4.2 L70.0,3.8 L75.0,3.0 L80.0,2.2" fill="none" stroke="#111" stroke-width="1.3" stroke-dasharray="1.3 1.3"/><path d="M0,-2.2 A2.6,2.2 0 0 0 0,2.2" fill="none" stroke="#111" stroke-width="1.1" stroke-dasharray="1.2 1.2"/><ellipse cx="1.8" cy="0" rx="1.5" ry="1.1" fill="none" stroke="#111" stroke-width="0.9" stroke-dasharray="1 1"/></g>
<g transform="translate(1042.8 559.0) rotate(-29.0)"><path d="M0.0,-2.2 L5.0,-3.0 L10.0,-3.8 L15.0,-4.2 L20.0,-4.4 L25.0,-4.2 L30.0,-3.8 L35.0,-3.0 L40.0,-2.2 L45.0,-1.4 L50.0,-0.6 L55.0,-0.2 L60.0,0.0 L65.0,-0.2 L70.0,-0.6 L75.0,-1.4 L80.0,-2.2 A2.2,2.2 0 0 1 80.0,2.2" fill="none" stroke="#111" stroke-width="1.7" stroke-dasharray="1.1 0.9"/><path d="M20.0,-2.9 L25.0,-2.7 L30.0,-2.3 L35.0,-1.5 L40.0,-0.7 L45.0,0.1 L50.0,0.9 L55.0,1.3 L60.0,1.5 L65.0,1.3 L70.0,0.9 L75.0,0.1 L80.0,-0.7" fill="none" stroke="#111" stroke-width="1.5" stroke-dasharray="0.9 1.1"/><path d="M0.0,2.2 L5.0,1.4 L10.0,0.6 L15.0,0.2 L20.0,0.0 L25.0,0.2 L30.0,0.6 L35.0,1.4 L40.0,2.2 L45.0,3.0 L50.0,3.8 L55.0,4.2 L60.0,4.4 L65.0,4.2 L70.0,3.8 L75.0,3.0 L80.0,2.2" fill="none" stroke="#111" stroke-width="1.3" stroke-dasharray="1.3 1.3"/><path d="M0,-2.2 A2.6,2.2 0 0 0 0,2.2" fill="none" stroke="#111" stroke-width="1.1" stroke-dasharray="1.2 1.2"/><ellipse cx="1.8" cy="0" rx="1.5" ry="1.1" fill="none" stroke="#111" stroke-width="0.9" stroke-dasharray="1 1"/></g>
<g transform="translate(1052.9 564.8) rotate(-29.0)"><path d="M0.0,-2.2 L4.4,-3.0 L8.9,-3.8 L13.3,-4.2 L17.8,-4.4 L22.2,-4.2 L26.6,-3.8 L31.1,-3.0 L35.5,-2.2 L39.9,-1.4 L44.4,-0.6 L48.8,-0.2 L53.2,0.0 L57.7,-0.2 L62.1,-0.6 L66.6,-1.4 L71.0,-2.2 A2.2,2.2 0 0 1 71.0,2.2" fill="none" stroke="#111" stroke-width="1.7" stroke-dasharray="1.1 0.9"/><path d="M17.8,-2.9 L22.2,-2.7 L26.6,-2.3 L31.1,-1.5 L35.5,-0.7 L39.9,0.1 L44.4,0.9 L48.8,1.3 L53.2,1.5 L57.7,1.3 L62.1,0.9 L66.6,0.1 L71.0,-0.7" fill="none" stroke="#111" stroke-width="1.5" stroke-dasharray="0.9 1.1"/><path d="M0.0,2.2 L4.4,1.4 L8.9,0.6 L13.3,0.2 L17.8,0.0 L22.2,0.2 L26.6,0.6 L31.1,1.4 L35.5,2.2 L39.9,3.0 L44.4,3.8 L48.8,4.2 L53.2,4.4 L57.7,4.2 L62.1,3.8 L66.6,3.0 L71.0,2.2" fill="none" stroke="#111" stroke-width="1.3" stroke-dasharray="1.3 1.3"/><path d="M0,-2.2 A2.6,2.2 0 0 0 0,2.2" fill="none" stroke="#111" stroke-width="1.1" stroke-dasharray="1.2 1.2"/><ellipse cx="1.8" cy="0" rx="1.5" ry="1.1" fill="none" stroke="#111" stroke-width="0.9" stroke-dasharray="1 1"/></g>
<g transform="translate(1063.0 570.6) rotate(-29.0)"><path d="M0.0,-2.2 L3.9,-3.0 L7.8,-3.8 L11.6,-4.2 L15.5,-4.4 L19.4,-4.2 L23.2,-3.8 L27.1,-3.0 L31.0,-2.2 L34.9,-1.4 L38.8,-0.6 L42.6,-0.2 L46.5,0.0 L50.4,-0.2 L54.2,-0.6 L58.1,-1.4 L62.0,-2.2 A2.2,2.2 0 0 1 62.0,2.2" fill="none" stroke="#111" stroke-width="1.7" stroke-dasharray="1.1 0.9"/><path d="M15.5,-2.9 L19.4,-2.7 L23.2,-2.3 L27.1,-1.5 L31.0,-0.7 L34.9,0.1 L38.8,0.9 L42.6,1.3 L46.5,1.5 L50.4,1.3 L54.2,0.9 L58.1,0.1 L62.0,-0.7" fill="none" stroke="#111" stroke-width="1.5" stroke-dasharray="0.9 1.1"/><path d="M0.0,2.2 L3.9,1.4 L7.8,0.6 L11.6,0.2 L15.5,0.0 L19.4,0.2 L23.2,0.6 L27.1,1.4 L31.0,2.2 L34.9,3.0 L38.8,3.8 L42.6,4.2 L46.5,4.4 L50.4,4.2 L54.2,3.8 L58.1,3.0 L62.0,2.2" fill="none" stroke="#111" stroke-width="1.3" stroke-dasharray="1.3 1.3"/><path d="M0,-2.2 A2.6,2.2 0 0 0 0,2.2" fill="none" stroke="#111" stroke-width="1.1" stroke-dasharray="1.2 1.2"/><ellipse cx="1.8" cy="0" rx="1.5" ry="1.1" fill="none" stroke="#111" stroke-width="0.9" stroke-dasharray="1 1"/></g>
<g transform="translate(1073.0 576.5) rotate(-29.0)"><path d="M0.0,-2.2 L3.3,-3.0 L6.6,-3.8 L9.9,-4.2 L13.2,-4.4 L16.6,-4.2 L19.9,-3.8 L23.2,-3.0 L26.5,-2.2 L29.8,-1.4 L33.1,-0.6 L36.4,-0.2 L39.8,0.0 L43.1,-0.2 L46.4,-0.6 L49.7,-1.4 L53.0,-2.2 A2.2,2.2 0 0 1 53.0,2.2" fill="none" stroke="#111" stroke-width="1.7" stroke-dasharray="1.1 0.9"/><path d="M13.2,-2.9 L16.6,-2.7 L19.9,-2.3 L23.2,-1.5 L26.5,-0.7 L29.8,0.1 L33.1,0.9 L36.4,1.3 L39.8,1.5 L43.1,1.3 L46.4,0.9 L49.7,0.1 L53.0,-0.7" fill="none" stroke="#111" stroke-width="1.5" stroke-dasharray="0.9 1.1"/><path d="M0.0,2.2 L3.3,1.4 L6.6,0.6 L9.9,0.2 L13.2,0.0 L16.6,0.2 L19.9,0.6 L23.2,1.4 L26.5,2.2 L29.8,3.0 L33.1,3.8 L36.4,4.2 L39.8,4.4 L43.1,4.2 L46.4,3.8 L49.7,3.0 L53.0,2.2" fill="none" stroke="#111" stroke-width="1.3" stroke-dasharray="1.3 1.3"/><path d="M0,-2.2 A2.6,2.2 0 0 0 0,2.2" fill="none" stroke="#111" stroke-width="1.1" stroke-dasharray="1.2 1.2"/><ellipse cx="1.8" cy="0" rx="1.5" ry="1.1" fill="none" stroke="#111" stroke-width="0.9" stroke-dasharray="1 1"/></g>
<g transform="translate(1083.0 582.4) rotate(-29.0)"><path d="M0.0,-2.2 L2.8,-3.0 L5.5,-3.8 L8.2,-4.2 L11.0,-4.4 L13.8,-4.2 L16.5,-3.8 L19.2,-3.0 L22.0,-2.2 L24.8,-1.4 L27.5,-0.6 L30.2,-0.2 L33.0,0.0 L35.8,-0.2 L38.5,-0.6 L41.2,-1.4 L44.0,-2.2 A2.2,2.2 0 0 1 44.0,2.2" fill="none" stroke="#111" stroke-width="1.7" stroke-dasharray="1.1 0.9"/><path d="M11.0,-2.9 L13.8,-2.7 L16.5,-2.3 L19.2,-1.5 L22.0,-0.7 L24.8,0.1 L27.5,0.9 L30.2,1.3 L33.0,1.5 L35.8,1.3 L38.5,0.9 L41.2,0.1 L44.0,-0.7" fill="none" stroke="#111" stroke-width="1.5" stroke-dasharray="0.9 1.1"/><path d="M0.0,2.2 L2.8,1.4 L5.5,0.6 L8.2,0.2 L11.0,0.0 L13.8,0.2 L16.5,0.6 L19.2,1.4 L22.0,2.2 L24.8,3.0 L27.5,3.8 L30.2,4.2 L33.0,4.4 L35.8,4.2 L38.5,3.8 L41.2,3.0 L44.0,2.2" fill="none" stroke="#111" stroke-width="1.3" stroke-dasharray="1.3 1.3"/><path d="M0,-2.2 A2.6,2.2 0 0 0 0,2.2" fill="none" stroke="#111" stroke-width="1.1" stroke-dasharray="1.2 1.2"/><ellipse cx="1.8" cy="0" rx="1.5" ry="1.1" fill="none" stroke="#111" stroke-width="0.9" stroke-dasharray="1 1"/></g>
<g transform="translate(1093.1 588.2) rotate(-29.0)"><path d="M0.0,-2.2 L2.2,-3.0 L4.4,-3.8 L6.6,-4.2 L8.8,-4.4 L10.9,-4.2 L13.1,-3.8 L15.3,-3.0 L17.5,-2.2 L19.7,-1.4 L21.9,-0.6 L24.1,-0.2 L26.2,0.0 L28.4,-0.2 L30.6,-0.6 L32.8,-1.4 L35.0,-2.2 A2.2,2.2 0 0 1 35.0,2.2" fill="none" stroke="#111" stroke-width="1.7" stroke-dasharray="1.1 0.9"/><path d="M8.8,-2.9 L10.9,-2.7 L13.1,-2.3 L15.3,-1.5 L17.5,-0.7 L19.7,0.1 L21.9,0.9 L24.1,1.3 L26.2,1.5 L28.4,1.3 L30.6,0.9 L32.8,0.1 L35.0,-0.7" fill="none" stroke="#111" stroke-width="1.5" stroke-dasharray="0.9 1.1"/><path d="M0.0,2.2 L2.2,1.4 L4.4,0.6 L6.6,0.2 L8.8,0.0 L10.9,0.2 L13.1,0.6 L15.3,1.4 L17.5,2.2 L19.7,3.0 L21.9,3.8 L24.1,4.2 L26.2,4.4 L28.4,4.2 L30.6,3.8 L32.8,3.0 L35.0,2.2" fill="none" stroke="#111" stroke-width="1.3" stroke-dasharray="1.3 1.3"/><path d="M0,-2.2 A2.6,2.2 0 0 0 0,2.2" fill="none" stroke="#111" stroke-width="1.1" stroke-dasharray="1.2 1.2"/><ellipse cx="1.8" cy="0" rx="1.5" ry="1.1" fill="none" stroke="#111" stroke-width="0.9" stroke-dasharray="1 1"/></g>
<defs><pattern id="stip" width="2" height="2" patternUnits="userSpaceOnUse"><rect width="2" height="2" fill="#dcdcdc"/><rect width="1" height="1" fill="#6a6a6a"/></pattern><pattern id="stip2" width="2" height="2" patternUnits="userSpaceOnUse"><rect width="2" height="2" fill="#eeeeee"/><rect width="1" height="1" fill="#9a9a9a"/></pattern></defs>
<path d="M1013.6,198.6 L1032.6,164.4 L1070.5,187.2 Z" fill="url(#stip)" stroke="#000" stroke-width="2" stroke-linejoin="round" />
<path d="M1047.5,166.0 L1062.6,159.0 L1080.0,170.8 L1065.8,178.7 Z" fill="url(#stip)" stroke="#000" stroke-width="2" stroke-linejoin="round" />
<path d="M1065.8,155.0 L1081.6,147.7 L1099.0,159.0 L1083.2,167.0 Z" fill="url(#stip)" stroke="#000" stroke-width="2" stroke-linejoin="round" />
<path d="M1084.8,143.9 L1100.6,135.3 L1120.5,146.4 L1104.7,155.6 Z" fill="url(#stip)" stroke="#000" stroke-width="2" stroke-linejoin="round" />
<g fill="#666"><rect x="1243" y="9" width="2" height="2.5"/><rect x="1246" y="7" width="3" height="2"/><rect x="1253" y="9" width="2.5" height="2.5"/><rect x="1256.5" y="9" width="2.5" height="2.5"/><rect x="1260" y="9" width="2.5" height="2.5"/></g></g>
<g id="lines"><path d="M367.2,69.0 L367.2,46.8 L386.7,46.8 L489.5,218.3 L632.0,218.3" fill="none" stroke="#000" stroke-width="1.3" stroke-linejoin="round" />
<path d="M909.5,656.3 L964.6,624.8 L1029.8,661.6 L1175.0,577.5" fill="none" stroke="#000" stroke-width="1.3" stroke-linejoin="round" />
<line x1="1176.0" y1="532.0" x2="1176.0" y2="593.0" stroke="#000" stroke-width="1.3" />
<line x1="810.6" y1="584.5" x2="810.6" y2="598.0" stroke="#000" stroke-width="1.2" />
<path d="M810.6,607.3 L810.6,617.0 L865.8,647.5 L865.8,664.0" fill="none" stroke="#000" stroke-width="1.2" stroke-linejoin="round" />
<line x1="865.8" y1="693.5" x2="865.8" y2="795.0" stroke="#000" stroke-width="1.2" />
<line x1="865.8" y1="809.0" x2="865.8" y2="824.0" stroke="#000" stroke-width="1.2" />
<path d="M199.2,465.0 L199.2,617.0 L168.4,634.5" fill="none" stroke="#000" stroke-width="1.3" stroke-linejoin="round" />
<line x1="210.0" y1="407.5" x2="346.5" y2="407.5" stroke="#000" stroke-width="2" stroke-dasharray="2 3.3"/>
<circle cx="426.2" cy="409.9" r="79.4" fill="none" stroke="#000" stroke-width="2.2" stroke-dasharray="2 3.3"/></g>
<g id="parts_tl"><path d="M141.2,58.5 C138.5,53 143.5,49.5 147.5,52.2 C151.5,55 153,60 157.5,66 L154.8,67.2 C150,63.8 144,63 141.2,58.5 Z" fill="#fcfdfb" stroke="#000" stroke-width="2" stroke-linejoin="round" />
<path d="M143.8,56.5 C143.5,54.5 146,54 147.6,56 C149,58 150.5,60 152.5,62.5" fill="none" stroke="#000" stroke-width="1.6" stroke-linejoin="round" />
<line x1="153.5" y1="63.5" x2="166.0" y2="74.0" stroke="#000" stroke-width="3" />
<line x1="160.0" y1="67.2" x2="165.0" y2="71.2" stroke="#000" stroke-width="1" />
<ellipse cx="180.5" cy="74.3" rx="5.7" ry="3.4" fill="#fcfdfb" stroke="#000" stroke-width="2.2" />
<g transform="translate(181.0 104.0) rotate(90.0)"><rect x="0" y="-4.7" width="33.0" height="9.4" fill="#fcfdfb" stroke="#000" stroke-width="1.2"/>
<line x1="1.2" y1="-4.7" x2="1.2" y2="4.7" stroke="#000" stroke-width="1.15" />
<line x1="3.3" y1="-4.7" x2="3.3" y2="4.7" stroke="#000" stroke-width="1.15" />
<line x1="5.5" y1="-4.7" x2="5.5" y2="4.7" stroke="#000" stroke-width="1.15" />
<line x1="7.7" y1="-4.7" x2="7.7" y2="4.7" stroke="#000" stroke-width="1.15" />
<line x1="9.8" y1="-4.7" x2="9.8" y2="4.7" stroke="#000" stroke-width="1.15" />
<line x1="12.0" y1="-4.7" x2="12.0" y2="4.7" stroke="#000" stroke-width="1.15" />
<line x1="14.1" y1="-4.7" x2="14.1" y2="4.7" stroke="#000" stroke-width="1.15" />
<line x1="16.2" y1="-4.7" x2="16.2" y2="4.7" stroke="#000" stroke-width="1.15" />
<line x1="18.4" y1="-4.7" x2="18.4" y2="4.7" stroke="#000" stroke-width="1.15" />
<line x1="20.5" y1="-4.7" x2="20.5" y2="4.7" stroke="#000" stroke-width="1.15" />
<line x1="22.7" y1="-4.7" x2="22.7" y2="4.7" stroke="#000" stroke-width="1.15" />
<line x1="24.8" y1="-4.7" x2="24.8" y2="4.7" stroke="#000" stroke-width="1.15" />
<line x1="27.0" y1="-4.7" x2="27.0" y2="4.7" stroke="#000" stroke-width="1.15" />
<line x1="29.1" y1="-4.7" x2="29.1" y2="4.7" stroke="#000" stroke-width="1.15" />
<line x1="31.3" y1="-4.7" x2="31.3" y2="4.7" stroke="#000" stroke-width="1.15" />
<rect x="-2" y="-7.2" width="2.2" height="14.5" rx="1" fill="#fcfdfb" stroke="#000" stroke-width="1.3"/>
<rect x="-11.0" y="-6.0" width="9.0" height="12.1" rx="1.2" fill="#fcfdfb" stroke="#000" stroke-width="1.4"/>
<line x1="-11.0" y1="-2.4" x2="-2.0" y2="-2.4" stroke="#000" stroke-width="0.9" />
<line x1="-11.0" y1="2.4" x2="-2.0" y2="2.4" stroke="#000" stroke-width="0.9" /></g>
<rect x="178" y="87" width="6" height="7" rx="1.5" fill="#fcfdfb" stroke="#000" stroke-width="1.3"/>
<line x1="181.0" y1="137.0" x2="181.0" y2="148.0" stroke="#000" stroke-width="1.2" />
<line x1="91.0" y1="151.4" x2="154.0" y2="189.0" stroke="#000" stroke-width="1.2" />
<line x1="148.0" y1="172.0" x2="171.0" y2="155.5" stroke="#000" stroke-width="1.2" />
<line x1="85.0" y1="246.0" x2="145.5" y2="211.5" stroke="#000" stroke-width="1.2" />
<line x1="191.7" y1="201.6" x2="251.0" y2="237.0" stroke="#000" stroke-width="1.2" />
<line x1="307.5" y1="187.7" x2="335.0" y2="207.3" stroke="#000" stroke-width="1.2" />
<line x1="401.0" y1="236.5" x2="427.0" y2="221.0" stroke="#000" stroke-width="1.2" />
<line x1="181.0" y1="213.0" x2="181.0" y2="273.0" stroke="#000" stroke-width="1.2" />
<path d="M166.5,192 L166.2,204.6 Q166.8,210.2 173.1,212.3 Q180,214.6 185.8,213.5 Q193,212 198.4,207.2 L214.2,193.4 L214.2,190 L195,192 Z" fill="#fcfdfb" stroke="#000" stroke-width="2.2" stroke-linejoin="round" />
<path d="M169.5,203 Q172,208.5 178,209.3 Q188,210 194,205 L211,191.5" fill="none" stroke="#000" stroke-width="1.1" stroke-linejoin="round" />
<path d="M170.6,188 L170.6,204.5 A10.5,5.5 0 0 0 191.5,204.5 L191.5,188 Z" fill="#fcfdfb" stroke="#000" stroke-width="1.4" stroke-linejoin="round" />
<ellipse cx="174.5" cy="196.5" rx="0.9" ry="1.1" fill="#000" stroke="#000" stroke-width="0.8" />
<ellipse cx="186.3" cy="199.3" rx="1.3" ry="1.9" fill="#fcfdfb" stroke="#000" stroke-width="1" transform="rotate(-20 186.3 199.3)" />
<path d="M355.5,96.4 L355.5,120.4 A10.3,7.0 0 0 0 376.1,120.4 L376.1,96.4 Z" fill="#fcfdfb" stroke="#000" stroke-width="1.8" stroke-linejoin="round" />
<ellipse cx="365.8" cy="96.4" rx="10.3" ry="7.0" fill="#fcfdfb" stroke="#000" stroke-width="1.8" />
<path d="M262.9,164.2 L372.7,104.3 L374.6,121.2 L261.7,180.8 Z" fill="#fcfdfb" stroke="#000" stroke-width="1.8" stroke-linejoin="round" />
<path d="M249.0,156.8 L356.5,98.2 L372.7,104.3 L262.9,164.2 Z" fill="#fcfdfb" stroke="#000" stroke-width="1.8" stroke-linejoin="round" />
<path d="M372.5,104.5 Q371.8,113 374.4,121.2" fill="none" stroke="#000" stroke-width="1.2" stroke-linejoin="round" />
<path d="M210.0,176.0 L260.5,166.0 L261.7,180.8 L192.1,193.4 L192.0,180.0 Z" fill="#fcfdfb" stroke="#000" stroke-width="1.8" stroke-linejoin="round" />
<path d="M205.0,164.6 L249.0,156.8 L262.5,164.5 L260.5,166.0 L214.2,174.3 Z" fill="#fcfdfb" stroke="#000" stroke-width="1.8" stroke-linejoin="round" />
<path d="M262.7,164.3 Q263.6,172 261.7,180.8" fill="none" stroke="#000" stroke-width="1.3" stroke-linejoin="round" />
<line x1="265.5" y1="164.3" x2="280.0" y2="156.4" stroke="#000" stroke-width="1.2" />
<ellipse cx="365.8" cy="96.2" rx="10.3" ry="7.2" fill="#fcfdfb" stroke="#000" stroke-width="2.1" />
<ellipse cx="365.8" cy="95.4" rx="7.2" ry="4.6" fill="#fcfdfb" stroke="#000" stroke-width="1.4" />
<ellipse cx="334.5" cy="114.8" rx="3.8" ry="2.7" fill="#222" stroke="#000" stroke-width="1.2" />
<ellipse cx="334.9" cy="115.4" rx="2.2" ry="1.4" fill="#888" stroke="#888" stroke-width="0.8" />
<path d="M168.3,176 Q166.5,184 167.6,189.4 Q173,193.6 179.4,193.2 Q186,193 190.8,190.7 Q197,188 202.2,183.1 Q208,178 214.2,172.2 L201,163.1 L190,163.1 L175,165 Z" fill="#fcfdfb" stroke="#000" stroke-width="1.3" stroke-linejoin="round" />
<path d="M167.6,189.4 Q173,193.6 179.4,193.2 Q186,193 190.8,190.7 Q197,188 202.2,183.1 Q208,178 214.2,172.2" fill="none" stroke="#000" stroke-width="2.6" stroke-linejoin="round" />
<path d="M170.4,154.3 L170.4,185.5 A10.7,4.6 0 0 0 191.8,185.5 L191.8,154.3 Z" fill="#fcfdfb" stroke="#000" stroke-width="1.9" stroke-linejoin="round" />
<ellipse cx="181.1" cy="154.3" rx="10.7" ry="6.4" fill="#fcfdfb" stroke="#000" stroke-width="2.8" />
<path d="M171,156.5 A10.4,6.4 0 0 0 191.2,156.5 A10.4,4 0 0 1 171,156.5 Z" fill="#000" stroke="#000" stroke-width="0.5" stroke-linejoin="round" />
<ellipse cx="181.3" cy="153.4" rx="5.2" ry="3.3" fill="#fcfdfb" stroke="#000" stroke-width="1.6" />
<ellipse cx="181.6" cy="153.2" rx="2.2" ry="1.4" fill="#333" stroke="#000" stroke-width="1" />
<path d="M358.6,73.4 L358.6,80.6 A7.1,3.6 0 0 0 372.8,80.6 L372.8,73.4 Z" fill="#fcfdfb" stroke="#000" stroke-width="1.3" stroke-linejoin="round" />
<ellipse cx="365.7" cy="73.4" rx="7.1" ry="3.6" fill="#fcfdfb" stroke="#000" stroke-width="1.3" />
<path d="M358.6,134.0 L358.6,140.5 A7.1,3.4 0 0 0 372.8,140.5 L372.8,134.0 Z" fill="#fcfdfb" stroke="#000" stroke-width="1.3" stroke-linejoin="round" />
<ellipse cx="365.7" cy="134.0" rx="7.1" ry="3.4" fill="#fcfdfb" stroke="#000" stroke-width="1.3" />
<path d="M358.5,180.5 L348.6,189.6 Q346.4,194.4 351.2,195.6 L371.5,191.6 Q378.8,189 378,183 Z" fill="#fcfdfb" stroke="#000" stroke-width="1.9" stroke-linejoin="round" />
<ellipse cx="353.2" cy="191.5" rx="2.1" ry="1.5" fill="#333" stroke="#000" stroke-width="1.2" transform="rotate(-15 353.2 191.5)" />
<path d="M361.4,148.5 L361.4,184.0 A6.3,3.0 0 0 0 374.0,184.0 L374.0,148.5 Z" fill="#fcfdfb" stroke="#000" stroke-width="1.3" stroke-linejoin="round" />
<ellipse cx="367.7" cy="148.5" rx="6.3" ry="3.0" fill="#fcfdfb" stroke="#000" stroke-width="1.3" />
<ellipse cx="371.8" cy="165.5" rx="0.5" ry="0.5" fill="#000" stroke="#000" stroke-width="0.6" />
<g transform="translate(77.6 143.0) rotate(35.7)"><rect x="0" y="-3.0" width="16.0" height="6.0" fill="#fcfdfb" stroke="#000" stroke-width="1.2"/>
<line x1="1.2" y1="-3.0" x2="1.2" y2="3.0" stroke="#000" stroke-width="1.15" />
<line x1="3.2" y1="-3.0" x2="3.2" y2="3.0" stroke="#000" stroke-width="1.15" />
<line x1="5.2" y1="-3.0" x2="5.2" y2="3.0" stroke="#000" stroke-width="1.15" />
<line x1="7.2" y1="-3.0" x2="7.2" y2="3.0" stroke="#000" stroke-width="1.15" />
<line x1="9.2" y1="-3.0" x2="9.2" y2="3.0" stroke="#000" stroke-width="1.15" />
<line x1="11.2" y1="-3.0" x2="11.2" y2="3.0" stroke="#000" stroke-width="1.15" />
<line x1="13.2" y1="-3.0" x2="13.2" y2="3.0" stroke="#000" stroke-width="1.15" />
<line x1="15.2" y1="-3.0" x2="15.2" y2="3.0" stroke="#000" stroke-width="1.15" />
<rect x="-2" y="-6.8" width="2.2" height="13.5" rx="1" fill="#fcfdfb" stroke="#000" stroke-width="1.3"/>
<rect x="-7.5" y="-5.5" width="5.5" height="11.1" rx="1.2" fill="#fcfdfb" stroke="#000" stroke-width="1.4"/>
<line x1="-7.5" y1="-2.2" x2="-2.0" y2="-2.2" stroke="#000" stroke-width="0.9" />
<line x1="-7.5" y1="2.2" x2="-2.0" y2="2.2" stroke="#000" stroke-width="0.9" /></g>
<path d="M129.5,176.2 L137.5,169.8 L141.5,171.2 L138.3,174 L141.2,175 L146.5,170.8 L148.5,172.5 L147.5,176.5 L139.8,182.3 L137,181.5 L136.8,179 Z" fill="#fcfdfb" stroke="#000" stroke-width="1.3" stroke-linejoin="round" />
<line x1="129.5" y1="176.2" x2="136.8" y2="179.0" stroke="#000" stroke-width="1.1" />
<g transform="translate(158.8 190.8) rotate(-25.0)"><path d="M3.9,0.6 L0.9,6.8 L-5.3,6.8 L-8.3,0.6 L-5.3,-5.6 L0.9,-5.6 Z" fill="#fcfdfb" stroke="#000" stroke-width="1.5" stroke-linejoin="round" />
<path d="M6.7,0.0 L3.7,6.2 L-2.5,6.2 L-5.5,0.0 L-2.5,-6.2 L3.7,-6.2 Z" fill="#fcfdfb" stroke="#000" stroke-width="1.6" stroke-linejoin="round" />
<line x1="-5.3" y1="6.8" x2="-2.5" y2="6.2" stroke="#000" stroke-width="1.2" />
<line x1="-8.3" y1="0.6" x2="-5.5" y2="0.0" stroke="#000" stroke-width="1.2" />
<line x1="-5.3" y1="-5.6" x2="-2.5" y2="-6.2" stroke="#000" stroke-width="1.2" />
<ellipse cx="0.6" cy="0.0" rx="3.1" ry="3.7" fill="#fcfdfb" stroke="#000" stroke-width="1.5" />
<ellipse cx="0.9" cy="0.1" rx="1.8" ry="2.3" fill="#bbb" stroke="#000" stroke-width="1" /></g>
<path d="M171.6,225.6 L171.6,234.1 A9.4,4.5 0 0 0 190.4,234.1 L190.4,225.6 Z" fill="#fcfdfb" stroke="#000" stroke-width="1.4" stroke-linejoin="round" />
<ellipse cx="181.0" cy="225.6" rx="9.4" ry="4.5" fill="#fcfdfb" stroke="#000" stroke-width="1.6" />
<path d="M171.6,245.6 L171.6,254.1 A9.4,4.5 0 0 0 190.4,254.1 L190.4,245.6 Z" fill="#fcfdfb" stroke="#000" stroke-width="1.4" stroke-linejoin="round" />
<ellipse cx="181.0" cy="245.6" rx="9.4" ry="4.5" fill="#fcfdfb" stroke="#000" stroke-width="1.6" />
<g transform="translate(80.5 248.5) rotate(-29.7)"><rect x="-1" y="-3.3" width="5.5" height="6.6" rx="2" fill="#111" stroke="#000" stroke-width="0.8"/>
<ellipse cx="-3.6" cy="0.0" rx="3.0" ry="2.8" fill="#fcfdfb" stroke="#000" stroke-width="1.3" /></g>
<path d="M175.2,335.0 L175.2,346.0 A6.8,3.0 0 0 0 188.8,346.0 L188.8,335.0 Z" fill="#fcfdfb" stroke="#000" stroke-width="1.3" stroke-linejoin="round" />
<ellipse cx="182.0" cy="335.0" rx="6.8" ry="3.0" fill="#fcfdfb" stroke="#000" stroke-width="1.3" />
<path d="M171.6,327.5 L171.6,331.0 A10.4,4.2 0 0 0 192.4,331.0 L192.4,327.5 Z" fill="#fcfdfb" stroke="#000" stroke-width="1.5" stroke-linejoin="round" />
<ellipse cx="182.0" cy="327.5" rx="10.4" ry="4.2" fill="#fcfdfb" stroke="#000" stroke-width="1.5" />
<path d="M174.2,276.7 L174.2,326.7 A7.8,3.6 0 0 0 189.8,326.7 L189.8,276.7 Z" fill="#fcfdfb" stroke="#000" stroke-width="1.4" stroke-linejoin="round" />
<ellipse cx="182.0" cy="276.7" rx="7.8" ry="3.6" fill="#fcfdfb" stroke="#000" stroke-width="1.4" />
<ellipse cx="182.0" cy="276.7" rx="4.6" ry="2.2" fill="#111" stroke="#000" stroke-width="1" />
<line x1="187.2" y1="290.0" x2="187.2" y2="315.5" stroke="#000" stroke-width="2.2" />
<g transform="translate(232.8 226.0) rotate(28.0)"><path d="M2.1,0.6 L-0.0,6.0 L-4.4,6.0 L-6.5,0.6 L-4.4,-4.8 L-0.0,-4.8 Z" fill="#fcfdfb" stroke="#000" stroke-width="1.5" stroke-linejoin="round" />
<path d="M4.9,0.0 L2.8,5.4 L-1.6,5.4 L-3.7,0.0 L-1.6,-5.4 L2.8,-5.4 Z" fill="#fcfdfb" stroke="#000" stroke-width="1.6" stroke-linejoin="round" />
<line x1="-4.4" y1="6.0" x2="-1.6" y2="5.4" stroke="#000" stroke-width="1.2" />
<line x1="-6.5" y1="0.6" x2="-3.7" y2="0.0" stroke="#000" stroke-width="1.2" />
<line x1="-4.4" y1="-4.8" x2="-1.6" y2="-5.4" stroke="#000" stroke-width="1.2" />
<ellipse cx="0.6" cy="0.0" rx="2.2" ry="3.2" fill="#fcfdfb" stroke="#000" stroke-width="1.5" />
<ellipse cx="0.9" cy="0.1" rx="1.3" ry="2.0" fill="#bbb" stroke="#000" stroke-width="1" /></g>
<g transform="translate(270.5 247.5) rotate(210.5)"><rect x="0" y="-2.7" width="19.0" height="5.4" fill="#fcfdfb" stroke="#000" stroke-width="1.2"/>
<line x1="1.2" y1="-2.7" x2="1.2" y2="2.7" stroke="#000" stroke-width="1.15" />
<line x1="3.2" y1="-2.7" x2="3.2" y2="2.7" stroke="#000" stroke-width="1.15" />
<line x1="5.2" y1="-2.7" x2="5.2" y2="2.7" stroke="#000" stroke-width="1.15" />
<line x1="7.2" y1="-2.7" x2="7.2" y2="2.7" stroke="#000" stroke-width="1.15" />
<line x1="9.2" y1="-2.7" x2="9.2" y2="2.7" stroke="#000" stroke-width="1.15" />
<line x1="11.2" y1="-2.7" x2="11.2" y2="2.7" stroke="#000" stroke-width="1.15" />
<line x1="13.2" y1="-2.7" x2="13.2" y2="2.7" stroke="#000" stroke-width="1.15" />
<line x1="15.2" y1="-2.7" x2="15.2" y2="2.7" stroke="#000" stroke-width="1.15" />
<line x1="17.2" y1="-2.7" x2="17.2" y2="2.7" stroke="#000" stroke-width="1.15" />
<rect x="-6.5" y="-6.0" width="6.5" height="12.0" rx="2.5" fill="#fcfdfb" stroke="#000" stroke-width="1.4"/></g>
<g transform="translate(303.0 186.0) rotate(200.0)"><rect x="-5" y="-3.3" width="9.5" height="6.6" rx="2.2" fill="#000" stroke="#000" stroke-width="1"/>
<line x1="-2.5" y1="-2.4" x2="-2.5" y2="2.4" stroke="#777" stroke-width="0.5" />
<line x1="0.0" y1="-2.4" x2="0.0" y2="2.4" stroke="#777" stroke-width="0.5" />
<line x1="2.5" y1="-2.4" x2="2.5" y2="2.4" stroke="#777" stroke-width="0.5" />
<rect x="4.5" y="-1.7" width="3.4" height="3.4" rx="1.2" fill="#fcfdfb" stroke="#000" stroke-width="1.2"/></g>
<g transform="translate(430.5 220.0) rotate(-15.0)"><rect x="-5" y="-3.3" width="9.5" height="6.6" rx="2.2" fill="#000" stroke="#000" stroke-width="1"/>
<line x1="-2.5" y1="-2.4" x2="-2.5" y2="2.4" stroke="#777" stroke-width="0.5" />
<line x1="0.0" y1="-2.4" x2="0.0" y2="2.4" stroke="#777" stroke-width="0.5" />
<line x1="2.5" y1="-2.4" x2="2.5" y2="2.4" stroke="#777" stroke-width="0.5" />
<rect x="4.5" y="-1.7" width="3.4" height="3.4" rx="1.2" fill="#fcfdfb" stroke="#000" stroke-width="1.2"/></g>
<g transform="translate(333.0 207.0) rotate(26.0)"><rect x="-1.5" y="-6" width="13.5" height="12" rx="5.5" fill="#fcfdfb" stroke="#000" stroke-width="1.8"/>
<ellipse cx="4.0" cy="-0.6" rx="2.8" ry="2.8" fill="#fcfdfb" stroke="#000" stroke-width="1.4" />
<rect x="8.5" y="-4.8" width="10" height="10.6" rx="3" fill="#fcfdfb" stroke="#000" stroke-width="1.8"/>
<ellipse cx="13.5" cy="0.8" rx="2.4" ry="2.4" fill="#888" stroke="#000" stroke-width="1.3" />
<rect x="18" y="-3.4" width="12" height="6.8" fill="#fcfdfb" stroke="#000" stroke-width="1.4"/>
<rect x="21" y="-5" width="4" height="10" rx="1.2" fill="#fcfdfb" stroke="#000" stroke-width="1.5"/>
<rect x="51.2" y="-7" width="15" height="14" rx="2" fill="#fcfdfb" stroke="#000" stroke-width="1.8"/>
<rect x="64.2" y="-5.8" width="16.5" height="11.6" rx="5.6" fill="#fcfdfb" stroke="#000" stroke-width="1.8"/>
<ellipse cx="73.4" cy="0.2" rx="3.2" ry="2.6" fill="#fcfdfb" stroke="#000" stroke-width="1.4" />
<rect x="28" y="-9.3" width="25.2" height="18.6" rx="3.5" fill="#fcfdfb" stroke="#000" stroke-width="1.8"/>
<path d="M48.2,-9.3 A3.5,9.3 0 0 0 48.2,9.3" fill="none" stroke="#000" stroke-width="1.4"/></g></g>
<g id="parts_ml"><line x1="182.0" y1="349.0" x2="182.0" y2="398.0" stroke="#000" stroke-width="1.2" />
<line x1="102.9" y1="409.4" x2="153.5" y2="438.0" stroke="#000" stroke-width="1.2" />
<line x1="181.8" y1="436.0" x2="181.8" y2="544.0" stroke="#000" stroke-width="1.2" />
<line x1="178.8" y1="452.6" x2="207.1" y2="470.0" stroke="#000" stroke-width="1.2" />
<line x1="227.4" y1="480.0" x2="252.7" y2="495.7" stroke="#000" stroke-width="1.2" />
<line x1="316.2" y1="532.5" x2="353.0" y2="554.8" stroke="#000" stroke-width="1.2" />
<ellipse cx="182.0" cy="371.5" rx="9.6" ry="5.8" fill="#fcfdfb" stroke="#000" stroke-width="2.2" />
<ellipse cx="182.0" cy="371.3" rx="7.0" ry="3.9" fill="#fcfdfb" stroke="#000" stroke-width="1.1" />
<path d="M168.0,460.6 L173.0,461.3 L187.5,451.2 L183.5,437.5 L176.0,432.0 Z" fill="#fcfdfb" stroke="#000" stroke-width="1.7" stroke-linejoin="round" />
<ellipse cx="177.4" cy="451.9" rx="1.6" ry="1.9" fill="#333" stroke="#000" stroke-width="1" />
<path d="M139.7,396.3 L145.5,397.5 L145.5,413.0 L172.5,459.8 L168.0,460.6 L139.7,412.0 Z" fill="#fcfdfb" stroke="#000" stroke-width="1.9" stroke-linejoin="round" />
<line x1="143.2" y1="412.5" x2="169.8" y2="460.2" stroke="#000" stroke-width="1.5" />
<path d="M165.8,383.8 L220.1,412.0 L194.1,425.8 L145.5,398.3 Z" fill="#fcfdfb" stroke="#000" stroke-width="1.8" stroke-linejoin="round" />
<path d="M164.2,384.8 L165.6,380.6 Q167.6,378.6 169.6,381.2 L171,386.4" fill="#fcfdfb" stroke="#000" stroke-width="1.6" stroke-linejoin="round" />
<line x1="149.8" y1="402.3" x2="191.0" y2="424.8" stroke="#000" stroke-width="1" />
<path d="M145.5,398.3 L194.1,425.8 L194.8,438.8 L144.8,412.0 Z" fill="#fcfdfb" stroke="#000" stroke-width="1.7" stroke-linejoin="round" />
<line x1="144.8" y1="412.0" x2="194.8" y2="438.8" stroke="#000" stroke-width="3.2" />
<ellipse cx="171.3" cy="420.0" rx="1.5" ry="1.9" fill="#555" stroke="#000" stroke-width="1" />
<ellipse cx="182.0" cy="404.8" rx="10.1" ry="6.4" fill="#fcfdfb" stroke="#000" stroke-width="1.8" />
<ellipse cx="182.0" cy="405.6" rx="8.0" ry="4.6" fill="#fcfdfb" stroke="#000" stroke-width="1.2" />
<line x1="182.0" y1="398.0" x2="182.0" y2="409.5" stroke="#000" stroke-width="1.2" />
<path d="M194.1,425.8 L220.1,412.0 L224.5,412.8 L241.2,481.0 L224.5,491.7 L221.5,489.5 L194.1,442.5 Z" fill="#fcfdfb" stroke="#000" stroke-width="1.9" stroke-linejoin="round" />
<line x1="197.9" y1="427.2" x2="197.9" y2="443.2" stroke="#000" stroke-width="1.5" />
<line x1="220.1" y1="412.0" x2="238.2" y2="481.2" stroke="#000" stroke-width="1.5" />
<line x1="197.9" y1="443.2" x2="224.7" y2="488.3" stroke="#000" stroke-width="1.5" />
<line x1="238.2" y1="481.2" x2="241.2" y2="481.0" stroke="#000" stroke-width="1.1" />
<ellipse cx="226.7" cy="479.4" rx="1.8" ry="2.1" fill="#333" stroke="#000" stroke-width="1" />
<circle cx="181.7" cy="413.5" r="28" fill="none" stroke="#000" stroke-width="1.9" stroke-dasharray="1.9 3.7"/>
<g transform="translate(96.5 405.8) rotate(30.0)"><path d="M3.8,0.6 L0.8,6.7 L-5.2,6.7 L-8.2,0.6 L-5.2,-5.5 L0.8,-5.5 Z" fill="#fcfdfb" stroke="#000" stroke-width="1.5" stroke-linejoin="round" />
<path d="M6.5,0.0 L3.6,6.1 L-2.4,6.1 L-5.4,0.0 L-2.4,-6.1 L3.6,-6.1 Z" fill="#fcfdfb" stroke="#000" stroke-width="1.6" stroke-linejoin="round" />
<line x1="-5.2" y1="6.7" x2="-2.4" y2="6.1" stroke="#000" stroke-width="1.2" />
<line x1="-8.2" y1="0.6" x2="-5.4" y2="0.0" stroke="#000" stroke-width="1.2" />
<line x1="-5.2" y1="-5.5" x2="-2.4" y2="-6.1" stroke="#000" stroke-width="1.2" />
<ellipse cx="0.6" cy="0.0" rx="3.0" ry="3.6" fill="#fcfdfb" stroke="#000" stroke-width="1.5" />
<ellipse cx="0.9" cy="0.1" rx="1.8" ry="2.2" fill="#bbb" stroke="#000" stroke-width="1" /></g>
<g transform="translate(130.3 423.9) rotate(28.0)"><ellipse cx="0.0" cy="0.0" rx="5.6" ry="6.8" fill="#fcfdfb" stroke="#000" stroke-width="1.5" />
<ellipse cx="0.4" cy="0.0" rx="2.5" ry="3.1" fill="#777" stroke="#000" stroke-width="1.3" /></g>
<ellipse cx="181.8" cy="480.0" rx="13.0" ry="7.6" fill="#fcfdfb" stroke="#000" stroke-width="1.4" />
<ellipse cx="181.8" cy="478.6" rx="13.0" ry="7.4" fill="#fcfdfb" stroke="#000" stroke-width="1.5" />
<ellipse cx="181.8" cy="478.8" rx="2.2" ry="1.1" fill="#000" stroke="#000" stroke-width="1" />
<ellipse cx="182.2" cy="513.1" rx="5.8" ry="3.3" fill="#fcfdfb" stroke="#000" stroke-width="2.5" />
<line x1="181.8" y1="509.0" x2="181.8" y2="517.0" stroke="#000" stroke-width="1.2" />
<g transform="translate(182.2 557.5) rotate(-90.0)"><rect x="0" y="-3.3" width="13.5" height="6.6" fill="#fcfdfb" stroke="#000" stroke-width="1.2"/>
<line x1="1.2" y1="-3.3" x2="1.2" y2="3.3" stroke="#000" stroke-width="1.15" />
<line x1="3.3" y1="-3.3" x2="3.3" y2="3.3" stroke="#000" stroke-width="1.15" />
<line x1="5.4" y1="-3.3" x2="5.4" y2="3.3" stroke="#000" stroke-width="1.15" />
<line x1="7.5" y1="-3.3" x2="7.5" y2="3.3" stroke="#000" stroke-width="1.15" />
<line x1="9.6" y1="-3.3" x2="9.6" y2="3.3" stroke="#000" stroke-width="1.15" />
<line x1="11.7" y1="-3.3" x2="11.7" y2="3.3" stroke="#000" stroke-width="1.15" />
<rect x="-2" y="-6.6" width="2.2" height="13.2" rx="1" fill="#fcfdfb" stroke="#000" stroke-width="1.3"/>
<rect x="-9.0" y="-5.4" width="7.0" height="10.8" rx="1.2" fill="#fcfdfb" stroke="#000" stroke-width="1.4"/>
<line x1="-9.0" y1="-2.2" x2="-2.0" y2="-2.2" stroke="#000" stroke-width="0.9" />
<line x1="-9.0" y1="2.2" x2="-2.0" y2="2.2" stroke="#000" stroke-width="0.9" /></g>
<g transform="translate(252.7 495.7) rotate(29.1)"><rect x="0" y="-2.6" width="72.7" height="5.2" fill="#fcfdfb" stroke="#000" stroke-width="1.2"/>
<rect x="0" y="-2.6" width="12.5" height="5.2" fill="#222" stroke="#000" stroke-width="1"/>
<rect x="60.7" y="-2.6" width="12" height="5.2" fill="#222" stroke="#000" stroke-width="1"/>
<line x1="2.0" y1="-2.2" x2="2.0" y2="2.2" stroke="#aaa" stroke-width="0.6" />
<line x1="62.2" y1="-2.2" x2="62.2" y2="2.2" stroke="#aaa" stroke-width="0.6" />
<line x1="4.3" y1="-2.2" x2="4.3" y2="2.2" stroke="#aaa" stroke-width="0.6" />
<line x1="64.5" y1="-2.2" x2="64.5" y2="2.2" stroke="#aaa" stroke-width="0.6" />
<line x1="6.6" y1="-2.2" x2="6.6" y2="2.2" stroke="#aaa" stroke-width="0.6" />
<line x1="66.8" y1="-2.2" x2="66.8" y2="2.2" stroke="#aaa" stroke-width="0.6" />
<line x1="8.9" y1="-2.2" x2="8.9" y2="2.2" stroke="#aaa" stroke-width="0.6" />
<line x1="69.1" y1="-2.2" x2="69.1" y2="2.2" stroke="#aaa" stroke-width="0.6" />
<line x1="11.2" y1="-2.2" x2="11.2" y2="2.2" stroke="#aaa" stroke-width="0.6" />
<line x1="71.4" y1="-2.2" x2="71.4" y2="2.2" stroke="#aaa" stroke-width="0.6" />
<ellipse cx="72.7" cy="0.0" rx="1.4" ry="2.6" fill="#fcfdfb" stroke="#000" stroke-width="1" /></g>
<g transform="translate(330.7 541.4) rotate(28.0)"><ellipse cx="0.0" cy="0.0" rx="5.6" ry="6.8" fill="#fcfdfb" stroke="#000" stroke-width="1.5" />
<ellipse cx="0.4" cy="0.0" rx="2.5" ry="3.1" fill="#777" stroke="#000" stroke-width="1.3" /></g>
<g transform="translate(360.0 557.8) rotate(30.0)"><path d="M4.2,0.6 L1.0,7.1 L-5.4,7.1 L-8.6,0.6 L-5.4,-5.9 L1.0,-5.9 Z" fill="#fcfdfb" stroke="#000" stroke-width="1.5" stroke-linejoin="round" />
<path d="M7.0,0.0 L3.8,6.5 L-2.6,6.5 L-5.8,0.0 L-2.6,-6.5 L3.8,-6.5 Z" fill="#fcfdfb" stroke="#000" stroke-width="1.6" stroke-linejoin="round" />
<line x1="-5.4" y1="7.1" x2="-2.6" y2="6.5" stroke="#000" stroke-width="1.2" />
<line x1="-8.6" y1="0.6" x2="-5.8" y2="0.0" stroke="#000" stroke-width="1.2" />
<line x1="-5.4" y1="-5.9" x2="-2.6" y2="-6.5" stroke="#000" stroke-width="1.2" />
<ellipse cx="0.6" cy="0.0" rx="3.2" ry="3.9" fill="#fcfdfb" stroke="#000" stroke-width="1.5" />
<ellipse cx="0.9" cy="0.1" rx="1.9" ry="2.4" fill="#bbb" stroke="#000" stroke-width="1" /></g>
<path d="M386.1,343.9 L392.0,340.0 L399.0,336.0" fill="none" stroke="#444" stroke-width="0.9" stroke-linejoin="round" stroke-dasharray="1 1"/>
<path d="M368.0,347.0 L382.0,339.5 L386.1,343.9 L386.1,369.5" fill="none" stroke="#444" stroke-width="0.9" stroke-linejoin="round" stroke-dasharray="1 1"/>
<path d="M368.0,347.0 L368.0,371.0 L377.7,375.5 L377.7,352.5 L368.0,347.0" fill="none" stroke="#444" stroke-width="0.9" stroke-linejoin="round" stroke-dasharray="1 1"/>
<line x1="370.0" y1="349.1" x2="370.0" y2="372.5" stroke="#444" stroke-width="0.8" stroke-dasharray="1 1"/>
<line x1="372.0" y1="350.2" x2="372.0" y2="373.5" stroke="#444" stroke-width="0.8" stroke-dasharray="1 1"/>
<line x1="374.0" y1="351.3" x2="374.0" y2="374.5" stroke="#444" stroke-width="0.8" stroke-dasharray="1 1"/>
<line x1="376.0" y1="352.4" x2="376.0" y2="375.5" stroke="#444" stroke-width="0.8" stroke-dasharray="1 1"/>
<line x1="390.4" y1="350.3" x2="466.7" y2="393.7" stroke="#444" stroke-width="0.9" stroke-dasharray="1 1"/>
<line x1="379.0" y1="369.3" x2="476.0" y2="420.5" stroke="#444" stroke-width="0.9" stroke-dasharray="1 1"/>
<line x1="379.0" y1="371.5" x2="476.0" y2="422.7" stroke="#444" stroke-width="0.9" stroke-dasharray="1 1"/>
<line x1="379.0" y1="373.7" x2="476.0" y2="424.9" stroke="#444" stroke-width="0.9" stroke-dasharray="1 1"/>
<line x1="379.0" y1="375.9" x2="476.0" y2="427.1" stroke="#444" stroke-width="0.9" stroke-dasharray="1 1"/>
<line x1="379.0" y1="378.3" x2="476.0" y2="429.5" stroke="#444" stroke-width="0.9" stroke-dasharray="1 1"/>
<path d="M474.0,394.8 L501.5,382.0 L505.0,383.5" fill="none" stroke="#444" stroke-width="0.9" stroke-linejoin="round" stroke-dasharray="1 1"/>
<path d="M474.0,394.8 L474.0,431.0 L481.5,435.0 L484.7,433.0 L484.7,400.5 L474.0,394.8" fill="none" stroke="#444" stroke-width="0.9" stroke-linejoin="round" stroke-dasharray="1 1"/>
<line x1="484.7" y1="400.5" x2="505.0" y2="390.0" stroke="#444" stroke-width="0.9" stroke-dasharray="1 1"/>
<line x1="476.5" y1="397.2" x2="476.5" y2="433.1" stroke="#444" stroke-width="0.8" stroke-dasharray="1 1"/>
<line x1="479.0" y1="398.5" x2="479.0" y2="434.2" stroke="#444" stroke-width="0.8" stroke-dasharray="1 1"/>
<line x1="481.5" y1="399.8" x2="481.5" y2="435.4" stroke="#444" stroke-width="0.8" stroke-dasharray="1 1"/>
<ellipse cx="451.8" cy="357.5" rx="20.0" ry="12.6" fill="none" stroke="#444" stroke-width="1" stroke-dasharray="1 1"/>
<ellipse cx="451.8" cy="357.5" rx="17.5" ry="10.6" fill="none" stroke="#444" stroke-width="1" stroke-dasharray="1 1"/>
<ellipse cx="451.8" cy="355.5" rx="15.5" ry="8.6" fill="none" stroke="#444" stroke-width="1" stroke-dasharray="1 1"/>
<ellipse cx="431.3" cy="384.2" rx="2.0" ry="3.0" fill="none" stroke="#444" stroke-width="0.9" stroke-dasharray="1 1"/>
<line x1="433.8" y1="383.7" x2="398.9" y2="403.2" stroke="#000" stroke-width="1.3" />
<g transform="translate(393.0 407.5) rotate(-30.0)"><rect x="-6.5" y="-3" width="13" height="6" rx="2.5" fill="#fcfdfb" stroke="#000" stroke-width="1.5"/><rect x="-6.5" y="-3" width="5" height="6" rx="2" fill="#111"/></g>
<g transform="translate(370.5 420.2) rotate(32.0)"><rect x="-1" y="-3.3" width="5.5" height="6.6" rx="2" fill="#111" stroke="#000" stroke-width="0.8"/>
<ellipse cx="-3.6" cy="0.0" rx="3.0" ry="2.8" fill="#fcfdfb" stroke="#000" stroke-width="1.3" /></g>
<line x1="452.5" y1="411.7" x2="452.5" y2="432.0" stroke="#000" stroke-width="1.3" />
<path d="M437.4,432.9 L437.4,462.9 A15.4,8.3 0 0 0 468.2,462.9 L468.2,432.9 Z" fill="#fcfdfb" stroke="#000" stroke-width="1.6" stroke-linejoin="round" />
<ellipse cx="452.8" cy="432.9" rx="15.4" ry="8.3" fill="#fcfdfb" stroke="#000" stroke-width="2.6" />
<line x1="452.5" y1="420.0" x2="452.5" y2="436.0" stroke="#000" stroke-width="1.3" />
<ellipse cx="442.3" cy="455.8" rx="1.7" ry="2.2" fill="#111" stroke="#000" stroke-width="1" />
<ellipse cx="463.0" cy="455.8" rx="1.7" ry="2.2" fill="#111" stroke="#000" stroke-width="1" /></g>
<g id="parts_wheel"><line x1="78.8" y1="589.2" x2="88.0" y2="594.6" stroke="#000" stroke-width="1.2" />
<line x1="101.4" y1="602.6" x2="118.6" y2="612.9" stroke="#000" stroke-width="1.2" />
<line x1="133.0" y1="620.1" x2="137.5" y2="623.0" stroke="#000" stroke-width="1.2" />
<line x1="191.8" y1="656.2" x2="210.3" y2="666.5" stroke="#000" stroke-width="1.2" />
<line x1="219.6" y1="670.6" x2="226.8" y2="674.7" stroke="#000" stroke-width="1.2" />
<ellipse cx="101.4" cy="601.5" rx="27.0" ry="13.8" fill="#fcfdfb" stroke="#000" stroke-width="1.4" transform="rotate(-57.6 101.4 601.5)" />
<ellipse cx="101.4" cy="589.2" rx="1.8" ry="3.6" fill="#fcfdfb" stroke="#000" stroke-width="1.3" transform="rotate(25 101.4 589.2)" />
<ellipse cx="101.0" cy="602.0" rx="1.5" ry="2.1" fill="#fcfdfb" stroke="#000" stroke-width="1.2" transform="rotate(25 101.0 602.0)" />
<line x1="101.4" y1="602.6" x2="118.6" y2="612.9" stroke="#000" stroke-width="1.2" />
<g transform="translate(65.5 582.2) rotate(30.2)"><path d="M0,-5 L10,-5 L10,5 L0,5 A2.2,5 0 0 1 0,-5 Z" fill="#fcfdfb" stroke="#000" stroke-width="1.7"/>
<ellipse cx="10.0" cy="0.0" rx="2.5" ry="5.0" fill="#fcfdfb" stroke="#000" stroke-width="1.6" />
<ellipse cx="10.0" cy="0.0" rx="1.0" ry="2.5" fill="#fcfdfb" stroke="#000" stroke-width="0.9" /></g>
<g transform="translate(119.5 612.2) rotate(30.2)"><path d="M0,-5 L10,-5 L10,5 L0,5 A2.2,5 0 0 1 0,-5 Z" fill="#fcfdfb" stroke="#000" stroke-width="1.7"/>
<ellipse cx="10.0" cy="0.0" rx="2.5" ry="5.0" fill="#fcfdfb" stroke="#000" stroke-width="1.6" />
<ellipse cx="10.0" cy="0.0" rx="1.0" ry="2.5" fill="#fcfdfb" stroke="#000" stroke-width="0.9" /></g>
<g transform="translate(137.3 625.3) rotate(28.8)"><path d="M0,-4 L57.2,-4 L57.2,4 L0,4 A1.8,4 0 0 1 0,-4 Z" fill="#fcfdfb" stroke="#000" stroke-width="1.4"/>
<ellipse cx="57.2" cy="0.0" rx="2.0" ry="4.0" fill="#fcfdfb" stroke="#000" stroke-width="1.4" />
<ellipse cx="57.2" cy="0.0" rx="0.8" ry="1.8" fill="#fcfdfb" stroke="#000" stroke-width="0.8" /></g>
<ellipse cx="215.0" cy="668.0" rx="4.4" ry="6.4" fill="#fcfdfb" stroke="#000" stroke-width="3" transform="rotate(28 215.0 668.0)" />
<ellipse cx="215.3" cy="668.0" rx="2.0" ry="3.2" fill="#fcfdfb" stroke="#000" stroke-width="1" transform="rotate(28 215.3 668.0)" />
<path d="M353.1,687.3 L275.8,643.0 L216.4,643.0 L164.0,673.3 L164.0,736.8 L241.8,781.5" fill="none" stroke="#000" stroke-width="2.6" stroke-linejoin="round" />
<line x1="372.7" y1="699.2" x2="381.5" y2="704.2" stroke="#000" stroke-width="2.6" />
<path d="M400.8,715.3 L445.1,740.2 L445.1,848.0 L401.1,872.8 L382.6,862.9" fill="none" stroke="#000" stroke-width="2.6" stroke-linejoin="round" />
<line x1="261.3" y1="792.8" x2="269.6" y2="797.6" stroke="#000" stroke-width="2.6" />
<line x1="289.2" y1="809.0" x2="366.1" y2="853.6" stroke="#000" stroke-width="2.6" />
<ellipse cx="249.5" cy="690.5" rx="26.5" ry="41.0" fill="#fcfdfb" stroke="#000" stroke-width="2.7" transform="rotate(-10 249.5 690.5)" />
<ellipse cx="253.5" cy="692.0" rx="26.5" ry="41.0" fill="#fcfdfb" stroke="#000" stroke-width="2.7" transform="rotate(-10 253.5 692.0)" />
<ellipse cx="257.5" cy="693.5" rx="26.5" ry="41.0" fill="#fcfdfb" stroke="#000" stroke-width="2.7" transform="rotate(-10 257.5 693.5)" />
<ellipse cx="261.5" cy="695.0" rx="26.5" ry="41.0" fill="#fcfdfb" stroke="#000" stroke-width="2.7" transform="rotate(-10 261.5 695.0)" />
<ellipse cx="265.5" cy="696.5" rx="26.5" ry="41.0" fill="#fcfdfb" stroke="#000" stroke-width="2.7" transform="rotate(-10 265.5 696.5)" />
<ellipse cx="269.5" cy="698.0" rx="26.5" ry="41.0" fill="#fcfdfb" stroke="#000" stroke-width="2.7" transform="rotate(-10 269.5 698.0)" />
<ellipse cx="273.5" cy="699.5" rx="26.5" ry="41.0" fill="#fcfdfb" stroke="#000" stroke-width="2.4" transform="rotate(-10 273.5 699.5)" />
<ellipse cx="274.7" cy="700.0" rx="19.5" ry="31.5" fill="#000" stroke="#000" stroke-width="2" transform="rotate(-10 274.7 700.0)" />
<ellipse cx="278.1" cy="692.0" rx="15.8" ry="25.0" fill="#fcfdfb" stroke="#fcfdfb" stroke-width="0.8" transform="rotate(-10 278.1 692.0)" />
<ellipse cx="274.7" cy="700.0" rx="19.5" ry="31.5" fill="none" stroke="#000" stroke-width="2" transform="rotate(-10 274.7 700.0)" />
<ellipse cx="267.0" cy="696.5" rx="7.0" ry="19.5" fill="#fcfdfb" stroke="#000" stroke-width="1.3" transform="rotate(-10 267.0 696.5)" />
<path d="M272.5,672.5 Q282.5,691.5 276.5,718.5" fill="none" stroke="#000" stroke-width="1.1" stroke-linejoin="round" />
<line x1="271.6" y1="702.2" x2="294.3" y2="714.5" stroke="#000" stroke-width="2" />
<ellipse cx="320.7" cy="730.6" rx="31.5" ry="36.8" fill="#fcfdfb" stroke="#000" stroke-width="2" transform="rotate(-22 320.7 730.6)" />
<ellipse cx="325.2" cy="730.1" rx="25.0" ry="33.5" fill="#000" stroke="#000" stroke-width="1" transform="rotate(-22 325.2 730.1)" />
<ellipse cx="326.2" cy="732.1" rx="12.5" ry="19.5" fill="#fcfdfb" stroke="#000" stroke-width="1" transform="rotate(-22 326.2 732.1)" />
<line x1="326.3" y1="737.2" x2="343.8" y2="745.5" stroke="#000" stroke-width="2.2" />
<line x1="322.0" y1="734.0" x2="332.0" y2="716.0" stroke="#000" stroke-width="1.2" />
<line x1="322.0" y1="734.0" x2="310.0" y2="743.0" stroke="#000" stroke-width="1.2" />
<ellipse cx="322.0" cy="734.0" rx="2.4" ry="2.8" fill="#fcfdfb" stroke="#000" stroke-width="1.1" />
<line x1="294.3" y1="714.5" x2="300.5" y2="718.0" stroke="#000" stroke-width="2" />
<ellipse cx="360.5" cy="757.5" rx="19.5" ry="27.5" fill="url(#stip2)" stroke="#000" stroke-width="1.4" transform="rotate(-20 360.5 757.5)" />
<ellipse cx="362.5" cy="758.5" rx="16.5" ry="24.0" fill="url(#stip2)" stroke="#000" stroke-width="1" transform="rotate(-20 362.5 758.5)" />
<ellipse cx="370.0" cy="762.5" rx="15.0" ry="21.5" fill="#fcfdfb" stroke="#000" stroke-width="1" transform="rotate(-20 370.0 762.5)" />
<ellipse cx="381.5" cy="768.8" rx="20.5" ry="28.0" fill="url(#stip2)" stroke="#000" stroke-width="1.5" transform="rotate(-20 381.5 768.8)" />
<ellipse cx="381.5" cy="768.8" rx="17.0" ry="23.5" fill="url(#stip2)" stroke="#000" stroke-width="1" transform="rotate(-20 381.5 768.8)" />
<ellipse cx="381.0" cy="768.8" rx="13.5" ry="18.5" fill="#fcfdfb" stroke="#000" stroke-width="1" transform="rotate(-20 381.0 768.8)" />
<ellipse cx="378.5" cy="768.6" rx="7.5" ry="9.2" fill="#fcfdfb" stroke="#000" stroke-width="1.4" transform="rotate(-20 378.5 768.6)" />
<ellipse cx="381.5" cy="769.8" rx="5.6" ry="7.2" fill="#fcfdfb" stroke="#000" stroke-width="1.5" transform="rotate(-20 381.5 769.8)" />
<ellipse cx="382.8" cy="770.3" rx="3.4" ry="5.0" fill="#999" stroke="#000" stroke-width="1.3" transform="rotate(-20 382.8 770.3)" />
<g transform="translate(401.5 782.0) rotate(27.0)"><path d="M0,-4.2 L20.5,-4.2 L20.5,4.2 L0,4.2 A1.9,4.2 0 0 1 0,-4.2 Z" fill="#fcfdfb" stroke="#000" stroke-width="1.7"/>
<ellipse cx="20.5" cy="0.0" rx="2.1" ry="4.2" fill="#fcfdfb" stroke="#000" stroke-width="1.6" />
<ellipse cx="20.5" cy="0.0" rx="0.8" ry="2.1" fill="#fcfdfb" stroke="#000" stroke-width="0.9" /></g>
<line x1="421.5" y1="795.0" x2="430.0" y2="800.7" stroke="#000" stroke-width="1.2" />
<line x1="440.3" y1="807.2" x2="462.0" y2="820.6" stroke="#000" stroke-width="1.2" />
<ellipse cx="434.7" cy="804.1" rx="5.2" ry="7.4" fill="#fcfdfb" stroke="#000" stroke-width="3.3" transform="rotate(28 434.7 804.1)" />
<ellipse cx="435.0" cy="804.1" rx="2.2" ry="3.8" fill="#fcfdfb" stroke="#000" stroke-width="1" transform="rotate(28 435.0 804.1)" />
<g transform="translate(462.2 819.6) rotate(30.2)"><path d="M0,-5.2 L7.5,-5.2 L7.5,5.2 L0,5.2 A2.3,5.2 0 0 1 0,-5.2 Z" fill="#fcfdfb" stroke="#000" stroke-width="1.7"/>
<ellipse cx="7.5" cy="0.0" rx="2.6" ry="5.2" fill="#fcfdfb" stroke="#000" stroke-width="1.6" />
<ellipse cx="7.5" cy="0.0" rx="1.0" ry="2.6" fill="#fcfdfb" stroke="#000" stroke-width="0.9" /></g>
<line x1="472.7" y1="825.8" x2="480.5" y2="830.9" stroke="#000" stroke-width="1.2" />
<ellipse cx="494.5" cy="839.0" rx="27.0" ry="13.8" fill="#fcfdfb" stroke="#000" stroke-width="1.4" transform="rotate(-57.6 494.5 839.0)" />
<ellipse cx="494.5" cy="826.7" rx="1.8" ry="3.6" fill="#fcfdfb" stroke="#000" stroke-width="1.3" transform="rotate(25 494.5 826.7)" />
<ellipse cx="494.1" cy="839.5" rx="1.5" ry="2.1" fill="#fcfdfb" stroke="#000" stroke-width="1.2" transform="rotate(25 494.1 839.5)" />
<line x1="495.0" y1="840.2" x2="514.5" y2="852.6" stroke="#000" stroke-width="1.2" />
<g transform="translate(516.0 853.5) rotate(30.2)"><path d="M0,-5.2 L9.5,-5.2 L9.5,5.2 L0,5.2 A2.3,5.2 0 0 1 0,-5.2 Z" fill="#fcfdfb" stroke="#000" stroke-width="1.7"/>
<ellipse cx="9.5" cy="0.0" rx="2.6" ry="5.2" fill="#fcfdfb" stroke="#000" stroke-width="1.6" />
<ellipse cx="9.5" cy="0.0" rx="1.0" ry="2.6" fill="#fcfdfb" stroke="#000" stroke-width="0.9" /></g></g>
<g id="parts_br"><line x1="614.5" y1="775.5" x2="674.2" y2="741.6" stroke="#000" stroke-width="1.2" />
<line x1="790.6" y1="760.5" x2="803.0" y2="767.7" stroke="#000" stroke-width="1.2" />
<line x1="870.1" y1="797.4" x2="885.0" y2="789.0" stroke="#000" stroke-width="1.2" />
<line x1="899.0" y1="635.0" x2="899.0" y2="646.0" stroke="#000" stroke-width="1.2" />
<line x1="899.0" y1="676.0" x2="899.0" y2="696.0" stroke="#000" stroke-width="1.2" />
<line x1="804.0" y1="777.0" x2="804.0" y2="820.5" stroke="#000" stroke-width="1" stroke-dasharray="1.6 0.8"/>
<line x1="792.5" y1="831.0" x2="792.5" y2="866.0" stroke="#000" stroke-width="1.1" />
<line x1="1160.2" y1="619.7" x2="1160.2" y2="687.0" stroke="#000" stroke-width="1.4" />
<g transform="translate(810.6 578.0) rotate(0.0)"><path d="M-7.8,-2.5 L-4,-6.3 L4,-6.3 L7.8,-2.5 L7.8,2.6 L4,6.5 L-4,6.5 L-7.8,2.6 Z" fill="#fcfdfb" stroke="#000" stroke-width="1.5" stroke-linejoin="round" />
<ellipse cx="0.0" cy="-2.0" rx="7.4" ry="4.1" fill="#fcfdfb" stroke="#000" stroke-width="1.2" />
<ellipse cx="0.0" cy="-2.0" rx="4.0" ry="2.2" fill="#fcfdfb" stroke="#000" stroke-width="1.3" />
<line x1="-3.6" y1="1.5" x2="-3.6" y2="6.3" stroke="#000" stroke-width="1" />
<line x1="3.6" y1="1.5" x2="3.6" y2="6.3" stroke="#000" stroke-width="1" /></g>
<ellipse cx="810.6" cy="602.9" rx="7.3" ry="4.6" fill="#fcfdfb" stroke="#000" stroke-width="1.6" />
<ellipse cx="810.6" cy="602.6" rx="3.8" ry="2.1" fill="#666" stroke="#000" stroke-width="1.3" />
<path d="M803.3,603 L803.3,604.8 A7.3,4.6 0 0 0 817.9,604.8 L817.9,603" fill="none" stroke="#000" stroke-width="1.2" stroke-linejoin="round" />
<path d="M892.4,625.0 L892.4,632.0 A7.0,3.6 0 0 0 906.4,632.0 L906.4,625.0 Z" fill="#fcfdfb" stroke="#000" stroke-width="1.3" stroke-linejoin="round" />
<ellipse cx="899.4" cy="625.0" rx="7.0" ry="3.6" fill="#fcfdfb" stroke="#000" stroke-width="1.3" />
<path d="M681.5,744 Q680.5,750 686,753.5 Q692,756.6 699,755.6 L723.6,752.6 L752,746.3 L752,743 L700,746 Z" fill="#fcfdfb" stroke="#000" stroke-width="2.2" stroke-linejoin="round" />
<path d="M685.9,732 L685.9,748 A10.1,3.6 0 0 0 706.1,748 L706.1,732 Z" fill="#fcfdfb" stroke="#000" stroke-width="1.4" stroke-linejoin="round" />
<ellipse cx="688.8" cy="736.2" rx="0.9" ry="1.1" fill="#000" stroke="#000" stroke-width="0.8" />
<path d="M710.2,731 L710.2,741 Q711.5,747.5 719,751 L724.6,752.3 L724.6,731.6 Z" fill="#fcfdfb" stroke="#000" stroke-width="1.5" stroke-linejoin="round" />
<path d="M713,733 L713,740.5 Q714.5,746 724.6,749.5" fill="none" stroke="#000" stroke-width="1.1" stroke-linejoin="round" />
<path d="M887.1,646.4 L887.1,672.4 A9.9,6.2 0 0 0 906.9,672.4 L906.9,646.4 Z" fill="#fcfdfb" stroke="#000" stroke-width="1.8" stroke-linejoin="round" />
<ellipse cx="897.0" cy="646.4" rx="9.9" ry="6.2" fill="#fcfdfb" stroke="#000" stroke-width="1.8" />
<path d="M797.8,717.2 L902.5,655.4 L905.3,671.5 L796.8,734.7 Z" fill="#fcfdfb" stroke="#000" stroke-width="1.8" stroke-linejoin="round" />
<path d="M783.4,711.0 L887.6,649.3 L902.5,655.4 L797.8,717.2 Z" fill="#fcfdfb" stroke="#000" stroke-width="1.8" stroke-linejoin="round" />
<path d="M902.5,655.4 Q901.7,664 905.3,671.5" fill="none" stroke="#000" stroke-width="1.2" stroke-linejoin="round" />
<path d="M724.6,731.6 L797.8,717.2 L796.8,734.7 L724.6,750.0 Z" fill="#fcfdfb" stroke="#000" stroke-width="1.8" stroke-linejoin="round" />
<path d="M742.2,718.2 L783.4,711.0 L797.8,717.2 L751.4,726.3 Z" fill="#fcfdfb" stroke="#000" stroke-width="1.8" stroke-linejoin="round" />
<path d="M797.8,717.2 Q798.8,726 796.8,734.7" fill="none" stroke="#000" stroke-width="1.2" stroke-linejoin="round" />
<line x1="726.0" y1="751.2" x2="754.0" y2="745.6" stroke="#000" stroke-width="1.6" />
<ellipse cx="897.0" cy="646.2" rx="9.9" ry="6.6" fill="#fcfdfb" stroke="#000" stroke-width="2.1" />
<ellipse cx="897.0" cy="645.5" rx="6.8" ry="4.2" fill="#fcfdfb" stroke="#000" stroke-width="1.4" />
<line x1="899.0" y1="640.0" x2="899.0" y2="648.0" stroke="#000" stroke-width="1.2" />
<ellipse cx="867.0" cy="666.8" rx="4.2" ry="2.8" fill="#222" stroke="#000" stroke-width="1.2" />
<ellipse cx="867.3" cy="667.4" rx="2.4" ry="1.4" fill="#999" stroke="#999" stroke-width="0.8" />
<path d="M681.3,724 Q680,731 688,734 Q694,735.8 700,734.6 L723.6,731.8 L751.4,726.3 L736,717.2 L706.5,715.6 L690,717 Z" fill="#fcfdfb" stroke="#000" stroke-width="1.4" stroke-linejoin="round" />
<path d="M681.3,725 Q680,731 688,734 Q694,735.8 700,734.6 L723.6,731.8 L751.4,726.3" fill="none" stroke="#000" stroke-width="2.2" stroke-linejoin="round" />
<path d="M685.1,696.6 L685.1,727.5 A10.7,3.8 0 0 0 706.5,727.5 L706.5,696.6 Z" fill="#fcfdfb" stroke="#000" stroke-width="1.5" stroke-linejoin="round" />
<ellipse cx="695.8" cy="696.6" rx="10.7" ry="6.6" fill="#fcfdfb" stroke="#000" stroke-width="2.3" />
<path d="M685.6,698.6 A10.4,6.4 0 0 0 706,698.6 A10.4,3.8 0 0 1 685.6,698.6 Z" fill="#000" stroke="#000" stroke-width="0.5" stroke-linejoin="round" />
<ellipse cx="695.6" cy="695.4" rx="5.2" ry="3.2" fill="#fcfdfb" stroke="#000" stroke-width="1.4" />
<line x1="693.0" y1="694.6" x2="698.0" y2="695.8" stroke="#000" stroke-width="1" />
<path d="M891.1,698.7 L891.1,705.3 A7.0,3.4 0 0 0 905.1,705.3 L905.1,698.7 Z" fill="#fcfdfb" stroke="#000" stroke-width="1.3" stroke-linejoin="round" />
<ellipse cx="898.1" cy="698.7" rx="7.0" ry="3.4" fill="#fcfdfb" stroke="#000" stroke-width="1.3" />
<g transform="translate(697.5 644.0) rotate(90.0)"><rect x="0" y="-4.5" width="33.0" height="9.0" fill="#fcfdfb" stroke="#000" stroke-width="1.2"/>
<line x1="1.2" y1="-4.5" x2="1.2" y2="4.5" stroke="#000" stroke-width="1.15" />
<line x1="3.3" y1="-4.5" x2="3.3" y2="4.5" stroke="#000" stroke-width="1.15" />
<line x1="5.5" y1="-4.5" x2="5.5" y2="4.5" stroke="#000" stroke-width="1.15" />
<line x1="7.7" y1="-4.5" x2="7.7" y2="4.5" stroke="#000" stroke-width="1.15" />
<line x1="9.8" y1="-4.5" x2="9.8" y2="4.5" stroke="#000" stroke-width="1.15" />
<line x1="12.0" y1="-4.5" x2="12.0" y2="4.5" stroke="#000" stroke-width="1.15" />
<line x1="14.1" y1="-4.5" x2="14.1" y2="4.5" stroke="#000" stroke-width="1.15" />
<line x1="16.2" y1="-4.5" x2="16.2" y2="4.5" stroke="#000" stroke-width="1.15" />
<line x1="18.4" y1="-4.5" x2="18.4" y2="4.5" stroke="#000" stroke-width="1.15" />
<line x1="20.5" y1="-4.5" x2="20.5" y2="4.5" stroke="#000" stroke-width="1.15" />
<line x1="22.7" y1="-4.5" x2="22.7" y2="4.5" stroke="#000" stroke-width="1.15" />
<line x1="24.8" y1="-4.5" x2="24.8" y2="4.5" stroke="#000" stroke-width="1.15" />
<line x1="27.0" y1="-4.5" x2="27.0" y2="4.5" stroke="#000" stroke-width="1.15" />
<line x1="29.1" y1="-4.5" x2="29.1" y2="4.5" stroke="#000" stroke-width="1.15" />
<line x1="31.3" y1="-4.5" x2="31.3" y2="4.5" stroke="#000" stroke-width="1.15" />
<rect x="-2" y="-7.4" width="2.2" height="14.8" rx="1" fill="#fcfdfb" stroke="#000" stroke-width="1.3"/>
<rect x="-11.0" y="-6.2" width="9.0" height="12.4" rx="1.2" fill="#fcfdfb" stroke="#000" stroke-width="1.4"/>
<line x1="-11.0" y1="-2.5" x2="-2.0" y2="-2.5" stroke="#000" stroke-width="0.9" />
<line x1="-11.0" y1="2.5" x2="-2.0" y2="2.5" stroke="#000" stroke-width="0.9" /></g>
<rect x="694.4" y="628" width="6.2" height="7" rx="1.5" fill="#fcfdfb" stroke="#000" stroke-width="1.3"/>
<path d="M647.5,714 L655,710 L659.5,711.5 L656,714.3 L659,715.2 L664.5,711.2 L666.8,713 L665.5,717.5 L659.5,723.2 L656.5,722.2 L656.3,719.2 Z" fill="#fcfdfb" stroke="#000" stroke-width="1.3" stroke-linejoin="round" />
<g transform="translate(608.5 779.5) rotate(-29.7)"><rect x="-1" y="-3.3" width="5.5" height="6.6" rx="2" fill="#111" stroke="#000" stroke-width="0.8"/>
<ellipse cx="-3.6" cy="0.0" rx="3.0" ry="2.8" fill="#fcfdfb" stroke="#000" stroke-width="1.3" /></g>
<path d="M686.0,766.2 L686.0,773.4 A9.3,5.2 0 0 0 704.6,773.4 L704.6,766.2 Z" fill="#fcfdfb" stroke="#000" stroke-width="1.4" stroke-linejoin="round" />
<ellipse cx="695.3" cy="766.2" rx="9.3" ry="5.2" fill="#fcfdfb" stroke="#000" stroke-width="1.6" />
<path d="M686.0,788.4 L686.0,795.6 A9.3,5.2 0 0 0 704.6,795.6 L704.6,788.4 Z" fill="#fcfdfb" stroke="#000" stroke-width="1.4" stroke-linejoin="round" />
<ellipse cx="695.3" cy="788.4" rx="9.3" ry="5.2" fill="#fcfdfb" stroke="#000" stroke-width="1.6" />
<path d="M686.8,874.5 L686.8,887.5 A6.9,3.0 0 0 0 700.6,887.5 L700.6,874.5 Z" fill="#fcfdfb" stroke="#000" stroke-width="1.3" stroke-linejoin="round" />
<ellipse cx="693.7" cy="874.5" rx="6.9" ry="3.0" fill="#fcfdfb" stroke="#000" stroke-width="1.3" />
<path d="M682.8,866.6 L682.8,870.6 A10.5,4.0 0 0 0 703.8,870.6 L703.8,866.6 Z" fill="#fcfdfb" stroke="#000" stroke-width="1.5" stroke-linejoin="round" />
<ellipse cx="693.3" cy="866.6" rx="10.5" ry="4.0" fill="#fcfdfb" stroke="#000" stroke-width="1.5" />
<path d="M685.0,816.0 L685.0,865.0 A8.3,4.0 0 0 0 701.6,865.0 L701.6,816.0 Z" fill="#fcfdfb" stroke="#000" stroke-width="1.4" stroke-linejoin="round" />
<ellipse cx="693.3" cy="816.0" rx="8.3" ry="4.0" fill="#fcfdfb" stroke="#000" stroke-width="1.4" />
<ellipse cx="693.3" cy="816.0" rx="4.6" ry="2.3" fill="#111" stroke="#000" stroke-width="1" />
<g transform="translate(785.5 758.0) rotate(205.0)"><rect x="-5" y="-3.3" width="9.5" height="6.6" rx="2.2" fill="#000" stroke="#000" stroke-width="1"/>
<line x1="-2.5" y1="-2.4" x2="-2.5" y2="2.4" stroke="#777" stroke-width="0.5" />
<line x1="0.0" y1="-2.4" x2="0.0" y2="2.4" stroke="#777" stroke-width="0.5" />
<line x1="2.5" y1="-2.4" x2="2.5" y2="2.4" stroke="#777" stroke-width="0.5" />
<rect x="4.5" y="-1.7" width="3.4" height="3.4" rx="1.2" fill="#fcfdfb" stroke="#000" stroke-width="1.2"/></g>
<g transform="translate(866.5 802.0) rotate(-152.0)"><rect x="-1.5" y="-6" width="13.5" height="12" rx="5.5" fill="#fcfdfb" stroke="#000" stroke-width="1.8"/>
<ellipse cx="4.0" cy="-0.6" rx="2.8" ry="2.8" fill="#fcfdfb" stroke="#000" stroke-width="1.4" />
<rect x="8.5" y="-4.8" width="10" height="10.6" rx="3" fill="#fcfdfb" stroke="#000" stroke-width="1.8"/>
<ellipse cx="13.5" cy="0.8" rx="2.4" ry="2.4" fill="#888" stroke="#000" stroke-width="1.3" />
<rect x="18" y="-3.4" width="12" height="6.8" fill="#fcfdfb" stroke="#000" stroke-width="1.4"/>
<rect x="21" y="-5" width="4" height="10" rx="1.2" fill="#fcfdfb" stroke="#000" stroke-width="1.5"/>
<rect x="44.4" y="-7" width="15" height="14" rx="2" fill="#fcfdfb" stroke="#000" stroke-width="1.8"/>
<rect x="57.4" y="-5.8" width="16.5" height="11.6" rx="5.6" fill="#fcfdfb" stroke="#000" stroke-width="1.8"/>
<ellipse cx="66.6" cy="0.2" rx="3.2" ry="2.6" fill="#fcfdfb" stroke="#000" stroke-width="1.4" />
<rect x="28" y="-9.3" width="18.4" height="18.6" rx="3.5" fill="#fcfdfb" stroke="#000" stroke-width="1.8"/>
<path d="M41.4,-9.3 A3.5,9.3 0 0 0 41.4,9.3" fill="none" stroke="#000" stroke-width="1.4"/></g>
<g transform="translate(891.0 786.5) rotate(-25.0)"><rect x="-5" y="-3.3" width="9.5" height="6.6" rx="2.2" fill="#000" stroke="#000" stroke-width="1"/>
<line x1="-2.5" y1="-2.4" x2="-2.5" y2="2.4" stroke="#777" stroke-width="0.5" />
<line x1="0.0" y1="-2.4" x2="0.0" y2="2.4" stroke="#777" stroke-width="0.5" />
<line x1="2.5" y1="-2.4" x2="2.5" y2="2.4" stroke="#777" stroke-width="0.5" />
<rect x="4.5" y="-1.7" width="3.4" height="3.4" rx="1.2" fill="#fcfdfb" stroke="#000" stroke-width="1.2"/></g>
<path d="M790.3,826 Q789,828.5 791.5,830.3 L799.5,837.5 Q803,839.5 808,838.3 Q811,836.5 808.5,833.5 L800.5,829.5 L796,825 Q793,824 790.3,826 Z" fill="#fcfdfb" stroke="#000" stroke-width="1.8" stroke-linejoin="round" />
<ellipse cx="793.4" cy="827.6" rx="2.0" ry="1.3" fill="#555" stroke="#000" stroke-width="1" />
<path d="M800.6,822.5 L800.6,835.0 A3.6,1.7 0 0 0 807.8,835.0 L807.8,822.5 Z" fill="#fcfdfb" stroke="#000" stroke-width="1.3" stroke-linejoin="round" />
<ellipse cx="804.2" cy="822.5" rx="3.6" ry="1.7" fill="#fcfdfb" stroke="#000" stroke-width="1.3" />
<ellipse cx="792.3" cy="849.9" rx="7.0" ry="3.8" fill="#fcfdfb" stroke="#000" stroke-width="2.6" />
<line x1="792.5" y1="846.0" x2="792.5" y2="854.0" stroke="#000" stroke-width="1.1" />
<g transform="translate(792.8 879.5) rotate(-90.0)"><rect x="0" y="-3.3" width="14.0" height="6.6" fill="#fcfdfb" stroke="#000" stroke-width="1.2"/>
<line x1="1.2" y1="-3.3" x2="1.2" y2="3.3" stroke="#000" stroke-width="1.15" />
<line x1="3.3" y1="-3.3" x2="3.3" y2="3.3" stroke="#000" stroke-width="1.15" />
<line x1="5.4" y1="-3.3" x2="5.4" y2="3.3" stroke="#000" stroke-width="1.15" />
<line x1="7.5" y1="-3.3" x2="7.5" y2="3.3" stroke="#000" stroke-width="1.15" />
<line x1="9.6" y1="-3.3" x2="9.6" y2="3.3" stroke="#000" stroke-width="1.15" />
<line x1="11.7" y1="-3.3" x2="11.7" y2="3.3" stroke="#000" stroke-width="1.15" />
<rect x="-2" y="-7.0" width="2.2" height="14.0" rx="1" fill="#fcfdfb" stroke="#000" stroke-width="1.3"/>
<rect x="-9.5" y="-5.8" width="7.5" height="11.6" rx="1.2" fill="#fcfdfb" stroke="#000" stroke-width="1.4"/>
<line x1="-9.5" y1="-2.3" x2="-2.0" y2="-2.3" stroke="#000" stroke-width="0.9" />
<line x1="-9.5" y1="2.3" x2="-2.0" y2="2.3" stroke="#000" stroke-width="0.9" /></g>
<rect x="863.2" y="824" width="4.8" height="33" fill="#fcfdfb" stroke="#000" stroke-width="1.2"/>
<rect x="863.2" y="824" width="4.8" height="14" fill="#111" stroke="#000" stroke-width="1"/>
<ellipse cx="865.5" cy="860.4" rx="5.8" ry="4.0" fill="#111" stroke="#000" stroke-width="1.4" />
<ellipse cx="865.5" cy="858.6" rx="3.0" ry="1.6" fill="#fcfdfb" stroke="#000" stroke-width="0.8" />
<path d="M1166,627.5 L1155.5,635.2 Q1153.4,639.4 1157.5,641.2 L1178,637.3 Q1186,634.8 1185,629 Z" fill="#fcfdfb" stroke="#000" stroke-width="1.9" stroke-linejoin="round" />
<ellipse cx="1160.3" cy="636.7" rx="2.1" ry="1.5" fill="#333" stroke="#000" stroke-width="1.2" />
<line x1="1160.2" y1="619.7" x2="1160.2" y2="640.0" stroke="#000" stroke-width="1.4" />
<path d="M1168.0,595.0 L1168.0,629.5 A7.0,3.2 0 0 0 1182.0,629.5 L1182.0,595.0 Z" fill="#fcfdfb" stroke="#000" stroke-width="1.4" stroke-linejoin="round" />
<ellipse cx="1175.0" cy="595.0" rx="7.0" ry="3.2" fill="#fcfdfb" stroke="#000" stroke-width="1.4" />
<line x1="1176.0" y1="585.0" x2="1176.0" y2="596.0" stroke="#000" stroke-width="1.3" />
<ellipse cx="1179.3" cy="611.0" rx="0.6" ry="0.6" fill="#000" stroke="#000" stroke-width="0.6" />
<ellipse cx="1160.2" cy="664.2" rx="6.6" ry="3.6" fill="#fcfdfb" stroke="#000" stroke-width="2.6" />
<line x1="1160.2" y1="660.0" x2="1160.2" y2="668.0" stroke="#000" stroke-width="1.4" />
<g transform="translate(1160.5 700.5) rotate(-90.0)"><rect x="0" y="-3.4" width="14.0" height="6.8" fill="#fcfdfb" stroke="#000" stroke-width="1.2"/>
<line x1="1.2" y1="-3.4" x2="1.2" y2="3.4" stroke="#000" stroke-width="1.15" />
<line x1="3.3" y1="-3.4" x2="3.3" y2="3.4" stroke="#000" stroke-width="1.15" />
<line x1="5.4" y1="-3.4" x2="5.4" y2="3.4" stroke="#000" stroke-width="1.15" />
<line x1="7.5" y1="-3.4" x2="7.5" y2="3.4" stroke="#000" stroke-width="1.15" />
<line x1="9.6" y1="-3.4" x2="9.6" y2="3.4" stroke="#000" stroke-width="1.15" />
<line x1="11.7" y1="-3.4" x2="11.7" y2="3.4" stroke="#000" stroke-width="1.15" />
<rect x="-2" y="-7.2" width="2.2" height="14.4" rx="1" fill="#fcfdfb" stroke="#000" stroke-width="1.3"/>
<rect x="-9.5" y="-6.0" width="7.5" height="12.0" rx="1.2" fill="#fcfdfb" stroke="#000" stroke-width="1.4"/>
<line x1="-9.5" y1="-2.4" x2="-2.0" y2="-2.4" stroke="#000" stroke-width="0.9" />
<line x1="-9.5" y1="2.4" x2="-2.0" y2="2.4" stroke="#000" stroke-width="0.9" /></g></g>
<g id="labels" style="opacity:0.999"><text x="77.40" y="63.5" font-size="18.6">2</text>
<text x="87.74" y="63.5" font-size="18.6">0</text>
<path d="M226.20,81.00 L224.57,81.00 L224.57,70.58 Q223.63,71.46 221.30,72.44 L221.30,70.86 Q224.18,69.51 225.15,67.63 L226.20,67.63 Z" fill="#000"/>
<text x="229.62" y="81.0" font-size="18.6">9</text>
<path d="M132.10,123.30 L130.47,123.30 L130.47,112.88 Q129.53,113.76 127.20,114.74 L127.20,113.16 Q130.08,111.81 131.05,109.93 L132.10,109.93 Z" fill="#000"/>
<text x="135.52" y="123.3" font-size="18.6">6</text>
<text x="316.00" y="78.8" font-size="18.6">5</text>
<path d="M271.30,113.80 L269.67,113.80 L269.67,103.38 Q268.73,104.26 266.40,105.24 L266.40,103.66 Q269.28,102.31 270.25,100.43 L271.30,100.43 Z" fill="#000"/>
<text x="274.72" y="113.8" font-size="18.6">8</text>
<text x="401.10" y="145.2" font-size="18.6">5</text>
<path d="M413.20,181.80 L411.57,181.80 L411.57,171.38 Q410.63,172.26 408.30,173.24 L408.30,171.66 Q411.18,170.31 412.15,168.43 L413.20,168.43 Z" fill="#000"/>
<text x="27.40" y="145.5" font-size="18.6">2</text>
<path d="M44.67,145.50 L43.04,145.50 L43.04,135.08 Q42.10,135.96 39.77,136.94 L39.77,135.36 Q42.65,134.01 43.62,132.13 L44.67,132.13 Z" fill="#000"/>
<path d="M70.70,184.00 L69.07,184.00 L69.07,173.58 Q68.13,174.46 65.80,175.44 L65.80,173.86 Q68.68,172.51 69.65,170.63 L70.70,170.63 Z" fill="#000"/>
<text x="74.12" y="184.0" font-size="18.6">7</text>
<text x="89.70" y="201.6" font-size="18.6">2</text>
<text x="100.04" y="201.6" font-size="18.6">2</text>
<text x="119.50" y="239.0" font-size="18.6">6</text>
<text x="95.50" y="271.2" font-size="18.6">2</text>
<text x="105.84" y="271.2" font-size="18.6">8</text>
<path d="M134.50,299.00 L132.87,299.00 L132.87,288.58 Q131.93,289.46 129.60,290.44 L129.60,288.86 Q132.48,287.51 133.45,285.63 L134.50,285.63 Z" fill="#000"/>
<text x="137.92" y="299.0" font-size="18.6">5</text>
<text x="223.70" y="274.5" font-size="18.6">2</text>
<text x="234.04" y="274.5" font-size="18.6">4</text>
<text x="259.30" y="293.5" font-size="18.6">2</text>
<text x="269.64" y="293.5" font-size="18.6">3</text>
<text x="298.10" y="237.4" font-size="18.6">8</text>
<text x="363.30" y="275.8" font-size="18.6">7</text>
<text x="451.40" y="247.3" font-size="18.6">8</text>
<text x="232.60" y="379.7" font-size="18.6">2</text>
<text x="242.94" y="379.7" font-size="18.6">5</text>
<text x="96.60" y="373.7" font-size="18.6">2</text>
<text x="106.94" y="373.7" font-size="18.6">6</text>
<text x="47.60" y="433.2" font-size="18.6">3</text>
<text x="57.94" y="433.2" font-size="18.6">3</text>
<text x="75.40" y="455.0" font-size="18.6">3</text>
<text x="85.74" y="455.0" font-size="18.6">4</text>
<text x="129.70" y="487.3" font-size="18.6">3</text>
<text x="140.04" y="487.3" font-size="18.6">2</text>
<text x="131.30" y="521.4" font-size="18.6">3</text>
<path d="M148.57,521.40 L146.94,521.40 L146.94,510.98 Q146.00,511.86 143.67,512.84 L143.67,511.26 Q146.55,509.91 147.52,508.03 L148.57,508.03 Z" fill="#000"/>
<text x="129.30" y="557.7" font-size="18.6">3</text>
<text x="139.64" y="557.7" font-size="18.6">0</text>
<text x="281.30" y="481.9" font-size="18.6">3</text>
<text x="291.64" y="481.9" font-size="18.6">5</text>
<text x="324.80" y="504.2" font-size="18.6">3</text>
<text x="335.14" y="504.2" font-size="18.6">4</text>
<text x="352.70" y="520.2" font-size="18.6">3</text>
<text x="363.04" y="520.2" font-size="18.6">3</text>
<text x="411.30" y="426.1" font-size="18.6">2</text>
<text x="421.64" y="426.1" font-size="18.6">9</text>
<text x="387.30" y="442.4" font-size="18.6">2</text>
<text x="397.64" y="442.4" font-size="18.6">8</text>
<text x="399.20" y="472.0" font-size="18.6">2</text>
<text x="409.54" y="472.0" font-size="18.6">7</text>
<text x="16.60" y="612.9" font-size="18.6">3</text>
<text x="26.94" y="612.9" font-size="18.6">6</text>
<text x="35.80" y="637.0" font-size="18.6">3</text>
<text x="46.14" y="637.0" font-size="18.6">7</text>
<text x="61.60" y="649.0" font-size="18.6">3</text>
<text x="71.94" y="649.0" font-size="18.6">8</text>
<text x="103.80" y="679.5" font-size="18.6">3</text>
<text x="114.14" y="679.5" font-size="18.6">9</text>
<text x="171.20" y="690.7" font-size="18.6">4</text>
<path d="M188.47,690.70 L186.84,690.70 L186.84,680.28 Q185.90,681.16 183.57,682.14 L183.57,680.56 Q186.45,679.21 187.42,677.33 L188.47,677.33 Z" fill="#000"/>
<text x="183.70" y="741.3" font-size="18.6">4</text>
<text x="194.04" y="741.3" font-size="18.6">2</text>
<text x="253.80" y="772.3" font-size="18.6">4</text>
<text x="264.14" y="772.3" font-size="18.6">3</text>
<text x="182.70" y="802.8" font-size="18.6">4</text>
<text x="193.04" y="802.8" font-size="18.6">0</text>
<text x="304.70" y="807.7" font-size="18.6">4</text>
<text x="315.04" y="807.7" font-size="18.6">4</text>
<text x="361.70" y="818.6" font-size="18.6">4</text>
<text x="372.04" y="818.6" font-size="18.6">5</text>
<text x="394.00" y="827.8" font-size="18.6">4</text>
<path d="M411.27,827.80 L409.64,827.80 L409.64,817.38 Q408.70,818.26 406.37,819.24 L406.37,817.66 Q409.25,816.31 410.22,814.43 L411.27,814.43 Z" fill="#000"/>
<text x="505.00" y="796.9" font-size="18.6">4</text>
<text x="515.34" y="796.9" font-size="18.6">6</text>
<text x="540.00" y="810.3" font-size="18.6">3</text>
<text x="550.34" y="810.3" font-size="18.6">7</text>
<text x="553.40" y="836.1" font-size="18.6">4</text>
<text x="563.74" y="836.1" font-size="18.6">7</text>
<path d="M759.50,586.20 L757.87,586.20 L757.87,575.78 Q756.93,576.66 754.60,577.64 L754.60,576.06 Q757.48,574.71 758.45,572.83 L759.50,572.83 Z" fill="#000"/>
<path d="M769.85,586.20 L768.21,586.20 L768.21,575.78 Q767.28,576.66 764.94,577.64 L764.94,576.06 Q767.82,574.71 768.80,572.83 L769.85,572.83 Z" fill="#000"/>
<path d="M758.70,615.00 L757.07,615.00 L757.07,604.58 Q756.13,605.46 753.80,606.44 L753.80,604.86 Q756.68,603.51 757.65,601.63 L758.70,601.63 Z" fill="#000"/>
<text x="762.12" y="615.0" font-size="18.6">0</text>
<text x="854.60" y="614.3" font-size="18.6">5</text>
<text x="944.20" y="710.5" font-size="18.6">5</text>
<path d="M643.70,665.30 L642.07,665.30 L642.07,654.88 Q641.13,655.76 638.80,656.74 L638.80,655.16 Q641.68,653.81 642.65,651.93 L643.70,651.93 Z" fill="#000"/>
<text x="647.12" y="665.3" font-size="18.6">6</text>
<text x="774.90" y="677.6" font-size="18.6">4</text>
<path d="M600.00,726.50 L598.37,726.50 L598.37,716.08 Q597.43,716.96 595.10,717.94 L595.10,716.36 Q597.98,715.01 598.95,713.13 L600.00,713.13 Z" fill="#000"/>
<text x="603.42" y="726.5" font-size="18.6">7</text>
<text x="638.70" y="775.9" font-size="18.6">6</text>
<text x="624.40" y="801.6" font-size="18.6">2</text>
<text x="634.74" y="801.6" font-size="18.6">8</text>
<path d="M634.20,843.60 L632.57,843.60 L632.57,833.18 Q631.63,834.06 629.30,835.04 L629.30,833.46 Q632.18,832.11 633.15,830.23 L634.20,830.23 Z" fill="#000"/>
<text x="637.62" y="843.6" font-size="18.6">5</text>
<text x="755.10" y="779.9" font-size="18.6">8</text>
<text x="834.20" y="750.2" font-size="18.6">7</text>
<text x="932.80" y="791.6" font-size="18.6">8</text>
<path d="M744.10,836.60 L742.47,836.60 L742.47,826.18 Q741.53,827.06 739.20,828.04 L739.20,826.46 Q742.08,825.11 743.05,823.23 L744.10,823.23 Z" fill="#000"/>
<text x="747.52" y="836.6" font-size="18.6">4</text>
<path d="M832.10,855.90 L830.47,855.90 L830.47,845.48 Q829.53,846.36 827.20,847.34 L827.20,845.76 Q830.08,844.41 831.05,842.53 L832.10,842.53 Z" fill="#000"/>
<text x="835.52" y="855.9" font-size="18.6">3</text>
<path d="M744.10,881.40 L742.47,881.40 L742.47,870.98 Q741.53,871.86 739.20,872.84 L739.20,871.26 Q742.08,869.91 743.05,868.03 L744.10,868.03 Z" fill="#000"/>
<text x="747.52" y="881.4" font-size="18.6">2</text>
<text x="893.50" y="850.6" font-size="18.6">9</text>
<path d="M1220.50,611.20 L1218.87,611.20 L1218.87,600.78 Q1217.93,601.66 1215.60,602.64 L1215.60,601.06 Q1218.48,599.71 1219.45,597.83 L1220.50,597.83 Z" fill="#000"/>
<text x="1200.30" y="672.7" font-size="18.6">3</text>
<text x="1200.30" y="705.5" font-size="18.6">2</text>
<line x1="97.6" y1="58.5" x2="141.0" y2="58.5" stroke="#000" stroke-width="1.25" />
<line x1="186.5" y1="74.3" x2="220.0" y2="74.3" stroke="#000" stroke-width="1.25" />
<line x1="145.8" y1="116.2" x2="176.5" y2="116.2" stroke="#000" stroke-width="1.25" />
<line x1="326.6" y1="73.1" x2="358.5" y2="73.1" stroke="#000" stroke-width="1.25" />
<line x1="274.0" y1="114.6" x2="274.0" y2="148.0" stroke="#000" stroke-width="1.25" />
<line x1="372.7" y1="136.9" x2="400.2" y2="136.9" stroke="#000" stroke-width="1.25" />
<line x1="371.2" y1="172.4" x2="406.3" y2="172.4" stroke="#000" stroke-width="1.25" />
<line x1="47.0" y1="139.0" x2="71.0" y2="139.0" stroke="#000" stroke-width="1.25" />
<line x1="84.5" y1="176.0" x2="132.4" y2="176.0" stroke="#000" stroke-width="1.25" />
<line x1="110.5" y1="195.0" x2="152.0" y2="195.0" stroke="#000" stroke-width="1.25" />
<line x1="130.4" y1="233.0" x2="171.0" y2="233.0" stroke="#000" stroke-width="1.25" />
<line x1="130.4" y1="233.0" x2="171.0" y2="249.5" stroke="#000" stroke-width="1.25" />
<line x1="83.0" y1="251.0" x2="96.8" y2="259.5" stroke="#000" stroke-width="1.25" />
<line x1="147.8" y1="292.0" x2="174.3" y2="292.0" stroke="#000" stroke-width="1.25" />
<line x1="232.6" y1="233.0" x2="232.6" y2="260.5" stroke="#000" stroke-width="1.25" />
<line x1="266.8" y1="253.0" x2="266.8" y2="279.5" stroke="#000" stroke-width="1.25" />
<line x1="303.3" y1="189.6" x2="303.3" y2="222.7" stroke="#000" stroke-width="1.25" />
<line x1="365.3" y1="232.0" x2="365.3" y2="260.5" stroke="#000" stroke-width="1.25" />
<line x1="431.0" y1="223.5" x2="450.5" y2="237.5" stroke="#000" stroke-width="1.25" />
<line x1="192.8" y1="372.2" x2="232.5" y2="372.2" stroke="#000" stroke-width="1.25" />
<line x1="117.3" y1="370.4" x2="153.8" y2="391.5" stroke="#000" stroke-width="1.25" />
<line x1="67.5" y1="421.6" x2="90.2" y2="408.7" stroke="#000" stroke-width="1.25" />
<line x1="95.0" y1="443.5" x2="126.0" y2="426.1" stroke="#000" stroke-width="1.25" />
<line x1="150.0" y1="481.0" x2="169.0" y2="481.0" stroke="#000" stroke-width="1.25" />
<line x1="149.3" y1="514.7" x2="176.9" y2="514.7" stroke="#000" stroke-width="1.25" />
<line x1="149.3" y1="550.8" x2="178.7" y2="550.8" stroke="#000" stroke-width="1.25" />
<line x1="291.2" y1="483.5" x2="291.2" y2="512.4" stroke="#000" stroke-width="1.25" />
<line x1="333.6" y1="504.8" x2="333.6" y2="534.7" stroke="#000" stroke-width="1.25" />
<line x1="363.0" y1="521.4" x2="363.0" y2="550.3" stroke="#000" stroke-width="1.25" />
<line x1="397.4" y1="407.9" x2="412.6" y2="417.0" stroke="#000" stroke-width="1.25" />
<line x1="373.4" y1="422.3" x2="387.6" y2="431.2" stroke="#000" stroke-width="1.25" />
<line x1="420.0" y1="458.3" x2="440.2" y2="447.7" stroke="#000" stroke-width="1.25" />
<line x1="37.3" y1="601.5" x2="63.9" y2="586.1" stroke="#000" stroke-width="1.25" />
<line x1="58.8" y1="626.3" x2="86.6" y2="609.8" stroke="#000" stroke-width="1.25" />
<line x1="87.6" y1="636.6" x2="117.5" y2="620.1" stroke="#000" stroke-width="1.25" />
<line x1="128.2" y1="668.0" x2="165.0" y2="647.0" stroke="#000" stroke-width="1.25" />
<line x1="191.8" y1="681.0" x2="209.3" y2="671.6" stroke="#000" stroke-width="1.25" />
<line x1="204.2" y1="731.0" x2="225.3" y2="719.0" stroke="#000" stroke-width="1.25" />
<line x1="273.5" y1="760.3" x2="294.3" y2="748.6" stroke="#000" stroke-width="1.25" />
<line x1="201.5" y1="791.9" x2="230.4" y2="776.4" stroke="#000" stroke-width="1.25" />
<line x1="327.3" y1="796.0" x2="345.9" y2="785.7" stroke="#000" stroke-width="1.25" />
<line x1="380.8" y1="807.2" x2="409.4" y2="790.7" stroke="#000" stroke-width="1.25" />
<line x1="413.5" y1="818.6" x2="429.0" y2="809.3" stroke="#000" stroke-width="1.25" />
<line x1="504.2" y1="796.9" x2="470.2" y2="817.5" stroke="#000" stroke-width="1.25" />
<line x1="539.3" y1="810.3" x2="512.5" y2="825.8" stroke="#000" stroke-width="1.25" />
<line x1="552.7" y1="836.1" x2="524.8" y2="852.6" stroke="#000" stroke-width="1.25" />
<line x1="772.5" y1="578.4" x2="802.8" y2="578.4" stroke="#000" stroke-width="1.25" />
<line x1="773.0" y1="606.9" x2="803.6" y2="606.9" stroke="#000" stroke-width="1.25" />
<line x1="862.3" y1="609.9" x2="892.9" y2="627.4" stroke="#000" stroke-width="1.25" />
<line x1="905.1" y1="704.4" x2="942.8" y2="704.4" stroke="#000" stroke-width="1.25" />
<line x1="659.0" y1="658.9" x2="693.0" y2="658.9" stroke="#000" stroke-width="1.25" />
<line x1="780.7" y1="681.1" x2="780.7" y2="715.2" stroke="#000" stroke-width="1.25" />
<line x1="612.8" y1="719.9" x2="656.6" y2="719.9" stroke="#000" stroke-width="1.25" />
<line x1="649.5" y1="770.1" x2="686.3" y2="770.1" stroke="#000" stroke-width="1.25" />
<line x1="649.5" y1="770.1" x2="686.3" y2="791.6" stroke="#000" stroke-width="1.25" />
<line x1="611.9" y1="782.0" x2="625.0" y2="789.9" stroke="#000" stroke-width="1.25" />
<line x1="649.5" y1="839.8" x2="685.4" y2="839.8" stroke="#000" stroke-width="1.25" />
<line x1="763.6" y1="771.7" x2="781.0" y2="759.5" stroke="#000" stroke-width="1.25" />
<line x1="836.8" y1="752.5" x2="836.8" y2="778.0" stroke="#000" stroke-width="1.25" />
<line x1="756.8" y1="828.9" x2="789.5" y2="828.9" stroke="#000" stroke-width="1.25" />
<line x1="798.4" y1="849.9" x2="825.9" y2="849.9" stroke="#000" stroke-width="1.25" />
<line x1="756.8" y1="876.2" x2="789.5" y2="876.2" stroke="#000" stroke-width="1.25" />
<line x1="867.5" y1="843.6" x2="892.0" y2="843.6" stroke="#000" stroke-width="1.25" />
<line x1="1182.0" y1="605.1" x2="1213.8" y2="605.1" stroke="#000" stroke-width="1.25" />
<line x1="1167.4" y1="664.8" x2="1199.6" y2="664.8" stroke="#000" stroke-width="1.25" />
<line x1="1164.6" y1="697.9" x2="1199.6" y2="697.9" stroke="#000" stroke-width="1.25" />
<line x1="899.0" y1="785.2" x2="930.5" y2="785.2" stroke="#000" stroke-width="1" stroke-dasharray="1.5 0.8"/></g>
</svg></body></html>
